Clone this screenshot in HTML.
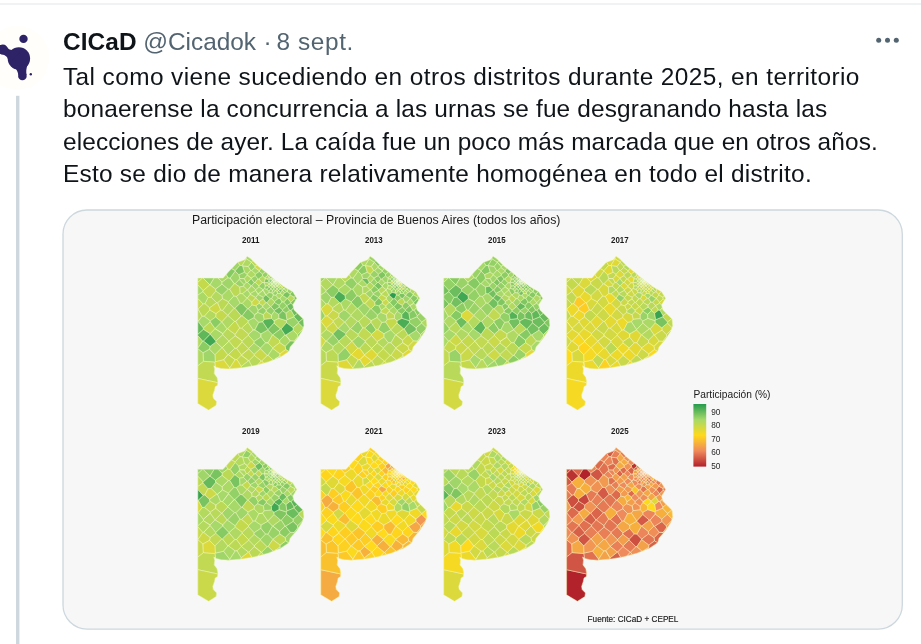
<!DOCTYPE html>
<html lang="es"><head><meta charset="utf-8"><title>CICaD</title><style>
html,body{margin:0;padding:0;background:#fff}
body{width:921px;height:644px;overflow:hidden;position:relative;font-family:"Liberation Sans",sans-serif;color:#0f1419}
.l{position:absolute;white-space:nowrap;left:63px;font-size:24.4px;line-height:32px;letter-spacing:0}
.top{position:absolute;left:0;top:3px;width:921px;height:2px;background:#f0f3f4}
.av{position:absolute;left:0;top:20px}
svg.chart{position:absolute;left:0;top:0}
svg text{font-family:"Liberation Sans",sans-serif}
</style></head><body>
<div class="top"></div>
<svg class="av" width="60" height="80" viewBox="0 20 60 80">
<circle cx="17.5" cy="58" r="32" fill="#fffefb"/>
<g fill="#2e2366">
<circle cx="23.5" cy="38.9" r="4.2"/>
<circle cx="18.9" cy="58.5" r="11.2"/>
<circle cx="2.8" cy="49.6" r="5"/>
<circle cx="22.4" cy="76" r="4.3"/>
<circle cx="30.8" cy="74.3" r="1.2"/>
<path d="M0 45 L4 45 C8 47 8 50 12 50 L20 52 L12 61 L8.4 60 C7.4 56.5 4 54.5 0 53.6Z"/>
<path d="M14 66 C17 70 18 72 18.3 75 L26.6 75 C26 72 26 68 28 64Z"/>
</g></svg>
<div class="l" id="h" style="top:25.6px;letter-spacing:0.1px"><b>CICaD</b></div>
<div class="l" style="top:26px;left:143.2px;letter-spacing:0px;color:#536471">@Cicadok</div>
<div class="l" style="top:26px;left:263.5px;color:#536471">·</div>
<div class="l" style="top:26px;left:276.5px;letter-spacing:0.6px;color:#536471">8 sept.</div>
<svg style="position:absolute;left:870px;top:32px" width="36" height="16"><g fill="#536471"><circle cx="8.7" cy="8.2" r="2.5"/><circle cx="17.5" cy="8.2" r="2.5"/><circle cx="26.3" cy="8.2" r="2.5"/></g></svg>
<div class="l" id="l1" style="top:61px;letter-spacing:0.408px">Tal como viene sucediendo en otros distritos durante 2025, en territorio</div>
<div class="l" id="l2" style="top:93.3px;letter-spacing:0.156px">bonaerense la concurrencia a las urnas se fue desgranando hasta las</div>
<div class="l" id="l3" style="top:125.6px;letter-spacing:0.114px">elecciones de ayer. La caída fue un poco más marcada que en otros años.</div>
<div class="l" id="l4" style="top:157.9px;letter-spacing:0.254px">Esto se dio de manera relativamente homogénea en todo el distrito.</div>
<svg class="chart" width="921" height="644" viewBox="0 0 921 644">
<defs><linearGradient id="lg" x1="0" y1="0" x2="0" y2="1">
<stop offset="0" stop-color="#259b4d"/><stop offset="0.25" stop-color="#a6d96a"/><stop offset="0.5" stop-color="#ffd91a"/><stop offset="0.75" stop-color="#ef8a5c"/><stop offset="1" stop-color="#b2202b"/></linearGradient>
<radialGradient id="gba"><stop offset="0" stop-color="#fffff0" stop-opacity=".75"/><stop offset=".5" stop-color="#fffff0" stop-opacity=".35"/><stop offset="1" stop-color="#fffff0" stop-opacity="0"/></radialGradient><clipPath id="pc"><path d="M0 22L25.3 22L31 15.5L39.6 6.4L46.8 3.8L49.4 0.3L53.3 3.1L59.8 9.7L70.3 18.1L78.1 24.7L85.9 30.5L95 35.7L99 42.3L95 48.8L96.3 54L101.6 59.2L105.5 63.1L106.1 69.7L104.2 75.3L99 83.1L92.4 91L91.1 95.5L83.3 100.7L70.3 106L57.2 109.5L44.2 111.8L31.1 112.9L23.3 112.5L18.5 111.2L16 109.7L16.9 113L16.4 117.6L19.2 121.4L20.2 125.1L19.7 129.3L17.4 130.7L16.6 134.4L15 139.1L15.5 142.3L18.8 145.6L18.3 149.3L10.8 154L0 147.5Z"/></clipPath>
<filter id="bl" x="-5%" y="-5%" width="110%" height="110%"><feGaussianBlur stdDeviation="0.55"/></filter></defs>
<rect x="16.05" y="95.8" width="3.35" height="560" fill="#cdd7dd"/>
<rect x="63" y="210" width="839.3" height="419.1" rx="24" fill="#f7f7f7" stroke="#cdd8de" stroke-width="1.3"/>
<text x="192" y="224.3" font-size="12.3" fill="#1a1a1a" id="ttl">Participación electoral – Provincia de Buenos Aires (todos los años)</text>
<text x="242" y="243.1" textLength="17.6" lengthAdjust="spacingAndGlyphs" font-size="9" font-weight="700" fill="#1c1c1c">2011</text><text x="365" y="243.1" textLength="17.6" lengthAdjust="spacingAndGlyphs" font-size="9" font-weight="700" fill="#1c1c1c">2013</text><text x="488" y="243.1" textLength="17.6" lengthAdjust="spacingAndGlyphs" font-size="9" font-weight="700" fill="#1c1c1c">2015</text><text x="611" y="243.1" textLength="17.6" lengthAdjust="spacingAndGlyphs" font-size="9" font-weight="700" fill="#1c1c1c">2017</text><text x="242" y="434.4" textLength="17.6" lengthAdjust="spacingAndGlyphs" font-size="9" font-weight="700" fill="#1c1c1c">2019</text><text x="365" y="434.4" textLength="17.6" lengthAdjust="spacingAndGlyphs" font-size="9" font-weight="700" fill="#1c1c1c">2021</text><text x="488" y="434.4" textLength="17.6" lengthAdjust="spacingAndGlyphs" font-size="9" font-weight="700" fill="#1c1c1c">2023</text><text x="611" y="434.4" textLength="17.6" lengthAdjust="spacingAndGlyphs" font-size="9" font-weight="700" fill="#1c1c1c">2025</text>
<g stroke="#f6fbd0" stroke-opacity=".55" stroke-width=".85" stroke-linejoin="round" filter="url(#bl)">
<g transform="translate(197.8 256)"><path d="M0 22L25.3 22L31 15.5L39.6 6.4L46.8 3.8L49.4 0.3L53.3 3.1L59.8 9.7L70.3 18.1L78.1 24.7L85.9 30.5L95 35.7L99 42.3L95 48.8L96.3 54L101.6 59.2L105.5 63.1L106.1 69.7L104.2 75.3L99 83.1L92.4 91L91.1 95.5L83.3 100.7L70.3 106L57.2 109.5L44.2 111.8L31.1 112.9L23.3 112.5L18.5 111.2L16 109.7L16.9 113L16.4 117.6L19.2 121.4L20.2 125.1L19.7 129.3L17.4 130.7L16.6 134.4L15 139.1L15.5 142.3L18.8 145.6L18.3 149.3L10.8 154L0 147.5Z" fill="#aed963"/><path d="M4.7 22.0L0.0 22.0L0.0 26.4ZM42.1 9.4L44.3 9.6L48.4 2.8L48.2 1.9L46.8 3.8L40.1 6.2ZM13.2 41.1L10.3 41.4L7.1 47.7L11.8 51.9L18.9 46.7ZM0.2 65.4L4.4 60.2L0.3 53.0L0.0 52.9L0.0 65.4ZM25.0 77.6L24.9 78.8L31.1 85.2L37.5 79.8L37.4 78.4L29.7 72.8L29.3 72.8ZM55.5 74.0L50.2 66.2L43.7 72.1L50.8 78.2ZM51.0 104.8L54.0 110.1L57.2 109.5L60.2 108.7L63.5 104.9L56.4 99.3ZM93.0 46.5L96.6 42.9L96.4 41.1L92.3 38.9L89.6 42.3ZM69.2 23.1L71.6 21.5L71.6 21.4L69.7 19.6L66.9 21.7L67.5 23.0Z" fill="#b8d95a"/><path d="M12.1 28.9L12.2 28.9L16.4 22.0L5.2 22.0ZM24.2 28.1L17.7 33.1L18.0 35.1L24.2 39.5L30.5 33.3ZM37.3 27.7L41.8 31.0L45.7 30.2L46.4 28.7L41.4 23.4ZM89.1 63.7L88.5 64.6L88.7 66.8L95.2 71.8L100.8 67.0L100.9 66.1L96.1 60.8ZM53.6 6.3L50.4 10.5L52.8 14.5L53.9 14.6L57.1 11.4L57.2 10.3ZM49.5 19.0L49.5 18.2L46.6 16.2L40.9 18.7L42.0 22.5L46.5 22.6ZM61.6 14.8L61.6 15.5L64.6 18.1L67.7 16.0L63.1 12.3ZM57.5 19.5L53.2 22.0L53.3 22.5L56.4 26.7L57.5 26.4L60.2 22.9ZM58.0 49.7L60.4 54.4L65.0 51.2L64.9 49.7L61.3 47.3ZM92.2 38.2L94.5 35.4L90.3 33.0L90.0 33.4L89.3 35.7ZM69.5 26.5L71.1 28.2L71.2 28.2L72.9 26.6L71.2 25.3ZM77.4 24.1L76.2 23.1L74.8 24.6L76.2 26.0L77.9 25.0L77.9 24.9ZM76.2 26.6L76.2 26.0L74.8 24.6L74.4 24.6L72.9 26.6L74.1 27.8L74.5 27.9ZM73.1 32.7L72.9 32.7L71.0 35.1L71.3 36.5L74.3 37.2L74.7 34.0ZM79.4 29.9L79.2 29.9L77.6 31.5L78.8 33.0L79.4 32.9L80.7 31.4ZM86.4 32.8L87.6 31.4L85.9 30.5L85.6 30.2L84.5 31.3L84.5 31.4L85.6 32.8ZM85.6 32.8L84.5 31.4L82.4 33.0L84.2 34.6L84.7 34.5ZM86.9 36.8L89.2 35.7L86.4 32.8L85.6 32.8L84.7 34.5Z" fill="#99d367"/><path d="M5.3 34.7L12.1 28.9L5.2 22.0L4.7 22.0L0.0 26.4L0.0 28.9ZM0.0 42.3L0.0 52.9L0.3 53.0L5.4 48.1ZM30.0 59.2L24.7 54.4L22.8 54.0L18.1 57.6L17.8 61.1L23.7 65.9L24.1 65.9L30.0 59.6ZM29.7 72.8L37.4 78.4L42.0 71.9L38.0 65.4L36.7 65.3ZM24.5 91.6L24.1 91.6L17.1 98.7L17.5 105.8L25.8 103.9L30.1 98.7ZM38.8 92.2L37.0 92.2L30.6 98.6L37.4 103.7L39.2 103.6L43.6 99.2L43.7 98.9ZM25.8 103.9L32.0 112.0L37.4 103.7L30.6 98.6L30.1 98.7ZM65.7 107.2L70.3 106.0L75.4 103.9L70.3 99.3L69.3 99.5L63.9 104.9Z" fill="#c5d94e"/><path d="M5.2 35.6L5.3 34.7L0.0 28.9L0.0 39.3ZM12.2 28.9L17.7 33.1L24.2 28.1L24.2 26.0L20.3 22.0L16.4 22.0ZM6.5 60.1L4.4 60.2L0.2 65.4L5.5 72.1L12.5 65.8L12.5 64.8ZM37.1 52.3L42.5 47.2L38.7 40.4L36.1 39.9L30.6 45.8L30.7 46.5L36.3 52.4ZM56.2 61.6L50.3 64.7L50.2 66.2L55.5 74.0L57.2 73.8L61.0 66.4ZM57.2 73.8L55.5 74.0L50.8 78.2L50.6 79.3L56.3 85.5L63.0 81.1L63.1 77.8ZM63.1 77.8L63.0 81.1L67.6 86.8L70.2 86.9L74.8 78.8L70.0 73.9ZM69.3 99.5L70.3 99.3L75.0 92.3L75.0 91.9L70.2 86.9L67.6 86.8L62.6 92.0L62.5 92.7ZM100.0 80.5L96.4 85.2L96.7 85.9L99.0 83.1L100.6 80.7ZM48.4 2.8L53.6 6.2L55.0 4.8L53.3 3.1L49.7 0.5L48.8 1.1L48.2 1.9ZM61.6 15.5L61.6 14.8L57.1 11.4L53.9 14.6L57.6 18.1ZM52.3 37.5L49.9 33.9L49.4 33.9L44.4 37.7L49.2 42.2L49.5 42.1L52.4 38.4ZM61.3 30.7L57.8 33.6L57.8 34.4L60.3 38.0L65.2 34.1L65.2 33.6ZM60.3 38.6L60.3 38.0L57.8 34.4L52.3 37.5L52.4 38.4L57.9 41.5ZM69.3 33.2L66.7 32.5L65.2 33.6L65.2 34.1L68.0 39.1L68.2 39.1L71.3 36.5L71.0 35.1ZM68.0 39.1L65.2 34.1L60.3 38.0L60.3 38.6L65.5 41.3ZM64.9 49.7L65.0 51.2L68.4 54.1L72.7 50.7L69.1 46.6L68.2 46.5ZM82.1 42.4L84.2 46.0L85.9 46.2L89.5 42.4L84.8 39.4L84.3 39.4ZM81.2 62.3L81.1 58.4L76.4 55.2L73.7 59.0L73.7 62.6L76.2 64.9ZM73.0 23.1L74.4 24.6L74.8 24.6L76.2 23.1L74.5 21.7ZM74.1 27.8L72.9 26.6L72.9 26.6L71.2 28.2L72.5 29.8L73.0 29.7ZM80.0 26.1L78.1 24.7L77.9 24.9L77.9 25.0L79.3 26.6L79.7 26.6ZM86.4 32.8L89.2 35.7L89.3 35.7L90.0 33.4L88.1 31.8L87.6 31.4ZM84.2 34.6L82.7 36.3L82.8 37.6L84.3 39.4L84.8 39.4L86.9 36.8L84.7 34.5Z" fill="#a6d96a"/><path d="M42.1 9.4L40.1 6.2L39.6 6.4L33.7 12.7L37.4 14.7ZM42.0 22.5L40.9 18.7L37.4 15.1L32.3 22.1L36.5 27.8L37.3 27.7L41.4 23.4ZM30.1 21.7L24.2 26.0L24.2 28.1L30.5 33.3L31.9 33.3L36.5 27.8L32.3 22.1ZM50.3 52.8L56.6 58.9L60.1 56.4L60.4 54.4L58.0 49.7L54.3 48.9ZM17.1 98.7L11.7 93.1L5.2 96.7L5.6 105.3L17.1 106.2L17.5 105.8ZM64.8 65.9L66.5 63.4L65.5 58.6L60.1 56.4L56.6 58.9L56.2 61.6L61.0 66.4ZM46.5 22.6L42.0 22.5L41.4 23.4L46.4 28.7L48.4 26.3ZM56.4 26.7L53.7 29.8L57.8 33.6L61.3 30.7L61.2 29.9L57.5 26.4ZM65.5 41.3L60.3 38.6L57.9 41.5L57.9 41.9L61.4 45.6L65.4 42.9ZM73.8 42.6L76.5 45.6L80.8 42.3L78.1 39.2L75.6 38.9ZM72.9 23.1L71.6 21.5L69.2 23.1L71.2 24.6ZM79.3 26.6L77.9 25.0L76.2 26.0L76.2 26.6L77.8 28.3L78.0 28.3ZM79.2 29.9L78.0 28.3L77.8 28.3L75.9 29.7L75.9 29.7L77.4 31.5L77.6 31.5ZM77.4 31.5L75.9 29.7L74.5 30.9L74.5 31.2L76.1 32.7ZM74.7 34.0L74.3 37.2L75.0 37.8L77.7 34.7L77.7 34.7L76.0 33.2Z" fill="#a0d669"/><path d="M30.1 21.7L32.3 22.1L37.4 15.1L37.4 14.7L33.7 12.7L31.0 15.5L28.4 18.5ZM56.2 61.6L56.6 58.9L50.3 52.8L49.6 52.8L44.2 59.8L50.3 64.7ZM49.7 26.5L53.4 29.8L53.7 29.8L56.4 26.7L53.3 22.5ZM76.5 45.6L76.6 46.6L81.4 49.4L84.2 46.0L82.1 42.4L80.8 42.3ZM85.9 46.2L89.0 49.7L89.1 49.7L93.0 47.2L93.0 46.5L89.6 42.3L89.5 42.4ZM71.6 21.4L71.6 21.5L72.9 23.1L73.0 23.1L74.5 21.7L72.7 20.2ZM71.5 31.1L69.6 29.7L67.4 29.9L66.7 32.5L69.3 33.2L71.5 31.2Z" fill="#86ca63"/><path d="M28.4 18.5L25.3 22.0L20.3 22.0L24.2 26.0L30.1 21.7ZM5.4 48.1L7.1 47.7L10.3 41.4L5.2 35.6L0.0 39.3L0.0 42.3ZM31.9 33.3L30.5 33.3L24.2 39.5L24.6 42.7L30.6 45.8L36.1 39.9ZM49.5 42.1L49.2 42.2L44.3 47.4L49.6 52.8L50.3 52.8L54.3 48.9L54.1 46.1ZM23.7 65.9L17.2 72.5L17.2 72.6L25.0 77.6L29.3 72.8L24.1 65.9ZM12.3 77.7L12.4 78.2L18.0 85.1L24.9 78.8L25.0 77.6L17.2 72.6ZM24.1 91.6L18.0 85.9L12.3 90.3L11.7 93.1L17.1 98.7ZM50.9 92.9L56.3 98.5L62.5 92.7L62.6 92.0L56.3 87.0L50.8 92.4ZM96.4 85.2L100.0 80.5L99.7 78.6L95.4 74.2L87.9 79.0L92.6 85.0ZM81.9 86.7L87.4 90.4L92.6 85.0L87.9 79.0L87.2 78.8L81.8 84.2ZM82.1 100.0L82.2 97.8L75.0 92.3L70.3 99.3L75.4 103.9L77.1 103.2ZM82.1 100.0L77.1 103.2L82.9 100.9ZM52.8 14.5L50.4 10.5L44.7 9.8L46.6 16.2L49.5 18.2ZM46.4 28.7L45.7 30.2L49.4 33.9L49.9 33.9L53.4 29.8L49.7 26.5L48.4 26.3ZM57.8 34.4L57.8 33.6L53.7 29.8L53.4 29.8L49.9 33.9L52.3 37.5ZM79.6 37.5L78.1 39.2L80.8 42.3L82.1 42.4L84.3 39.4L82.8 37.6ZM69.7 19.6L71.6 21.4L72.7 20.2L70.3 18.1L70.1 18.0ZM79.2 29.9L79.4 29.9L81.3 28.4L81.2 27.6L79.7 26.6L79.3 26.6L78.0 28.3ZM81.2 31.5L82.9 29.7L82.8 29.5L81.3 28.4L79.4 29.9L80.7 31.4Z" fill="#aad966"/><path d="M12.2 28.9L12.1 28.9L5.3 34.7L5.2 35.6L10.3 41.4L13.2 41.1L18.0 35.1L17.7 33.1ZM43.7 72.1L42.0 71.9L37.4 78.4L37.5 79.8L44.4 84.9L50.6 79.3L50.8 78.2ZM44.4 84.9L37.5 79.8L31.1 85.2L31.1 85.3L37.0 92.2L38.8 92.2L44.4 85.9ZM44.4 85.9L38.8 92.2L43.7 98.9L50.9 92.9L50.8 92.4ZM43.7 98.9L43.6 99.2L50.8 104.8L51.0 104.8L56.4 99.3L56.3 98.5L50.9 92.9ZM43.6 99.2L39.2 103.6L43.4 110.5L50.8 104.8ZM70.2 86.9L75.0 91.9L81.9 86.7L81.8 84.2L75.0 78.8L74.8 78.8ZM53.6 6.2L53.6 6.3L57.2 10.3L59.3 9.1L55.0 4.8ZM61.4 45.6L61.3 47.3L64.9 49.7L68.2 46.5L65.4 42.9ZM17.1 106.2L5.6 105.3L0.0 109.7L0.0 122.4L20.0 126.7L20.0 126.6L19.4 122.1L19.2 121.4L16.4 117.6L16.9 113.0L16.0 109.7L17.8 110.8Z" fill="#c1d952"/><path d="M44.7 9.8L44.3 9.6L42.1 9.4L37.4 14.7L37.4 15.1L40.9 18.7L46.6 16.2ZM43.5 59.9L44.2 59.8L49.6 52.8L44.3 47.4L42.5 47.2L37.1 52.3ZM70.0 73.9L74.8 78.8L75.0 78.8L82.8 72.9L76.2 67.1L70.0 73.7ZM73.0 50.7L76.4 54.4L81.5 51.2L81.4 49.4L76.6 46.6ZM92.2 38.2L92.3 38.9L96.4 41.1L97.7 40.2L95.0 35.7L94.5 35.4ZM95.0 49.0L95.0 48.8L98.0 44.0L96.6 42.9L93.0 46.5L93.0 47.2ZM72.9 32.7L71.5 31.2L69.3 33.2L71.0 35.1ZM77.7 34.7L78.8 33.0L77.6 31.5L77.4 31.5L76.1 32.7L76.0 33.2Z" fill="#7fc661"/><path d="M18.0 35.1L13.2 41.1L18.9 46.7L19.7 46.9L24.6 42.7L24.2 39.5ZM18.1 57.6L12.1 53.9L6.5 60.1L12.5 64.8L17.8 61.1ZM36.3 52.4L30.7 46.5L24.7 54.4L30.0 59.2ZM24.9 78.8L18.0 85.1L18.0 85.9L24.1 91.6L24.5 91.6L31.1 85.3L31.1 85.2ZM30.6 98.6L37.0 92.2L31.1 85.3L24.5 91.6L30.1 98.7ZM82.8 72.9L83.4 72.9L88.7 66.8L88.5 64.6L81.2 62.3L76.2 64.9L76.2 67.1ZM50.8 104.8L43.4 110.5L43.3 111.5L43.7 111.8L44.2 111.8L54.0 110.1L51.0 104.8ZM100.8 67.0L95.2 71.8L95.4 74.2L99.7 78.6L104.6 74.0L105.4 71.6ZM42.2 37.6L44.4 37.7L49.4 33.9L45.7 30.2L41.8 31.0ZM67.5 23.0L66.9 21.7L64.7 19.9L61.0 22.9L64.3 26.7L66.4 26.7L66.5 26.5ZM66.4 26.7L67.4 29.9L69.6 29.7L71.1 28.2L69.5 26.5L66.5 26.5ZM74.5 27.9L74.1 27.8L73.0 29.7L74.5 30.9L75.9 29.7L75.9 29.7ZM81.2 27.6L81.3 28.4L82.8 29.5L83.6 28.8L81.6 27.3ZM84.5 31.3L82.9 29.7L81.2 31.5L82.3 33.0L82.4 33.0L84.5 31.4ZM79.4 32.9L78.8 33.0L77.7 34.7L77.7 34.7L79.4 35.8L80.8 34.5Z" fill="#b3d95e"/><path d="M11.8 51.9L7.1 47.7L5.4 48.1L0.3 53.0L4.4 60.2L6.5 60.1L12.1 53.9ZM42.2 37.6L41.8 31.0L37.3 27.7L36.5 27.8L31.9 33.3L36.1 39.9L38.7 40.4ZM30.6 45.8L24.6 42.7L19.7 46.9L22.8 54.0L24.7 54.4L30.7 46.5ZM12.5 65.8L5.5 72.1L5.6 73.4L12.3 77.7L17.2 72.6L17.2 72.5ZM36.7 65.3L38.0 65.4L43.5 59.9L37.1 52.3L36.3 52.4L30.0 59.2L30.0 59.6ZM50.3 64.7L44.2 59.8L43.5 59.9L38.0 65.4L42.0 71.9L43.7 72.1L50.2 66.2ZM56.3 87.0L56.3 85.5L50.6 79.3L44.4 84.9L44.4 85.9L50.8 92.4ZM61.0 22.9L60.2 22.9L57.5 26.4L61.2 29.9L64.3 26.7ZM57.9 41.5L52.4 38.4L49.5 42.1L54.1 46.1L57.9 41.9ZM73.7 59.0L68.3 55.3L65.5 58.6L66.5 63.4L73.7 62.6Z" fill="#bcd956"/><path d="M22.8 54.0L19.7 46.9L18.9 46.7L11.8 51.9L12.1 53.9L18.1 57.6ZM57.9 41.9L54.1 46.1L54.3 48.9L58.0 49.7L61.3 47.3L61.4 45.6Z" fill="#ced946"/><path d="M5.6 73.4L5.5 72.1L0.2 65.4L0.0 65.4L0.0 78.4ZM100.9 66.1L105.2 62.8L101.6 59.2L99.6 57.3L96.4 59.7L96.1 60.8Z" fill="#66ba5c"/><path d="M42.5 47.2L44.3 47.4L49.2 42.2L44.4 37.7L42.2 37.6L38.7 40.4ZM4.9 85.1L0.0 79.6L0.0 92.3ZM24.1 65.9L29.3 72.8L29.7 72.8L36.7 65.3L30.0 59.6ZM5.6 105.3L5.2 96.7L0.0 92.5L0.0 109.7ZM53.6 6.2L48.4 2.8L44.3 9.6L44.7 9.8L50.4 10.5L53.6 6.3ZM57.5 19.5L57.6 18.1L53.9 14.6L52.8 14.5L49.5 18.2L49.5 19.0L53.2 22.0ZM49.5 19.0L46.5 22.6L48.4 26.3L49.7 26.5L53.3 22.5L53.2 22.0ZM69.1 46.6L72.7 50.7L73.0 50.7L76.6 46.6L76.5 45.6L73.8 42.6L72.3 42.7ZM88.0 57.2L89.1 63.7L96.1 60.8L96.4 59.7L93.4 54.4L91.9 54.2ZM72.5 29.8L71.2 28.2L71.1 28.2L69.6 29.7L71.5 31.1Z" fill="#afd962"/><path d="M12.5 64.8L12.5 65.8L17.2 72.5L23.7 65.9L17.8 61.1ZM12.3 90.3L5.8 85.1L4.9 85.1L0.0 92.3L0.0 92.5L5.2 96.7L11.7 93.1ZM81.8 84.2L87.2 78.8L83.4 72.9L82.8 72.9L75.0 78.8ZM99.7 78.6L100.0 80.5L100.6 80.7L104.2 75.3L104.6 74.0ZM64.7 19.9L64.6 18.1L61.6 15.5L57.6 18.1L57.5 19.5L60.2 22.9L61.0 22.9ZM89.0 49.7L84.5 53.8L84.7 54.7L88.0 57.2L91.9 54.2L89.1 49.7ZM74.5 31.2L74.5 30.9L73.0 29.7L72.5 29.8L71.5 31.1L71.5 31.2L72.9 32.7L73.1 32.7ZM76.1 32.7L74.5 31.2L73.1 32.7L74.7 34.0L76.0 33.2Z" fill="#8ccd64"/><path d="M5.6 73.4L0.0 78.4L0.0 79.6L4.9 85.1L5.8 85.1L12.4 78.2L12.3 77.7Z" fill="#5fb75a"/><path d="M5.8 85.1L12.3 90.3L18.0 85.9L18.0 85.1L12.4 78.2Z" fill="#3fa753"/><path d="M76.2 67.1L76.2 64.9L73.7 62.6L66.5 63.4L64.8 65.9L70.0 73.7Z" fill="#59b459"/><path d="M64.8 65.9L61.0 66.4L57.2 73.8L63.1 77.8L70.0 73.9L70.0 73.7ZM96.4 85.2L92.6 85.0L87.4 90.4L87.9 93.6L91.1 95.5L91.1 95.5L92.4 91.0L96.7 85.9ZM86.9 36.8L84.8 39.4L89.5 42.4L89.6 42.3L92.3 38.9L92.2 38.2L89.3 35.7L89.2 35.7ZM96.4 41.1L96.6 42.9L98.0 44.0L99.0 42.3L97.7 40.2ZM84.7 54.7L81.1 58.4L81.2 62.3L88.5 64.6L89.1 63.7L88.0 57.2ZM69.5 26.5L71.2 25.3L71.2 24.6L69.2 23.1L67.5 23.0L66.5 26.5Z" fill="#79c360"/><path d="M32.0 112.0L25.8 103.9L17.5 105.8L17.1 106.2L17.8 110.8L18.5 111.2L23.3 112.5L31.1 112.9L32.1 112.8ZM0.0 122.4L0.0 147.5L10.8 154.0L18.3 149.3L18.8 145.6L15.5 142.3L15.0 139.1L16.6 134.4L17.4 130.7L19.7 129.3L20.0 126.7Z" fill="#dbd93a"/><path d="M62.6 92.0L67.6 86.8L63.0 81.1L56.3 85.5L56.3 87.0ZM69.7 19.6L70.1 18.0L67.7 16.0L64.6 18.1L64.7 19.9L66.9 21.7ZM64.3 26.7L61.2 29.9L61.3 30.7L65.2 33.6L66.7 32.5L67.4 29.9L66.4 26.7ZM68.2 39.1L72.3 42.7L73.8 42.6L75.6 38.9L75.0 37.8L74.3 37.2L71.3 36.5ZM60.4 54.4L60.1 56.4L65.5 58.6L68.3 55.3L68.4 54.1L65.0 51.2ZM68.4 54.1L68.3 55.3L73.7 59.0L76.4 55.2L76.4 54.4L73.0 50.7L72.7 50.7ZM85.9 46.2L84.2 46.0L81.4 49.4L81.5 51.2L84.5 53.8L89.0 49.7ZM77.8 28.3L76.2 26.6L74.5 27.9L75.9 29.7ZM79.7 26.6L81.2 27.6L81.6 27.3L80.0 26.1ZM82.3 33.0L81.2 31.5L80.7 31.4L79.4 32.9L80.8 34.5L81.1 34.5ZM77.7 34.7L75.0 37.8L75.6 38.9L78.1 39.2L79.6 37.5L79.4 35.8ZM81.1 34.5L80.8 34.5L79.4 35.8L79.6 37.5L82.8 37.6L82.7 36.3Z" fill="#93d066"/><path d="M39.2 103.6L37.4 103.7L32.0 112.0L32.1 112.8L42.5 111.9L43.3 111.5L43.4 110.5Z" fill="#d7d93e"/><path d="M87.2 78.8L87.9 79.0L95.4 74.2L95.2 71.8L88.7 66.8L83.4 72.9Z" fill="#45aa54"/><path d="M56.4 99.3L63.5 104.9L63.9 104.9L69.3 99.5L62.5 92.7L56.3 98.5ZM75.0 91.9L75.0 92.3L82.2 97.8L87.9 93.6L87.4 90.4L81.9 86.7ZM82.8 29.5L82.9 29.7L84.5 31.3L85.6 30.2L83.6 28.8Z" fill="#cad94a"/><path d="M100.9 66.1L100.8 67.0L105.4 71.6L106.1 69.7L105.5 63.1L105.2 62.8ZM68.2 46.5L69.1 46.6L72.3 42.7L68.2 39.1L68.0 39.1L65.5 41.3L65.4 42.9ZM81.5 51.2L76.4 54.4L76.4 55.2L81.1 58.4L84.7 54.7L84.5 53.8ZM82.4 33.0L82.3 33.0L81.1 34.5L82.7 36.3L84.2 34.6Z" fill="#72c05e"/><path d="M60.2 108.7L65.7 107.2L63.9 104.9L63.5 104.9ZM87.9 93.6L82.2 97.8L82.1 100.0L82.9 100.9L83.3 100.7L91.1 95.5Z" fill="#e0d936"/><path d="M57.2 10.3L57.1 11.4L61.6 14.8L63.1 12.3L59.8 9.7L59.3 9.1Z" fill="#d3d942"/><path d="M91.9 54.2L93.4 54.4L95.7 51.7L95.0 49.0L93.0 47.2L89.1 49.7ZM96.4 59.7L99.6 57.3L96.3 54.0L95.7 51.7L93.4 54.4ZM72.9 26.6L72.9 26.6L74.4 24.6L73.0 23.1L72.9 23.1L71.2 24.6L71.2 25.3Z" fill="#6cbd5d"/><circle cx="77.5" cy="24.5" r="8" fill="url(#gba)" stroke="none" clip-path="url(#pc)"/></g>
<g transform="translate(320.8 256)"><path d="M0 22L25.3 22L31 15.5L39.6 6.4L46.8 3.8L49.4 0.3L53.3 3.1L59.8 9.7L70.3 18.1L78.1 24.7L85.9 30.5L95 35.7L99 42.3L95 48.8L96.3 54L101.6 59.2L105.5 63.1L106.1 69.7L104.2 75.3L99 83.1L92.4 91L91.1 95.5L83.3 100.7L70.3 106L57.2 109.5L44.2 111.8L31.1 112.9L23.3 112.5L18.5 111.2L16 109.7L16.9 113L16.4 117.6L19.2 121.4L20.2 125.1L19.7 129.3L17.4 130.7L16.6 134.4L15 139.1L15.5 142.3L18.8 145.6L18.3 149.3L10.8 154L0 147.5Z" fill="#b1d960"/><path d="M4.7 22.0L0.0 22.0L0.0 26.4ZM30.1 21.7L24.2 26.0L24.2 28.1L30.5 33.3L31.9 33.3L36.5 27.8L32.3 22.1ZM24.5 91.6L24.1 91.6L17.1 98.7L17.5 105.8L25.8 103.9L30.1 98.7ZM64.8 65.9L61.0 66.4L57.2 73.8L63.1 77.8L70.0 73.9L70.0 73.7ZM89.1 63.7L88.5 64.6L88.7 66.8L95.2 71.8L100.8 67.0L100.9 66.1L96.1 60.8ZM100.8 67.0L95.2 71.8L95.4 74.2L99.7 78.6L104.6 74.0L105.4 71.6ZM61.6 14.8L61.6 15.5L64.6 18.1L67.7 16.0L63.1 12.3ZM66.4 26.7L67.4 29.9L69.6 29.7L71.1 28.2L69.5 26.5L66.5 26.5ZM76.2 26.6L76.2 26.0L74.8 24.6L74.4 24.6L72.9 26.6L74.1 27.8L74.5 27.9ZM79.3 26.6L77.9 25.0L76.2 26.0L76.2 26.6L77.8 28.3L78.0 28.3ZM72.9 32.7L71.5 31.2L69.3 33.2L71.0 35.1ZM79.4 32.9L78.8 33.0L77.7 34.7L77.7 34.7L79.4 35.8L80.8 34.5Z" fill="#93d066"/><path d="M12.1 28.9L12.2 28.9L16.4 22.0L5.2 22.0ZM42.0 22.5L40.9 18.7L37.4 15.1L32.3 22.1L36.5 27.8L37.3 27.7L41.4 23.4ZM23.7 65.9L17.2 72.5L17.2 72.6L25.0 77.6L29.3 72.8L24.1 65.9ZM64.8 65.9L66.5 63.4L65.5 58.6L60.1 56.4L56.6 58.9L56.2 61.6L61.0 66.4ZM63.1 77.8L63.0 81.1L67.6 86.8L70.2 86.9L74.8 78.8L70.0 73.9ZM96.4 85.2L100.0 80.5L99.7 78.6L95.4 74.2L87.9 79.0L92.6 85.0ZM61.0 22.9L60.2 22.9L57.5 26.4L61.2 29.9L64.3 26.7ZM64.3 26.7L61.2 29.9L61.3 30.7L65.2 33.6L66.7 32.5L67.4 29.9L66.4 26.7ZM69.3 33.2L66.7 32.5L65.2 33.6L65.2 34.1L68.0 39.1L68.2 39.1L71.3 36.5L71.0 35.1ZM68.2 46.5L69.1 46.6L72.3 42.7L68.2 39.1L68.0 39.1L65.5 41.3L65.4 42.9ZM64.9 49.7L65.0 51.2L68.4 54.1L72.7 50.7L69.1 46.6L68.2 46.5ZM81.2 62.3L81.1 58.4L76.4 55.2L73.7 59.0L73.7 62.6L76.2 64.9ZM96.4 41.1L96.6 42.9L98.0 44.0L99.0 42.3L97.7 40.2ZM74.5 31.2L74.5 30.9L73.0 29.7L72.5 29.8L71.5 31.1L71.5 31.2L72.9 32.7L73.1 32.7ZM74.7 34.0L74.3 37.2L75.0 37.8L77.7 34.7L77.7 34.7L76.0 33.2ZM82.8 29.5L82.9 29.7L84.5 31.3L85.6 30.2L83.6 28.8ZM84.2 34.6L82.7 36.3L82.8 37.6L84.3 39.4L84.8 39.4L86.9 36.8L84.7 34.5Z" fill="#a6d96a"/><path d="M5.3 34.7L12.1 28.9L5.2 22.0L4.7 22.0L0.0 26.4L0.0 28.9ZM13.2 41.1L10.3 41.4L7.1 47.7L11.8 51.9L18.9 46.7ZM36.3 52.4L30.7 46.5L24.7 54.4L30.0 59.2ZM24.1 65.9L29.3 72.8L29.7 72.8L36.7 65.3L30.0 59.6ZM24.1 91.6L18.0 85.9L12.3 90.3L11.7 93.1L17.1 98.7ZM62.6 92.0L67.6 86.8L63.0 81.1L56.3 85.5L56.3 87.0ZM82.1 100.0L77.1 103.2L82.9 100.9ZM46.4 28.7L45.7 30.2L49.4 33.9L49.9 33.9L53.4 29.8L49.7 26.5L48.4 26.3ZM92.2 38.2L92.3 38.9L96.4 41.1L97.7 40.2L95.0 35.7L94.5 35.4ZM69.2 23.1L71.6 21.5L71.6 21.4L69.7 19.6L66.9 21.7L67.5 23.0ZM71.5 31.1L69.6 29.7L67.4 29.9L66.7 32.5L69.3 33.2L71.5 31.2ZM79.7 26.6L81.2 27.6L81.6 27.3L80.0 26.1Z" fill="#b3d95e"/><path d="M5.2 35.6L5.3 34.7L0.0 28.9L0.0 39.3ZM24.2 28.1L17.7 33.1L18.0 35.1L24.2 39.5L30.5 33.3ZM37.3 27.7L41.8 31.0L45.7 30.2L46.4 28.7L41.4 23.4ZM42.2 37.6L41.8 31.0L37.3 27.7L36.5 27.8L31.9 33.3L36.1 39.9L38.7 40.4ZM30.6 45.8L24.6 42.7L19.7 46.9L22.8 54.0L24.7 54.4L30.7 46.5ZM99.7 78.6L100.0 80.5L100.6 80.7L104.2 75.3L104.6 74.0ZM53.6 6.2L48.4 2.8L44.3 9.6L44.7 9.8L50.4 10.5L53.6 6.3ZM53.6 6.3L50.4 10.5L52.8 14.5L53.9 14.6L57.1 11.4L57.2 10.3ZM58.0 49.7L60.4 54.4L65.0 51.2L64.9 49.7L61.3 47.3ZM68.4 54.1L68.3 55.3L73.7 59.0L76.4 55.2L76.4 54.4L73.0 50.7L72.7 50.7ZM85.9 46.2L89.0 49.7L89.1 49.7L93.0 47.2L93.0 46.5L89.6 42.3L89.5 42.4ZM91.9 54.2L93.4 54.4L95.7 51.7L95.0 49.0L93.0 47.2L89.1 49.7ZM77.4 24.1L76.2 23.1L74.8 24.6L76.2 26.0L77.9 25.0L77.9 24.9ZM77.7 34.7L78.8 33.0L77.6 31.5L77.4 31.5L76.1 32.7L76.0 33.2ZM86.9 36.8L89.2 35.7L86.4 32.8L85.6 32.8L84.7 34.5Z" fill="#aad966"/><path d="M42.1 9.4L44.3 9.6L48.4 2.8L48.2 1.9L46.8 3.8L40.1 6.2ZM30.1 21.7L32.3 22.1L37.4 15.1L37.4 14.7L33.7 12.7L31.0 15.5L28.4 18.5ZM12.2 28.9L17.7 33.1L24.2 28.1L24.2 26.0L20.3 22.0L16.4 22.0ZM0.0 42.3L0.0 52.9L0.3 53.0L5.4 48.1ZM5.6 73.4L0.0 78.4L0.0 79.6L4.9 85.1L5.8 85.1L12.4 78.2L12.3 77.7ZM36.7 65.3L38.0 65.4L43.5 59.9L37.1 52.3L36.3 52.4L30.0 59.2L30.0 59.6ZM12.3 90.3L5.8 85.1L4.9 85.1L0.0 92.3L0.0 92.5L5.2 96.7L11.7 93.1ZM39.2 103.6L37.4 103.7L32.0 112.0L32.1 112.8L42.5 111.9L43.3 111.5L43.4 110.5ZM100.9 66.1L100.8 67.0L105.4 71.6L106.1 69.7L105.5 63.1L105.2 62.8ZM49.5 19.0L46.5 22.6L48.4 26.3L49.7 26.5L53.3 22.5L53.2 22.0ZM42.2 37.6L44.4 37.7L49.4 33.9L45.7 30.2L41.8 31.0ZM92.2 38.2L94.5 35.4L90.3 33.0L90.0 33.4L89.3 35.7Z" fill="#afd962"/><path d="M42.1 9.4L40.1 6.2L39.6 6.4L33.7 12.7L37.4 14.7ZM12.2 28.9L12.1 28.9L5.3 34.7L5.2 35.6L10.3 41.4L13.2 41.1L18.0 35.1L17.7 33.1ZM44.7 9.8L44.3 9.6L42.1 9.4L37.4 14.7L37.4 15.1L40.9 18.7L46.6 16.2ZM31.9 33.3L30.5 33.3L24.2 39.5L24.6 42.7L30.6 45.8L36.1 39.9ZM50.3 52.8L56.6 58.9L60.1 56.4L60.4 54.4L58.0 49.7L54.3 48.9ZM55.5 74.0L50.2 66.2L43.7 72.1L50.8 78.2ZM57.5 19.5L53.2 22.0L53.3 22.5L56.4 26.7L57.5 26.4L60.2 22.9ZM57.8 34.4L57.8 33.6L53.7 29.8L53.4 29.8L49.9 33.9L52.3 37.5ZM73.8 42.6L76.5 45.6L80.8 42.3L78.1 39.2L75.6 38.9ZM85.9 46.2L84.2 46.0L81.4 49.4L81.5 51.2L84.5 53.8L89.0 49.7ZM96.4 59.7L99.6 57.3L96.3 54.0L95.7 51.7L93.4 54.4ZM74.1 27.8L72.9 26.6L72.9 26.6L71.2 28.2L72.5 29.8L73.0 29.7Z" fill="#8ccd64"/><path d="M28.4 18.5L25.3 22.0L20.3 22.0L24.2 26.0L30.1 21.7ZM5.6 73.4L5.5 72.1L0.2 65.4L0.0 65.4L0.0 78.4ZM17.1 98.7L11.7 93.1L5.2 96.7L5.6 105.3L17.1 106.2L17.5 105.8ZM56.3 87.0L56.3 85.5L50.6 79.3L44.4 84.9L44.4 85.9L50.8 92.4ZM44.4 85.9L38.8 92.2L43.7 98.9L50.9 92.9L50.8 92.4ZM50.9 92.9L56.3 98.5L62.5 92.7L62.6 92.0L56.3 87.0L50.8 92.4ZM81.8 84.2L87.2 78.8L83.4 72.9L82.8 72.9L75.0 78.8ZM70.2 86.9L75.0 91.9L81.9 86.7L81.8 84.2L75.0 78.8L74.8 78.8ZM50.8 104.8L43.4 110.5L43.3 111.5L43.7 111.8L44.2 111.8L54.0 110.1L51.0 104.8ZM76.5 45.6L76.6 46.6L81.4 49.4L84.2 46.0L82.1 42.4L80.8 42.3Z" fill="#bcd956"/><path d="M5.4 48.1L7.1 47.7L10.3 41.4L5.2 35.6L0.0 39.3L0.0 42.3ZM30.0 59.2L24.7 54.4L22.8 54.0L18.1 57.6L17.8 61.1L23.7 65.9L24.1 65.9L30.0 59.6ZM43.5 59.9L44.2 59.8L49.6 52.8L44.3 47.4L42.5 47.2L37.1 52.3ZM44.4 84.9L37.5 79.8L31.1 85.2L31.1 85.3L37.0 92.2L38.8 92.2L44.4 85.9ZM100.0 80.5L96.4 85.2L96.7 85.9L99.0 83.1L100.6 80.7ZM49.5 19.0L49.5 18.2L46.6 16.2L40.9 18.7L42.0 22.5L46.5 22.6ZM57.2 10.3L57.1 11.4L61.6 14.8L63.1 12.3L59.8 9.7L59.3 9.1ZM61.6 15.5L61.6 14.8L57.1 11.4L53.9 14.6L57.6 18.1ZM67.5 23.0L66.9 21.7L64.7 19.9L61.0 22.9L64.3 26.7L66.4 26.7L66.5 26.5ZM52.3 37.5L49.9 33.9L49.4 33.9L44.4 37.7L49.2 42.2L49.5 42.1L52.4 38.4ZM82.1 42.4L84.2 46.0L85.9 46.2L89.5 42.4L84.8 39.4L84.3 39.4ZM69.7 19.6L71.6 21.4L72.7 20.2L70.3 18.1L70.1 18.0ZM71.6 21.4L71.6 21.5L72.9 23.1L73.0 23.1L74.5 21.7L72.7 20.2ZM80.0 26.1L78.1 24.7L77.9 24.9L77.9 25.0L79.3 26.6L79.7 26.6ZM81.2 31.5L82.9 29.7L82.8 29.5L81.3 28.4L79.4 29.9L80.7 31.4ZM79.4 29.9L79.2 29.9L77.6 31.5L78.8 33.0L79.4 32.9L80.7 31.4Z" fill="#a0d669"/><path d="M18.0 35.1L13.2 41.1L18.9 46.7L19.7 46.9L24.6 42.7L24.2 39.5ZM82.8 72.9L83.4 72.9L88.7 66.8L88.5 64.6L81.2 62.3L76.2 64.9L76.2 67.1Z" fill="#4cae56"/><path d="M11.8 51.9L7.1 47.7L5.4 48.1L0.3 53.0L4.4 60.2L6.5 60.1L12.1 53.9Z" fill="#d7d93e"/><path d="M0.2 65.4L4.4 60.2L0.3 53.0L0.0 52.9L0.0 65.4ZM5.8 85.1L12.3 90.3L18.0 85.9L18.0 85.1L12.4 78.2ZM56.2 61.6L56.6 58.9L50.3 52.8L49.6 52.8L44.2 59.8L50.3 64.7ZM29.7 72.8L37.4 78.4L42.0 71.9L38.0 65.4L36.7 65.3ZM100.9 66.1L105.2 62.8L101.6 59.2L99.6 57.3L96.4 59.7L96.1 60.8ZM48.4 2.8L53.6 6.2L55.0 4.8L53.3 3.1L49.7 0.5L48.8 1.1L48.2 1.9ZM57.5 19.5L57.6 18.1L53.9 14.6L52.8 14.5L49.5 18.2L49.5 19.0L53.2 22.0ZM49.7 26.5L53.4 29.8L53.7 29.8L56.4 26.7L53.3 22.5ZM69.7 19.6L70.1 18.0L67.7 16.0L64.6 18.1L64.7 19.9L66.9 21.7ZM60.3 38.6L60.3 38.0L57.8 34.4L52.3 37.5L52.4 38.4L57.9 41.5ZM69.5 26.5L71.2 25.3L71.2 24.6L69.2 23.1L67.5 23.0L66.5 26.5ZM72.9 26.6L72.9 26.6L74.4 24.6L73.0 23.1L72.9 23.1L71.2 24.6L71.2 25.3ZM72.5 29.8L71.2 28.2L71.1 28.2L69.6 29.7L71.5 31.1ZM77.8 28.3L76.2 26.6L74.5 27.9L75.9 29.7ZM79.2 29.9L78.0 28.3L77.8 28.3L75.9 29.7L75.9 29.7L77.4 31.5L77.6 31.5ZM73.1 32.7L72.9 32.7L71.0 35.1L71.3 36.5L74.3 37.2L74.7 34.0ZM77.7 34.7L75.0 37.8L75.6 38.9L78.1 39.2L79.6 37.5L79.4 35.8ZM85.6 32.8L84.5 31.4L82.4 33.0L84.2 34.6L84.7 34.5ZM81.1 34.5L80.8 34.5L79.4 35.8L79.6 37.5L82.8 37.6L82.7 36.3ZM86.4 32.8L89.2 35.7L89.3 35.7L90.0 33.4L88.1 31.8L87.6 31.4Z" fill="#99d367"/><path d="M22.8 54.0L19.7 46.9L18.9 46.7L11.8 51.9L12.1 53.9L18.1 57.6ZM5.6 105.3L5.2 96.7L0.0 92.5L0.0 109.7ZM50.3 64.7L44.2 59.8L43.5 59.9L38.0 65.4L42.0 71.9L43.7 72.1L50.2 66.2ZM25.0 77.6L24.9 78.8L31.1 85.2L37.5 79.8L37.4 78.4L29.7 72.8L29.3 72.8ZM24.9 78.8L18.0 85.1L18.0 85.9L24.1 91.6L24.5 91.6L31.1 85.3L31.1 85.2ZM56.2 61.6L50.3 64.7L50.2 66.2L55.5 74.0L57.2 73.8L61.0 66.4ZM70.0 73.9L74.8 78.8L75.0 78.8L82.8 72.9L76.2 67.1L70.0 73.7ZM69.3 99.5L70.3 99.3L75.0 92.3L75.0 91.9L70.2 86.9L67.6 86.8L62.6 92.0L62.5 92.7ZM61.3 30.7L57.8 33.6L57.8 34.4L60.3 38.0L65.2 34.1L65.2 33.6ZM68.0 39.1L65.2 34.1L60.3 38.0L60.3 38.6L65.5 41.3ZM84.5 31.3L82.9 29.7L81.2 31.5L82.3 33.0L82.4 33.0L84.5 31.4Z" fill="#b8d95a"/><path d="M18.1 57.6L12.1 53.9L6.5 60.1L12.5 64.8L17.8 61.1ZM81.9 86.7L87.4 90.4L92.6 85.0L87.9 79.0L87.2 78.8L81.8 84.2ZM75.0 91.9L75.0 92.3L82.2 97.8L87.9 93.6L87.4 90.4L81.9 86.7ZM82.1 100.0L82.2 97.8L75.0 92.3L70.3 99.3L75.4 103.9L77.1 103.2ZM60.2 108.7L65.7 107.2L63.9 104.9L63.5 104.9ZM61.4 45.6L61.3 47.3L64.9 49.7L68.2 46.5L65.4 42.9ZM17.1 106.2L5.6 105.3L0.0 109.7L0.0 122.4L20.0 126.7L20.0 126.6L19.4 122.1L19.2 121.4L16.4 117.6L16.9 113.0L16.0 109.7L17.8 110.8Z" fill="#cad94a"/><path d="M6.5 60.1L4.4 60.2L0.2 65.4L5.5 72.1L12.5 65.8L12.5 64.8ZM0.0 122.4L0.0 147.5L10.8 154.0L18.3 149.3L18.8 145.6L15.5 142.3L15.0 139.1L16.6 134.4L17.4 130.7L19.7 129.3L20.0 126.7Z" fill="#dbd93a"/><path d="M42.5 47.2L44.3 47.4L49.2 42.2L44.4 37.7L42.2 37.6L38.7 40.4ZM12.5 64.8L12.5 65.8L17.2 72.5L23.7 65.9L17.8 61.1ZM49.5 42.1L49.2 42.2L44.3 47.4L49.6 52.8L50.3 52.8L54.3 48.9L54.1 46.1ZM43.7 72.1L42.0 71.9L37.4 78.4L37.5 79.8L44.4 84.9L50.6 79.3L50.8 78.2ZM51.0 104.8L54.0 110.1L57.2 109.5L60.2 108.7L63.5 104.9L56.4 99.3ZM65.7 107.2L70.3 106.0L75.4 103.9L70.3 99.3L69.3 99.5L63.9 104.9ZM60.4 54.4L60.1 56.4L65.5 58.6L68.3 55.3L68.4 54.1L65.0 51.2ZM73.7 59.0L68.3 55.3L65.5 58.6L66.5 63.4L73.7 62.6Z" fill="#c1d952"/><path d="M37.1 52.3L42.5 47.2L38.7 40.4L36.1 39.9L30.6 45.8L30.7 46.5L36.3 52.4ZM53.6 6.2L53.6 6.3L57.2 10.3L59.3 9.1L55.0 4.8ZM57.9 41.5L52.4 38.4L49.5 42.1L54.1 46.1L57.9 41.9ZM69.1 46.6L72.7 50.7L73.0 50.7L76.6 46.6L76.5 45.6L73.8 42.6L72.3 42.7ZM86.9 36.8L84.8 39.4L89.5 42.4L89.6 42.3L92.3 38.9L92.2 38.2L89.3 35.7L89.2 35.7ZM93.0 46.5L96.6 42.9L96.4 41.1L92.3 38.9L89.6 42.3ZM81.5 51.2L76.4 54.4L76.4 55.2L81.1 58.4L84.7 54.7L84.5 53.8ZM88.0 57.2L89.1 63.7L96.1 60.8L96.4 59.7L93.4 54.4L91.9 54.2ZM74.5 27.9L74.1 27.8L73.0 29.7L74.5 30.9L75.9 29.7L75.9 29.7ZM76.1 32.7L74.5 31.2L73.1 32.7L74.7 34.0L76.0 33.2ZM86.4 32.8L87.6 31.4L85.9 30.5L85.6 30.2L84.5 31.3L84.5 31.4L85.6 32.8ZM82.4 33.0L82.3 33.0L81.1 34.5L82.7 36.3L84.2 34.6Z" fill="#86ca63"/><path d="M12.5 65.8L5.5 72.1L5.6 73.4L12.3 77.7L17.2 72.6L17.2 72.5ZM79.2 29.9L79.4 29.9L81.3 28.4L81.2 27.6L79.7 26.6L79.3 26.6L78.0 28.3ZM82.3 33.0L81.2 31.5L80.7 31.4L79.4 32.9L80.8 34.5L81.1 34.5Z" fill="#ced946"/><path d="M4.9 85.1L0.0 79.6L0.0 92.3ZM30.6 98.6L37.0 92.2L31.1 85.3L24.5 91.6L30.1 98.7ZM57.2 73.8L55.5 74.0L50.8 78.2L50.6 79.3L56.3 85.5L63.0 81.1L63.1 77.8ZM96.4 85.2L92.6 85.0L87.4 90.4L87.9 93.6L91.1 95.5L91.1 95.5L92.4 91.0L96.7 85.9Z" fill="#d3d942"/><path d="M12.3 77.7L12.4 78.2L18.0 85.1L24.9 78.8L25.0 77.6L17.2 72.6ZM87.2 78.8L87.9 79.0L95.4 74.2L95.2 71.8L88.7 66.8L83.4 72.9Z" fill="#72c05e"/><path d="M76.2 67.1L76.2 64.9L73.7 62.6L66.5 63.4L64.8 65.9L70.0 73.7ZM25.8 103.9L32.0 112.0L37.4 103.7L30.6 98.6L30.1 98.7ZM56.4 99.3L63.5 104.9L63.9 104.9L69.3 99.5L62.5 92.7L56.3 98.5ZM52.8 14.5L50.4 10.5L44.7 9.8L46.6 16.2L49.5 18.2ZM65.5 41.3L60.3 38.6L57.9 41.5L57.9 41.9L61.4 45.6L65.4 42.9ZM69.5 26.5L71.1 28.2L71.2 28.2L72.9 26.6L71.2 25.3Z" fill="#c5d94e"/><path d="M38.8 92.2L37.0 92.2L30.6 98.6L37.4 103.7L39.2 103.6L43.6 99.2L43.7 98.9ZM43.6 99.2L39.2 103.6L43.4 110.5L50.8 104.8Z" fill="#e4d932"/><path d="M32.0 112.0L25.8 103.9L17.5 105.8L17.1 106.2L17.8 110.8L18.5 111.2L23.3 112.5L31.1 112.9L32.1 112.8ZM43.7 98.9L43.6 99.2L50.8 104.8L51.0 104.8L56.4 99.3L56.3 98.5L50.9 92.9ZM87.9 93.6L82.2 97.8L82.1 100.0L82.9 100.9L83.3 100.7L91.1 95.5Z" fill="#e0d936"/><path d="M46.5 22.6L42.0 22.5L41.4 23.4L46.4 28.7L48.4 26.3ZM77.4 31.5L75.9 29.7L74.5 30.9L74.5 31.2L76.1 32.7ZM81.2 27.6L81.3 28.4L82.8 29.5L83.6 28.8L81.6 27.3Z" fill="#6cbd5d"/><path d="M64.7 19.9L64.6 18.1L61.6 15.5L57.6 18.1L57.5 19.5L60.2 22.9L61.0 22.9ZM57.9 41.9L54.1 46.1L54.3 48.9L58.0 49.7L61.3 47.3L61.4 45.6ZM73.0 50.7L76.4 54.4L81.5 51.2L81.4 49.4L76.6 46.6ZM89.0 49.7L84.5 53.8L84.7 54.7L88.0 57.2L91.9 54.2L89.1 49.7ZM73.0 23.1L74.4 24.6L74.8 24.6L76.2 23.1L74.5 21.7Z" fill="#7fc661"/><path d="M56.4 26.7L53.7 29.8L57.8 33.6L61.3 30.7L61.2 29.9L57.5 26.4ZM79.6 37.5L78.1 39.2L80.8 42.3L82.1 42.4L84.3 39.4L82.8 37.6ZM95.0 49.0L95.0 48.8L98.0 44.0L96.6 42.9L93.0 46.5L93.0 47.2ZM72.9 23.1L71.6 21.5L69.2 23.1L71.2 24.6Z" fill="#79c360"/><path d="M68.2 39.1L72.3 42.7L73.8 42.6L75.6 38.9L75.0 37.8L74.3 37.2L71.3 36.5Z" fill="#2b9e4e"/><path d="M84.7 54.7L81.1 58.4L81.2 62.3L88.5 64.6L89.1 63.7L88.0 57.2Z" fill="#59b459"/><circle cx="77.5" cy="24.5" r="8" fill="url(#gba)" stroke="none" clip-path="url(#pc)"/></g>
<g transform="translate(443.7 256)"><path d="M0 22L25.3 22L31 15.5L39.6 6.4L46.8 3.8L49.4 0.3L53.3 3.1L59.8 9.7L70.3 18.1L78.1 24.7L85.9 30.5L95 35.7L99 42.3L95 48.8L96.3 54L101.6 59.2L105.5 63.1L106.1 69.7L104.2 75.3L99 83.1L92.4 91L91.1 95.5L83.3 100.7L70.3 106L57.2 109.5L44.2 111.8L31.1 112.9L23.3 112.5L18.5 111.2L16 109.7L16.9 113L16.4 117.6L19.2 121.4L20.2 125.1L19.7 129.3L17.4 130.7L16.6 134.4L15 139.1L15.5 142.3L18.8 145.6L18.3 149.3L10.8 154L0 147.5Z" fill="#a8d968"/><path d="M4.7 22.0L0.0 22.0L0.0 26.4ZM37.1 52.3L42.5 47.2L38.7 40.4L36.1 39.9L30.6 45.8L30.7 46.5L36.3 52.4ZM4.9 85.1L0.0 79.6L0.0 92.3ZM36.7 65.3L38.0 65.4L43.5 59.9L37.1 52.3L36.3 52.4L30.0 59.2L30.0 59.6ZM23.7 65.9L17.2 72.5L17.2 72.6L25.0 77.6L29.3 72.8L24.1 65.9ZM61.6 15.5L61.6 14.8L57.1 11.4L53.9 14.6L57.6 18.1ZM64.3 26.7L61.2 29.9L61.3 30.7L65.2 33.6L66.7 32.5L67.4 29.9L66.4 26.7ZM61.3 30.7L57.8 33.6L57.8 34.4L60.3 38.0L65.2 34.1L65.2 33.6ZM61.4 45.6L61.3 47.3L64.9 49.7L68.2 46.5L65.4 42.9ZM79.6 37.5L78.1 39.2L80.8 42.3L82.1 42.4L84.3 39.4L82.8 37.6ZM73.8 42.6L76.5 45.6L80.8 42.3L78.1 39.2L75.6 38.9ZM85.9 46.2L89.0 49.7L89.1 49.7L93.0 47.2L93.0 46.5L89.6 42.3L89.5 42.4Z" fill="#aad966"/><path d="M12.1 28.9L12.2 28.9L16.4 22.0L5.2 22.0ZM5.4 48.1L7.1 47.7L10.3 41.4L5.2 35.6L0.0 39.3L0.0 42.3ZM44.7 9.8L44.3 9.6L42.1 9.4L37.4 14.7L37.4 15.1L40.9 18.7L46.6 16.2ZM30.1 21.7L24.2 26.0L24.2 28.1L30.5 33.3L31.9 33.3L36.5 27.8L32.3 22.1ZM18.1 57.6L12.1 53.9L6.5 60.1L12.5 64.8L17.8 61.1ZM81.8 84.2L87.2 78.8L83.4 72.9L82.8 72.9L75.0 78.8ZM70.2 86.9L75.0 91.9L81.9 86.7L81.8 84.2L75.0 78.8L74.8 78.8ZM57.8 34.4L57.8 33.6L53.7 29.8L53.4 29.8L49.9 33.9L52.3 37.5ZM58.0 49.7L60.4 54.4L65.0 51.2L64.9 49.7L61.3 47.3ZM60.4 54.4L60.1 56.4L65.5 58.6L68.3 55.3L68.4 54.1L65.0 51.2ZM86.9 36.8L84.8 39.4L89.5 42.4L89.6 42.3L92.3 38.9L92.2 38.2L89.3 35.7L89.2 35.7ZM85.9 46.2L84.2 46.0L81.4 49.4L81.5 51.2L84.5 53.8L89.0 49.7ZM79.3 26.6L77.9 25.0L76.2 26.0L76.2 26.6L77.8 28.3L78.0 28.3ZM77.8 28.3L76.2 26.6L74.5 27.9L75.9 29.7ZM74.5 27.9L74.1 27.8L73.0 29.7L74.5 30.9L75.9 29.7L75.9 29.7ZM79.2 29.9L79.4 29.9L81.3 28.4L81.2 27.6L79.7 26.6L79.3 26.6L78.0 28.3ZM81.2 31.5L82.9 29.7L82.8 29.5L81.3 28.4L79.4 29.9L80.7 31.4ZM86.4 32.8L87.6 31.4L85.9 30.5L85.6 30.2L84.5 31.3L84.5 31.4L85.6 32.8Z" fill="#86ca63"/><path d="M5.3 34.7L12.1 28.9L5.2 22.0L4.7 22.0L0.0 26.4L0.0 28.9ZM31.9 33.3L30.5 33.3L24.2 39.5L24.6 42.7L30.6 45.8L36.1 39.9ZM30.6 45.8L24.6 42.7L19.7 46.9L22.8 54.0L24.7 54.4L30.7 46.5ZM5.6 73.4L5.5 72.1L0.2 65.4L0.0 65.4L0.0 78.4ZM64.8 65.9L66.5 63.4L65.5 58.6L60.1 56.4L56.6 58.9L56.2 61.6L61.0 66.4ZM53.6 6.2L48.4 2.8L44.3 9.6L44.7 9.8L50.4 10.5L53.6 6.3ZM61.0 22.9L60.2 22.9L57.5 26.4L61.2 29.9L64.3 26.7ZM56.4 26.7L53.7 29.8L57.8 33.6L61.3 30.7L61.2 29.9L57.5 26.4ZM91.9 54.2L93.4 54.4L95.7 51.7L95.0 49.0L93.0 47.2L89.1 49.7ZM77.4 24.1L76.2 23.1L74.8 24.6L76.2 26.0L77.9 25.0L77.9 24.9ZM72.5 29.8L71.2 28.2L71.1 28.2L69.6 29.7L71.5 31.1ZM71.5 31.1L69.6 29.7L67.4 29.9L66.7 32.5L69.3 33.2L71.5 31.2ZM80.0 26.1L78.1 24.7L77.9 24.9L77.9 25.0L79.3 26.6L79.7 26.6ZM84.2 34.6L82.7 36.3L82.8 37.6L84.3 39.4L84.8 39.4L86.9 36.8L84.7 34.5Z" fill="#93d066"/><path d="M5.2 35.6L5.3 34.7L0.0 28.9L0.0 39.3ZM13.2 41.1L10.3 41.4L7.1 47.7L11.8 51.9L18.9 46.7ZM49.5 42.1L49.2 42.2L44.3 47.4L49.6 52.8L50.3 52.8L54.3 48.9L54.1 46.1ZM76.2 67.1L76.2 64.9L73.7 62.6L66.5 63.4L64.8 65.9L70.0 73.7ZM87.2 78.8L87.9 79.0L95.4 74.2L95.2 71.8L88.7 66.8L83.4 72.9ZM52.3 37.5L49.9 33.9L49.4 33.9L44.4 37.7L49.2 42.2L49.5 42.1L52.4 38.4ZM96.4 59.7L99.6 57.3L96.3 54.0L95.7 51.7L93.4 54.4ZM72.9 23.1L71.6 21.5L69.2 23.1L71.2 24.6ZM73.0 23.1L74.4 24.6L74.8 24.6L76.2 23.1L74.5 21.7ZM82.8 29.5L82.9 29.7L84.5 31.3L85.6 30.2L83.6 28.8ZM84.5 31.3L82.9 29.7L81.2 31.5L82.3 33.0L82.4 33.0L84.5 31.4ZM77.7 34.7L75.0 37.8L75.6 38.9L78.1 39.2L79.6 37.5L79.4 35.8Z" fill="#72c05e"/><path d="M42.1 9.4L44.3 9.6L48.4 2.8L48.2 1.9L46.8 3.8L40.1 6.2ZM42.0 22.5L40.9 18.7L37.4 15.1L32.3 22.1L36.5 27.8L37.3 27.7L41.4 23.4ZM22.8 54.0L19.7 46.9L18.9 46.7L11.8 51.9L12.1 53.9L18.1 57.6ZM56.2 61.6L50.3 64.7L50.2 66.2L55.5 74.0L57.2 73.8L61.0 66.4ZM55.5 74.0L50.2 66.2L43.7 72.1L50.8 78.2ZM65.7 107.2L70.3 106.0L75.4 103.9L70.3 99.3L69.3 99.5L63.9 104.9ZM64.7 19.9L64.6 18.1L61.6 15.5L57.6 18.1L57.5 19.5L60.2 22.9L61.0 22.9ZM69.3 33.2L66.7 32.5L65.2 33.6L65.2 34.1L68.0 39.1L68.2 39.1L71.3 36.5L71.0 35.1ZM92.2 38.2L94.5 35.4L90.3 33.0L90.0 33.4L89.3 35.7ZM82.1 42.4L84.2 46.0L85.9 46.2L89.5 42.4L84.8 39.4L84.3 39.4ZM68.4 54.1L68.3 55.3L73.7 59.0L76.4 55.2L76.4 54.4L73.0 50.7L72.7 50.7ZM92.2 38.2L92.3 38.9L96.4 41.1L97.7 40.2L95.0 35.7L94.5 35.4ZM69.5 26.5L71.1 28.2L71.2 28.2L72.9 26.6L71.2 25.3ZM66.4 26.7L67.4 29.9L69.6 29.7L71.1 28.2L69.5 26.5L66.5 26.5ZM73.1 32.7L72.9 32.7L71.0 35.1L71.3 36.5L74.3 37.2L74.7 34.0ZM81.2 27.6L81.3 28.4L82.8 29.5L83.6 28.8L81.6 27.3ZM82.3 33.0L81.2 31.5L80.7 31.4L79.4 32.9L80.8 34.5L81.1 34.5ZM85.6 32.8L84.5 31.4L82.4 33.0L84.2 34.6L84.7 34.5ZM86.4 32.8L89.2 35.7L89.3 35.7L90.0 33.4L88.1 31.8L87.6 31.4Z" fill="#8ccd64"/><path d="M42.1 9.4L40.1 6.2L39.6 6.4L33.7 12.7L37.4 14.7ZM37.3 27.7L41.8 31.0L45.7 30.2L46.4 28.7L41.4 23.4ZM42.5 47.2L44.3 47.4L49.2 42.2L44.4 37.7L42.2 37.6L38.7 40.4ZM5.6 73.4L0.0 78.4L0.0 79.6L4.9 85.1L5.8 85.1L12.4 78.2L12.3 77.7ZM25.0 77.6L24.9 78.8L31.1 85.2L37.5 79.8L37.4 78.4L29.7 72.8L29.3 72.8ZM64.8 65.9L61.0 66.4L57.2 73.8L63.1 77.8L70.0 73.9L70.0 73.7ZM25.8 103.9L32.0 112.0L37.4 103.7L30.6 98.6L30.1 98.7ZM43.6 99.2L39.2 103.6L43.4 110.5L50.8 104.8ZM96.4 85.2L100.0 80.5L99.7 78.6L95.4 74.2L87.9 79.0L92.6 85.0ZM96.4 85.2L92.6 85.0L87.4 90.4L87.9 93.6L91.1 95.5L91.1 95.5L92.4 91.0L96.7 85.9ZM57.2 10.3L57.1 11.4L61.6 14.8L63.1 12.3L59.8 9.7L59.3 9.1ZM57.5 19.5L57.6 18.1L53.9 14.6L52.8 14.5L49.5 18.2L49.5 19.0L53.2 22.0ZM60.3 38.6L60.3 38.0L57.8 34.4L52.3 37.5L52.4 38.4L57.9 41.5ZM95.0 49.0L95.0 48.8L98.0 44.0L96.6 42.9L93.0 46.5L93.0 47.2ZM72.9 32.7L71.5 31.2L69.3 33.2L71.0 35.1Z" fill="#a6d96a"/><path d="M30.1 21.7L32.3 22.1L37.4 15.1L37.4 14.7L33.7 12.7L31.0 15.5L28.4 18.5ZM12.2 28.9L17.7 33.1L24.2 28.1L24.2 26.0L20.3 22.0L16.4 22.0ZM24.2 28.1L17.7 33.1L18.0 35.1L24.2 39.5L30.5 33.3ZM42.2 37.6L41.8 31.0L37.3 27.7L36.5 27.8L31.9 33.3L36.1 39.9L38.7 40.4ZM36.3 52.4L30.7 46.5L24.7 54.4L30.0 59.2ZM43.5 59.9L44.2 59.8L49.6 52.8L44.3 47.4L42.5 47.2L37.1 52.3ZM17.1 98.7L11.7 93.1L5.2 96.7L5.6 105.3L17.1 106.2L17.5 105.8ZM51.0 104.8L54.0 110.1L57.2 109.5L60.2 108.7L63.5 104.9L56.4 99.3ZM82.1 100.0L82.2 97.8L75.0 92.3L70.3 99.3L75.4 103.9L77.1 103.2ZM48.4 2.8L53.6 6.2L55.0 4.8L53.3 3.1L49.7 0.5L48.8 1.1L48.2 1.9ZM53.6 6.2L53.6 6.3L57.2 10.3L59.3 9.1L55.0 4.8ZM53.6 6.3L50.4 10.5L52.8 14.5L53.9 14.6L57.1 11.4L57.2 10.3ZM46.5 22.6L42.0 22.5L41.4 23.4L46.4 28.7L48.4 26.3ZM46.4 28.7L45.7 30.2L49.4 33.9L49.9 33.9L53.4 29.8L49.7 26.5L48.4 26.3ZM81.5 51.2L76.4 54.4L76.4 55.2L81.1 58.4L84.7 54.7L84.5 53.8ZM69.2 23.1L71.6 21.5L71.6 21.4L69.7 19.6L66.9 21.7L67.5 23.0ZM71.6 21.4L71.6 21.5L72.9 23.1L73.0 23.1L74.5 21.7L72.7 20.2ZM69.5 26.5L71.2 25.3L71.2 24.6L69.2 23.1L67.5 23.0L66.5 26.5Z" fill="#99d367"/><path d="M28.4 18.5L25.3 22.0L20.3 22.0L24.2 26.0L30.1 21.7ZM6.5 60.1L4.4 60.2L0.2 65.4L5.5 72.1L12.5 65.8L12.5 64.8ZM12.3 77.7L12.4 78.2L18.0 85.1L24.9 78.8L25.0 77.6L17.2 72.6ZM50.3 52.8L56.6 58.9L60.1 56.4L60.4 54.4L58.0 49.7L54.3 48.9ZM50.3 64.7L44.2 59.8L43.5 59.9L38.0 65.4L42.0 71.9L43.7 72.1L50.2 66.2ZM63.1 77.8L63.0 81.1L67.6 86.8L70.2 86.9L74.8 78.8L70.0 73.9ZM49.5 19.0L49.5 18.2L46.6 16.2L40.9 18.7L42.0 22.5L46.5 22.6ZM68.0 39.1L65.2 34.1L60.3 38.0L60.3 38.6L65.5 41.3ZM68.2 39.1L72.3 42.7L73.8 42.6L75.6 38.9L75.0 37.8L74.3 37.2L71.3 36.5ZM93.0 46.5L96.6 42.9L96.4 41.1L92.3 38.9L89.6 42.3Z" fill="#afd962"/><path d="M12.2 28.9L12.1 28.9L5.3 34.7L5.2 35.6L10.3 41.4L13.2 41.1L18.0 35.1L17.7 33.1ZM12.5 64.8L12.5 65.8L17.2 72.5L23.7 65.9L17.8 61.1ZM89.1 63.7L88.5 64.6L88.7 66.8L95.2 71.8L100.8 67.0L100.9 66.1L96.1 60.8ZM100.8 67.0L95.2 71.8L95.4 74.2L99.7 78.6L104.6 74.0L105.4 71.6ZM42.2 37.6L44.4 37.7L49.4 33.9L45.7 30.2L41.8 31.0ZM57.9 41.5L52.4 38.4L49.5 42.1L54.1 46.1L57.9 41.9ZM84.7 54.7L81.1 58.4L81.2 62.3L88.5 64.6L89.1 63.7L88.0 57.2ZM69.7 19.6L71.6 21.4L72.7 20.2L70.3 18.1L70.1 18.0ZM79.2 29.9L78.0 28.3L77.8 28.3L75.9 29.7L75.9 29.7L77.4 31.5L77.6 31.5Z" fill="#6cbd5d"/><path d="M0.0 42.3L0.0 52.9L0.3 53.0L5.4 48.1ZM81.2 62.3L81.1 58.4L76.4 55.2L73.7 59.0L73.7 62.6L76.2 64.9ZM77.4 31.5L75.9 29.7L74.5 30.9L74.5 31.2L76.1 32.7ZM76.1 32.7L74.5 31.2L73.1 32.7L74.7 34.0L76.0 33.2ZM79.4 29.9L79.2 29.9L77.6 31.5L78.8 33.0L79.4 32.9L80.7 31.4Z" fill="#79c360"/><path d="M18.0 35.1L13.2 41.1L18.9 46.7L19.7 46.9L24.6 42.7L24.2 39.5Z" fill="#3fa753"/><path d="M11.8 51.9L7.1 47.7L5.4 48.1L0.3 53.0L4.4 60.2L6.5 60.1L12.1 53.9ZM24.1 65.9L29.3 72.8L29.7 72.8L36.7 65.3L30.0 59.6ZM50.9 92.9L56.3 98.5L62.5 92.7L62.6 92.0L56.3 87.0L50.8 92.4ZM99.7 78.6L100.0 80.5L100.6 80.7L104.2 75.3L104.6 74.0ZM100.0 80.5L96.4 85.2L96.7 85.9L99.0 83.1L100.6 80.7ZM67.5 23.0L66.9 21.7L64.7 19.9L61.0 22.9L64.3 26.7L66.4 26.7L66.5 26.5ZM65.5 41.3L60.3 38.6L57.9 41.5L57.9 41.9L61.4 45.6L65.4 42.9ZM64.9 49.7L65.0 51.2L68.4 54.1L72.7 50.7L69.1 46.6L68.2 46.5ZM77.7 34.7L78.8 33.0L77.6 31.5L77.4 31.5L76.1 32.7L76.0 33.2Z" fill="#b3d95e"/><path d="M0.2 65.4L4.4 60.2L0.3 53.0L0.0 52.9L0.0 65.4ZM50.8 104.8L43.4 110.5L43.3 111.5L43.7 111.8L44.2 111.8L54.0 110.1L51.0 104.8ZM52.8 14.5L50.4 10.5L44.7 9.8L46.6 16.2L49.5 18.2ZM49.5 19.0L46.5 22.6L48.4 26.3L49.7 26.5L53.3 22.5L53.2 22.0ZM69.7 19.6L70.1 18.0L67.7 16.0L64.6 18.1L64.7 19.9L66.9 21.7ZM69.1 46.6L72.7 50.7L73.0 50.7L76.6 46.6L76.5 45.6L73.8 42.6L72.3 42.7ZM79.4 32.9L78.8 33.0L77.7 34.7L77.7 34.7L79.4 35.8L80.8 34.5ZM82.4 33.0L82.3 33.0L81.1 34.5L82.7 36.3L84.2 34.6ZM86.9 36.8L89.2 35.7L86.4 32.8L85.6 32.8L84.7 34.5Z" fill="#a0d669"/><path d="M30.0 59.2L24.7 54.4L22.8 54.0L18.1 57.6L17.8 61.1L23.7 65.9L24.1 65.9L30.0 59.6Z" fill="#dbd93a"/><path d="M12.5 65.8L5.5 72.1L5.6 73.4L12.3 77.7L17.2 72.6L17.2 72.5ZM38.8 92.2L37.0 92.2L30.6 98.6L37.4 103.7L39.2 103.6L43.6 99.2L43.7 98.9ZM70.0 73.9L74.8 78.8L75.0 78.8L82.8 72.9L76.2 67.1L70.0 73.7ZM39.2 103.6L37.4 103.7L32.0 112.0L32.1 112.8L42.5 111.9L43.3 111.5L43.4 110.5ZM81.1 34.5L80.8 34.5L79.4 35.8L79.6 37.5L82.8 37.6L82.7 36.3ZM17.1 106.2L5.6 105.3L0.0 109.7L0.0 122.4L20.0 126.7L20.0 126.6L19.4 122.1L19.2 121.4L16.4 117.6L16.9 113.0L16.0 109.7L17.8 110.8Z" fill="#b8d95a"/><path d="M5.8 85.1L12.3 90.3L18.0 85.9L18.0 85.1L12.4 78.2ZM43.7 98.9L43.6 99.2L50.8 104.8L51.0 104.8L56.4 99.3L56.3 98.5L50.9 92.9Z" fill="#ced946"/><path d="M12.3 90.3L5.8 85.1L4.9 85.1L0.0 92.3L0.0 92.5L5.2 96.7L11.7 93.1ZM24.9 78.8L18.0 85.1L18.0 85.9L24.1 91.6L24.5 91.6L31.1 85.3L31.1 85.2ZM57.2 73.8L55.5 74.0L50.8 78.2L50.6 79.3L56.3 85.5L63.0 81.1L63.1 77.8ZM32.0 112.0L25.8 103.9L17.5 105.8L17.1 106.2L17.8 110.8L18.5 111.2L23.3 112.5L31.1 112.9L32.1 112.8ZM62.6 92.0L67.6 86.8L63.0 81.1L56.3 85.5L56.3 87.0ZM75.0 91.9L75.0 92.3L82.2 97.8L87.9 93.6L87.4 90.4L81.9 86.7ZM60.2 108.7L65.7 107.2L63.9 104.9L63.5 104.9Z" fill="#c5d94e"/><path d="M5.6 105.3L5.2 96.7L0.0 92.5L0.0 109.7ZM56.2 61.6L56.6 58.9L50.3 52.8L49.6 52.8L44.2 59.8L50.3 64.7ZM44.4 84.9L37.5 79.8L31.1 85.2L31.1 85.3L37.0 92.2L38.8 92.2L44.4 85.9ZM30.6 98.6L37.0 92.2L31.1 85.3L24.5 91.6L30.1 98.7ZM56.4 99.3L63.5 104.9L63.9 104.9L69.3 99.5L62.5 92.7L56.3 98.5ZM74.1 27.8L72.9 26.6L72.9 26.6L71.2 28.2L72.5 29.8L73.0 29.7ZM79.7 26.6L81.2 27.6L81.6 27.3L80.0 26.1Z" fill="#c1d952"/><path d="M29.7 72.8L37.4 78.4L42.0 71.9L38.0 65.4L36.7 65.3ZM88.0 57.2L89.1 63.7L96.1 60.8L96.4 59.7L93.4 54.4L91.9 54.2Z" fill="#5fb75a"/><path d="M24.1 91.6L18.0 85.9L12.3 90.3L11.7 93.1L17.1 98.7ZM24.5 91.6L24.1 91.6L17.1 98.7L17.5 105.8L25.8 103.9L30.1 98.7ZM56.3 87.0L56.3 85.5L50.6 79.3L44.4 84.9L44.4 85.9L50.8 92.4ZM82.1 100.0L77.1 103.2L82.9 100.9Z" fill="#cad94a"/><path d="M43.7 72.1L42.0 71.9L37.4 78.4L37.5 79.8L44.4 84.9L50.6 79.3L50.8 78.2ZM44.4 85.9L38.8 92.2L43.7 98.9L50.9 92.9L50.8 92.4ZM69.3 99.5L70.3 99.3L75.0 92.3L75.0 91.9L70.2 86.9L67.6 86.8L62.6 92.0L62.5 92.7ZM81.9 86.7L87.4 90.4L92.6 85.0L87.9 79.0L87.2 78.8L81.8 84.2ZM68.2 46.5L69.1 46.6L72.3 42.7L68.2 39.1L68.0 39.1L65.5 41.3L65.4 42.9Z" fill="#bcd956"/><path d="M82.8 72.9L83.4 72.9L88.7 66.8L88.5 64.6L81.2 62.3L76.2 64.9L76.2 67.1ZM100.9 66.1L105.2 62.8L101.6 59.2L99.6 57.3L96.4 59.7L96.1 60.8ZM73.0 50.7L76.4 54.4L81.5 51.2L81.4 49.4L76.6 46.6Z" fill="#66ba5c"/><path d="M100.9 66.1L100.8 67.0L105.4 71.6L106.1 69.7L105.5 63.1L105.2 62.8ZM61.6 14.8L61.6 15.5L64.6 18.1L67.7 16.0L63.1 12.3ZM57.5 19.5L53.2 22.0L53.3 22.5L56.4 26.7L57.5 26.4L60.2 22.9ZM49.7 26.5L53.4 29.8L53.7 29.8L56.4 26.7L53.3 22.5ZM57.9 41.9L54.1 46.1L54.3 48.9L58.0 49.7L61.3 47.3L61.4 45.6ZM76.5 45.6L76.6 46.6L81.4 49.4L84.2 46.0L82.1 42.4L80.8 42.3ZM96.4 41.1L96.6 42.9L98.0 44.0L99.0 42.3L97.7 40.2ZM89.0 49.7L84.5 53.8L84.7 54.7L88.0 57.2L91.9 54.2L89.1 49.7ZM72.9 26.6L72.9 26.6L74.4 24.6L73.0 23.1L72.9 23.1L71.2 24.6L71.2 25.3ZM76.2 26.6L76.2 26.0L74.8 24.6L74.4 24.6L72.9 26.6L74.1 27.8L74.5 27.9ZM74.5 31.2L74.5 30.9L73.0 29.7L72.5 29.8L71.5 31.1L71.5 31.2L72.9 32.7L73.1 32.7ZM74.7 34.0L74.3 37.2L75.0 37.8L77.7 34.7L77.7 34.7L76.0 33.2Z" fill="#7fc661"/><path d="M87.9 93.6L82.2 97.8L82.1 100.0L82.9 100.9L83.3 100.7L91.1 95.5Z" fill="#e4d932"/><path d="M73.7 59.0L68.3 55.3L65.5 58.6L66.5 63.4L73.7 62.6Z" fill="#52b157"/><path d="M0.0 122.4L0.0 147.5L10.8 154.0L18.3 149.3L18.8 145.6L15.5 142.3L15.0 139.1L16.6 134.4L17.4 130.7L19.7 129.3L20.0 126.7Z" fill="#d3d942"/><circle cx="77.5" cy="24.5" r="8" fill="url(#gba)" stroke="none" clip-path="url(#pc)"/></g>
<g transform="translate(566.6 256)"><path d="M0 22L25.3 22L31 15.5L39.6 6.4L46.8 3.8L49.4 0.3L53.3 3.1L59.8 9.7L70.3 18.1L78.1 24.7L85.9 30.5L95 35.7L99 42.3L95 48.8L96.3 54L101.6 59.2L105.5 63.1L106.1 69.7L104.2 75.3L99 83.1L92.4 91L91.1 95.5L83.3 100.7L70.3 106L57.2 109.5L44.2 111.8L31.1 112.9L23.3 112.5L18.5 111.2L16 109.7L16.9 113L16.4 117.6L19.2 121.4L20.2 125.1L19.7 129.3L17.4 130.7L16.6 134.4L15 139.1L15.5 142.3L18.8 145.6L18.3 149.3L10.8 154L0 147.5Z" fill="#d3d941"/><path d="M4.7 22.0L0.0 22.0L0.0 26.4ZM36.7 65.3L38.0 65.4L43.5 59.9L37.1 52.3L36.3 52.4L30.0 59.2L30.0 59.6ZM100.8 67.0L95.2 71.8L95.4 74.2L99.7 78.6L104.6 74.0L105.4 71.6ZM82.1 100.0L82.2 97.8L75.0 92.3L70.3 99.3L75.4 103.9L77.1 103.2ZM48.4 2.8L53.6 6.2L55.0 4.8L53.3 3.1L49.7 0.5L48.8 1.1L48.2 1.9ZM64.3 26.7L61.2 29.9L61.3 30.7L65.2 33.6L66.7 32.5L67.4 29.9L66.4 26.7ZM61.3 30.7L57.8 33.6L57.8 34.4L60.3 38.0L65.2 34.1L65.2 33.6ZM68.0 39.1L65.2 34.1L60.3 38.0L60.3 38.6L65.5 41.3ZM57.9 41.9L54.1 46.1L54.3 48.9L58.0 49.7L61.3 47.3L61.4 45.6ZM58.0 49.7L60.4 54.4L65.0 51.2L64.9 49.7L61.3 47.3ZM68.4 54.1L68.3 55.3L73.7 59.0L76.4 55.2L76.4 54.4L73.0 50.7L72.7 50.7ZM81.1 34.5L80.8 34.5L79.4 35.8L79.6 37.5L82.8 37.6L82.7 36.3Z" fill="#ced946"/><path d="M12.1 28.9L12.2 28.9L16.4 22.0L5.2 22.0ZM5.4 48.1L7.1 47.7L10.3 41.4L5.2 35.6L0.0 39.3L0.0 42.3ZM25.8 103.9L32.0 112.0L37.4 103.7L30.6 98.6L30.1 98.7ZM65.7 107.2L70.3 106.0L75.4 103.9L70.3 99.3L69.3 99.5L63.9 104.9ZM99.7 78.6L100.0 80.5L100.6 80.7L104.2 75.3L104.6 74.0ZM53.6 6.3L50.4 10.5L52.8 14.5L53.9 14.6L57.1 11.4L57.2 10.3ZM49.5 19.0L49.5 18.2L46.6 16.2L40.9 18.7L42.0 22.5L46.5 22.6ZM46.5 22.6L42.0 22.5L41.4 23.4L46.4 28.7L48.4 26.3ZM57.5 19.5L53.2 22.0L53.3 22.5L56.4 26.7L57.5 26.4L60.2 22.9ZM68.2 46.5L69.1 46.6L72.3 42.7L68.2 39.1L68.0 39.1L65.5 41.3L65.4 42.9ZM69.1 46.6L72.7 50.7L73.0 50.7L76.6 46.6L76.5 45.6L73.8 42.6L72.3 42.7ZM93.0 46.5L96.6 42.9L96.4 41.1L92.3 38.9L89.6 42.3ZM89.0 49.7L84.5 53.8L84.7 54.7L88.0 57.2L91.9 54.2L89.1 49.7ZM69.2 23.1L71.6 21.5L71.6 21.4L69.7 19.6L66.9 21.7L67.5 23.0ZM74.5 27.9L74.1 27.8L73.0 29.7L74.5 30.9L75.9 29.7L75.9 29.7ZM79.2 29.9L79.4 29.9L81.3 28.4L81.2 27.6L79.7 26.6L79.3 26.6L78.0 28.3ZM79.4 32.9L78.8 33.0L77.7 34.7L77.7 34.7L79.4 35.8L80.8 34.5Z" fill="#c1d952"/><path d="M5.3 34.7L12.1 28.9L5.2 22.0L4.7 22.0L0.0 26.4L0.0 28.9ZM42.1 9.4L40.1 6.2L39.6 6.4L33.7 12.7L37.4 14.7ZM0.2 65.4L4.4 60.2L0.3 53.0L0.0 52.9L0.0 65.4ZM30.0 59.2L24.7 54.4L22.8 54.0L18.1 57.6L17.8 61.1L23.7 65.9L24.1 65.9L30.0 59.6ZM62.6 92.0L67.6 86.8L63.0 81.1L56.3 85.5L56.3 87.0ZM100.9 66.1L105.2 62.8L101.6 59.2L99.6 57.3L96.4 59.7L96.1 60.8ZM61.6 15.5L61.6 14.8L57.1 11.4L53.9 14.6L57.6 18.1ZM46.4 28.7L45.7 30.2L49.4 33.9L49.9 33.9L53.4 29.8L49.7 26.5L48.4 26.3ZM52.3 37.5L49.9 33.9L49.4 33.9L44.4 37.7L49.2 42.2L49.5 42.1L52.4 38.4ZM65.5 41.3L60.3 38.6L57.9 41.5L57.9 41.9L61.4 45.6L65.4 42.9ZM61.4 45.6L61.3 47.3L64.9 49.7L68.2 46.5L65.4 42.9ZM86.9 36.8L84.8 39.4L89.5 42.4L89.6 42.3L92.3 38.9L92.2 38.2L89.3 35.7L89.2 35.7ZM73.7 59.0L68.3 55.3L65.5 58.6L66.5 63.4L73.7 62.6ZM92.2 38.2L92.3 38.9L96.4 41.1L97.7 40.2L95.0 35.7L94.5 35.4ZM85.9 46.2L89.0 49.7L89.1 49.7L93.0 47.2L93.0 46.5L89.6 42.3L89.5 42.4ZM72.9 23.1L71.6 21.5L69.2 23.1L71.2 24.6ZM76.2 26.6L76.2 26.0L74.8 24.6L74.4 24.6L72.9 26.6L74.1 27.8L74.5 27.9ZM77.7 34.7L78.8 33.0L77.6 31.5L77.4 31.5L76.1 32.7L76.0 33.2Z" fill="#c5d94e"/><path d="M5.2 35.6L5.3 34.7L0.0 28.9L0.0 39.3ZM30.1 21.7L32.3 22.1L37.4 15.1L37.4 14.7L33.7 12.7L31.0 15.5L28.4 18.5ZM31.9 33.3L30.5 33.3L24.2 39.5L24.6 42.7L30.6 45.8L36.1 39.9ZM37.1 52.3L42.5 47.2L38.7 40.4L36.1 39.9L30.6 45.8L30.7 46.5L36.3 52.4ZM4.9 85.1L0.0 79.6L0.0 92.3ZM49.5 42.1L49.2 42.2L44.3 47.4L49.6 52.8L50.3 52.8L54.3 48.9L54.1 46.1ZM56.2 61.6L56.6 58.9L50.3 52.8L49.6 52.8L44.2 59.8L50.3 64.7ZM25.0 77.6L24.9 78.8L31.1 85.2L37.5 79.8L37.4 78.4L29.7 72.8L29.3 72.8ZM43.7 72.1L42.0 71.9L37.4 78.4L37.5 79.8L44.4 84.9L50.6 79.3L50.8 78.2ZM44.4 84.9L37.5 79.8L31.1 85.2L31.1 85.3L37.0 92.2L38.8 92.2L44.4 85.9ZM61.0 22.9L60.2 22.9L57.5 26.4L61.2 29.9L64.3 26.7ZM92.2 38.2L94.5 35.4L90.3 33.0L90.0 33.4L89.3 35.7ZM74.1 27.8L72.9 26.6L72.9 26.6L71.2 28.2L72.5 29.8L73.0 29.7ZM79.3 26.6L77.9 25.0L76.2 26.0L76.2 26.6L77.8 28.3L78.0 28.3ZM84.5 31.3L82.9 29.7L81.2 31.5L82.3 33.0L82.4 33.0L84.5 31.4Z" fill="#d3d942"/><path d="M42.1 9.4L44.3 9.6L48.4 2.8L48.2 1.9L46.8 3.8L40.1 6.2ZM37.3 27.7L41.8 31.0L45.7 30.2L46.4 28.7L41.4 23.4ZM42.2 37.6L41.8 31.0L37.3 27.7L36.5 27.8L31.9 33.3L36.1 39.9L38.7 40.4ZM30.6 45.8L24.6 42.7L19.7 46.9L22.8 54.0L24.7 54.4L30.7 46.5ZM12.5 65.8L5.5 72.1L5.6 73.4L12.3 77.7L17.2 72.6L17.2 72.5ZM17.1 98.7L11.7 93.1L5.2 96.7L5.6 105.3L17.1 106.2L17.5 105.8ZM64.8 65.9L66.5 63.4L65.5 58.6L60.1 56.4L56.6 58.9L56.2 61.6L61.0 66.4ZM55.5 74.0L50.2 66.2L43.7 72.1L50.8 78.2ZM43.6 99.2L39.2 103.6L43.4 110.5L50.8 104.8ZM87.2 78.8L87.9 79.0L95.4 74.2L95.2 71.8L88.7 66.8L83.4 72.9ZM81.9 86.7L87.4 90.4L92.6 85.0L87.9 79.0L87.2 78.8L81.8 84.2ZM96.4 85.2L92.6 85.0L87.4 90.4L87.9 93.6L91.1 95.5L91.1 95.5L92.4 91.0L96.7 85.9ZM49.5 19.0L46.5 22.6L48.4 26.3L49.7 26.5L53.3 22.5L53.2 22.0ZM73.8 42.6L76.5 45.6L80.8 42.3L78.1 39.2L75.6 38.9ZM95.0 49.0L95.0 48.8L98.0 44.0L96.6 42.9L93.0 46.5L93.0 47.2ZM79.7 26.6L81.2 27.6L81.6 27.3L80.0 26.1ZM82.3 33.0L81.2 31.5L80.7 31.4L79.4 32.9L80.8 34.5L81.1 34.5Z" fill="#d7d93e"/><path d="M28.4 18.5L25.3 22.0L20.3 22.0L24.2 26.0L30.1 21.7ZM12.2 28.9L12.1 28.9L5.3 34.7L5.2 35.6L10.3 41.4L13.2 41.1L18.0 35.1L17.7 33.1ZM44.7 9.8L44.3 9.6L42.1 9.4L37.4 14.7L37.4 15.1L40.9 18.7L46.6 16.2ZM12.5 64.8L12.5 65.8L17.2 72.5L23.7 65.9L17.8 61.1ZM12.3 90.3L5.8 85.1L4.9 85.1L0.0 92.3L0.0 92.5L5.2 96.7L11.7 93.1ZM57.2 73.8L55.5 74.0L50.8 78.2L50.6 79.3L56.3 85.5L63.0 81.1L63.1 77.8ZM63.1 77.8L63.0 81.1L67.6 86.8L70.2 86.9L74.8 78.8L70.0 73.9ZM53.6 6.2L48.4 2.8L44.3 9.6L44.7 9.8L50.4 10.5L53.6 6.3Z" fill="#e0d936"/><path d="M12.2 28.9L17.7 33.1L24.2 28.1L24.2 26.0L20.3 22.0L16.4 22.0ZM6.5 60.1L4.4 60.2L0.2 65.4L5.5 72.1L12.5 65.8L12.5 64.8ZM5.6 73.4L5.5 72.1L0.2 65.4L0.0 65.4L0.0 78.4ZM23.7 65.9L17.2 72.5L17.2 72.6L25.0 77.6L29.3 72.8L24.1 65.9ZM56.3 87.0L56.3 85.5L50.6 79.3L44.4 84.9L44.4 85.9L50.8 92.4ZM57.5 19.5L57.6 18.1L53.9 14.6L52.8 14.5L49.5 18.2L49.5 19.0L53.2 22.0ZM56.4 26.7L53.7 29.8L57.8 33.6L61.3 30.7L61.2 29.9L57.5 26.4ZM77.4 31.5L75.9 29.7L74.5 30.9L74.5 31.2L76.1 32.7ZM86.4 32.8L87.6 31.4L85.9 30.5L85.6 30.2L84.5 31.3L84.5 31.4L85.6 32.8ZM85.6 32.8L84.5 31.4L82.4 33.0L84.2 34.6L84.7 34.5Z" fill="#dbd93a"/><path d="M0.0 42.3L0.0 52.9L0.3 53.0L5.4 48.1ZM30.1 21.7L24.2 26.0L24.2 28.1L30.5 33.3L31.9 33.3L36.5 27.8L32.3 22.1ZM36.3 52.4L30.7 46.5L24.7 54.4L30.0 59.2ZM50.3 52.8L56.6 58.9L60.1 56.4L60.4 54.4L58.0 49.7L54.3 48.9ZM29.7 72.8L37.4 78.4L42.0 71.9L38.0 65.4L36.7 65.3ZM70.2 86.9L75.0 91.9L81.9 86.7L81.8 84.2L75.0 78.8L74.8 78.8ZM51.0 104.8L54.0 110.1L57.2 109.5L60.2 108.7L63.5 104.9L56.4 99.3ZM96.4 85.2L100.0 80.5L99.7 78.6L95.4 74.2L87.9 79.0L92.6 85.0ZM69.3 33.2L66.7 32.5L65.2 33.6L65.2 34.1L68.0 39.1L68.2 39.1L71.3 36.5L71.0 35.1ZM64.9 49.7L65.0 51.2L68.4 54.1L72.7 50.7L69.1 46.6L68.2 46.5ZM72.9 32.7L71.5 31.2L69.3 33.2L71.0 35.1ZM79.2 29.9L78.0 28.3L77.8 28.3L75.9 29.7L75.9 29.7L77.4 31.5L77.6 31.5ZM76.1 32.7L74.5 31.2L73.1 32.7L74.7 34.0L76.0 33.2ZM82.8 29.5L82.9 29.7L84.5 31.3L85.6 30.2L83.6 28.8ZM77.7 34.7L75.0 37.8L75.6 38.9L78.1 39.2L79.6 37.5L79.4 35.8ZM82.4 33.0L82.3 33.0L81.1 34.5L82.7 36.3L84.2 34.6Z" fill="#cad94a"/><path d="M42.0 22.5L40.9 18.7L37.4 15.1L32.3 22.1L36.5 27.8L37.3 27.7L41.4 23.4ZM24.2 28.1L17.7 33.1L18.0 35.1L24.2 39.5L30.5 33.3ZM44.4 85.9L38.8 92.2L43.7 98.9L50.9 92.9L50.8 92.4ZM100.9 66.1L100.8 67.0L105.4 71.6L106.1 69.7L105.5 63.1L105.2 62.8ZM53.6 6.2L53.6 6.3L57.2 10.3L59.3 9.1L55.0 4.8ZM64.7 19.9L64.6 18.1L61.6 15.5L57.6 18.1L57.5 19.5L60.2 22.9L61.0 22.9ZM76.5 45.6L76.6 46.6L81.4 49.4L84.2 46.0L82.1 42.4L80.8 42.3ZM73.0 23.1L74.4 24.6L74.8 24.6L76.2 23.1L74.5 21.7ZM77.8 28.3L76.2 26.6L74.5 27.9L75.9 29.7ZM81.2 27.6L81.3 28.4L82.8 29.5L83.6 28.8L81.6 27.3ZM81.2 31.5L82.9 29.7L82.8 29.5L81.3 28.4L79.4 29.9L80.7 31.4Z" fill="#bcd956"/><path d="M18.0 35.1L13.2 41.1L18.9 46.7L19.7 46.9L24.6 42.7L24.2 39.5ZM43.5 59.9L44.2 59.8L49.6 52.8L44.3 47.4L42.5 47.2L37.1 52.3ZM12.3 77.7L12.4 78.2L18.0 85.1L24.9 78.8L25.0 77.6L17.2 72.6ZM24.9 78.8L18.0 85.1L18.0 85.9L24.1 91.6L24.5 91.6L31.1 85.3L31.1 85.2ZM38.8 92.2L37.0 92.2L30.6 98.6L37.4 103.7L39.2 103.6L43.6 99.2L43.7 98.9ZM82.1 100.0L77.1 103.2L82.9 100.9ZM69.7 19.6L71.6 21.4L72.7 20.2L70.3 18.1L70.1 18.0Z" fill="#e9d92e"/><path d="M13.2 41.1L10.3 41.4L7.1 47.7L11.8 51.9L18.9 46.7Z" fill="#fcc927"/><path d="M11.8 51.9L7.1 47.7L5.4 48.1L0.3 53.0L4.4 60.2L6.5 60.1L12.1 53.9ZM18.1 57.6L12.1 53.9L6.5 60.1L12.5 64.8L17.8 61.1ZM42.5 47.2L44.3 47.4L49.2 42.2L44.4 37.7L42.2 37.6L38.7 40.4ZM56.2 61.6L50.3 64.7L50.2 66.2L55.5 74.0L57.2 73.8L61.0 66.4ZM30.6 98.6L37.0 92.2L31.1 85.3L24.5 91.6L30.1 98.7ZM32.0 112.0L25.8 103.9L17.5 105.8L17.1 106.2L17.8 110.8L18.5 111.2L23.3 112.5L31.1 112.9L32.1 112.8ZM50.9 92.9L56.3 98.5L62.5 92.7L62.6 92.0L56.3 87.0L50.8 92.4ZM43.7 98.9L43.6 99.2L50.8 104.8L51.0 104.8L56.4 99.3L56.3 98.5L50.9 92.9ZM56.4 99.3L63.5 104.9L63.9 104.9L69.3 99.5L62.5 92.7L56.3 98.5ZM50.8 104.8L43.4 110.5L43.3 111.5L43.7 111.8L44.2 111.8L54.0 110.1L51.0 104.8ZM60.2 108.7L65.7 107.2L63.9 104.9L63.5 104.9ZM17.1 106.2L5.6 105.3L0.0 109.7L0.0 122.4L20.0 126.7L20.0 126.6L19.4 122.1L19.2 121.4L16.4 117.6L16.9 113.0L16.0 109.7L17.8 110.8Z" fill="#edd92a"/><path d="M22.8 54.0L19.7 46.9L18.9 46.7L11.8 51.9L12.1 53.9L18.1 57.6Z" fill="#fdcd24"/><path d="M5.6 73.4L0.0 78.4L0.0 79.6L4.9 85.1L5.8 85.1L12.4 78.2L12.3 77.7ZM24.1 65.9L29.3 72.8L29.7 72.8L36.7 65.3L30.0 59.6ZM50.3 64.7L44.2 59.8L43.5 59.9L38.0 65.4L42.0 71.9L43.7 72.1L50.2 66.2ZM69.3 99.5L70.3 99.3L75.0 92.3L75.0 91.9L70.2 86.9L67.6 86.8L62.6 92.0L62.5 92.7ZM75.0 91.9L75.0 92.3L82.2 97.8L87.9 93.6L87.4 90.4L81.9 86.7ZM61.6 14.8L61.6 15.5L64.6 18.1L67.7 16.0L63.1 12.3ZM67.5 23.0L66.9 21.7L64.7 19.9L61.0 22.9L64.3 26.7L66.4 26.7L66.5 26.5Z" fill="#e4d932"/><path d="M5.8 85.1L12.3 90.3L18.0 85.9L18.0 85.1L12.4 78.2ZM24.5 91.6L24.1 91.6L17.1 98.7L17.5 105.8L25.8 103.9L30.1 98.7ZM0.0 122.4L0.0 147.5L10.8 154.0L18.3 149.3L18.8 145.6L15.5 142.3L15.0 139.1L16.6 134.4L17.4 130.7L19.7 129.3L20.0 126.7Z" fill="#f6d922"/><path d="M5.6 105.3L5.2 96.7L0.0 92.5L0.0 109.7Z" fill="#ffd91a"/><path d="M24.1 91.6L18.0 85.9L12.3 90.3L11.7 93.1L17.1 98.7Z" fill="#fed51d"/><path d="M76.2 67.1L76.2 64.9L73.7 62.6L66.5 63.4L64.8 65.9L70.0 73.7ZM49.7 26.5L53.4 29.8L53.7 29.8L56.4 26.7L53.3 22.5ZM79.6 37.5L78.1 39.2L80.8 42.3L82.1 42.4L84.3 39.4L82.8 37.6ZM77.4 24.1L76.2 23.1L74.8 24.6L76.2 26.0L77.9 25.0L77.9 24.9Z" fill="#a6d96a"/><path d="M64.8 65.9L61.0 66.4L57.2 73.8L63.1 77.8L70.0 73.9L70.0 73.7ZM82.8 72.9L83.4 72.9L88.7 66.8L88.5 64.6L81.2 62.3L76.2 64.9L76.2 67.1ZM73.1 32.7L72.9 32.7L71.0 35.1L71.3 36.5L74.3 37.2L74.7 34.0Z" fill="#aad966"/><path d="M70.0 73.9L74.8 78.8L75.0 78.8L82.8 72.9L76.2 67.1L70.0 73.7ZM68.2 39.1L72.3 42.7L73.8 42.6L75.6 38.9L75.0 37.8L74.3 37.2L71.3 36.5ZM60.4 54.4L60.1 56.4L65.5 58.6L68.3 55.3L68.4 54.1L65.0 51.2ZM91.9 54.2L93.4 54.4L95.7 51.7L95.0 49.0L93.0 47.2L89.1 49.7ZM96.4 59.7L99.6 57.3L96.3 54.0L95.7 51.7L93.4 54.4ZM69.5 26.5L71.1 28.2L71.2 28.2L72.9 26.6L71.2 25.3ZM71.5 31.1L69.6 29.7L67.4 29.9L66.7 32.5L69.3 33.2L71.5 31.2ZM86.9 36.8L89.2 35.7L86.4 32.8L85.6 32.8L84.7 34.5Z" fill="#afd962"/><path d="M39.2 103.6L37.4 103.7L32.0 112.0L32.1 112.8L42.5 111.9L43.3 111.5L43.4 110.5Z" fill="#fdd121"/><path d="M89.1 63.7L88.5 64.6L88.7 66.8L95.2 71.8L100.8 67.0L100.9 66.1L96.1 60.8Z" fill="#79c360"/><path d="M81.8 84.2L87.2 78.8L83.4 72.9L82.8 72.9L75.0 78.8ZM100.0 80.5L96.4 85.2L96.7 85.9L99.0 83.1L100.6 80.7ZM57.2 10.3L57.1 11.4L61.6 14.8L63.1 12.3L59.8 9.7L59.3 9.1ZM42.2 37.6L44.4 37.7L49.4 33.9L45.7 30.2L41.8 31.0ZM57.8 34.4L57.8 33.6L53.7 29.8L53.4 29.8L49.9 33.9L52.3 37.5ZM69.5 26.5L71.2 25.3L71.2 24.6L69.2 23.1L67.5 23.0L66.5 26.5ZM72.5 29.8L71.2 28.2L71.1 28.2L69.6 29.7L71.5 31.1ZM74.5 31.2L74.5 30.9L73.0 29.7L72.5 29.8L71.5 31.1L71.5 31.2L72.9 32.7L73.1 32.7Z" fill="#b3d95e"/><path d="M87.9 93.6L82.2 97.8L82.1 100.0L82.9 100.9L83.3 100.7L91.1 95.5Z" fill="#fbd91e"/><path d="M52.8 14.5L50.4 10.5L44.7 9.8L46.6 16.2L49.5 18.2ZM69.7 19.6L70.1 18.0L67.7 16.0L64.6 18.1L64.7 19.9L66.9 21.7ZM60.3 38.6L60.3 38.0L57.8 34.4L52.3 37.5L52.4 38.4L57.9 41.5ZM73.0 50.7L76.4 54.4L81.5 51.2L81.4 49.4L76.6 46.6ZM85.9 46.2L84.2 46.0L81.4 49.4L81.5 51.2L84.5 53.8L89.0 49.7ZM96.4 41.1L96.6 42.9L98.0 44.0L99.0 42.3L97.7 40.2ZM71.6 21.4L71.6 21.5L72.9 23.1L73.0 23.1L74.5 21.7L72.7 20.2ZM72.9 26.6L72.9 26.6L74.4 24.6L73.0 23.1L72.9 23.1L71.2 24.6L71.2 25.3ZM66.4 26.7L67.4 29.9L69.6 29.7L71.1 28.2L69.5 26.5L66.5 26.5ZM79.4 29.9L79.2 29.9L77.6 31.5L78.8 33.0L79.4 32.9L80.7 31.4ZM74.7 34.0L74.3 37.2L75.0 37.8L77.7 34.7L77.7 34.7L76.0 33.2ZM86.4 32.8L89.2 35.7L89.3 35.7L90.0 33.4L88.1 31.8L87.6 31.4ZM84.2 34.6L82.7 36.3L82.8 37.6L84.3 39.4L84.8 39.4L86.9 36.8L84.7 34.5Z" fill="#b8d95a"/><path d="M57.9 41.5L52.4 38.4L49.5 42.1L54.1 46.1L57.9 41.9Z" fill="#93d066"/><path d="M82.1 42.4L84.2 46.0L85.9 46.2L89.5 42.4L84.8 39.4L84.3 39.4ZM81.2 62.3L81.1 58.4L76.4 55.2L73.7 59.0L73.7 62.6L76.2 64.9Z" fill="#99d367"/><path d="M81.5 51.2L76.4 54.4L76.4 55.2L81.1 58.4L84.7 54.7L84.5 53.8Z" fill="#8ccd64"/><path d="M84.7 54.7L81.1 58.4L81.2 62.3L88.5 64.6L89.1 63.7L88.0 57.2ZM80.0 26.1L78.1 24.7L77.9 24.9L77.9 25.0L79.3 26.6L79.7 26.6Z" fill="#a0d669"/><path d="M88.0 57.2L89.1 63.7L96.1 60.8L96.4 59.7L93.4 54.4L91.9 54.2Z" fill="#38a451"/><circle cx="77.5" cy="24.5" r="8" fill="url(#gba)" stroke="none" clip-path="url(#pc)"/></g>
<g transform="translate(197.8 447.3)"><path d="M0 22L25.3 22L31 15.5L39.6 6.4L46.8 3.8L49.4 0.3L53.3 3.1L59.8 9.7L70.3 18.1L78.1 24.7L85.9 30.5L95 35.7L99 42.3L95 48.8L96.3 54L101.6 59.2L105.5 63.1L106.1 69.7L104.2 75.3L99 83.1L92.4 91L91.1 95.5L83.3 100.7L70.3 106L57.2 109.5L44.2 111.8L31.1 112.9L23.3 112.5L18.5 111.2L16 109.7L16.9 113L16.4 117.6L19.2 121.4L20.2 125.1L19.7 129.3L17.4 130.7L16.6 134.4L15 139.1L15.5 142.3L18.8 145.6L18.3 149.3L10.8 154L0 147.5Z" fill="#acd965"/><path d="M4.7 22.0L0.0 22.0L0.0 26.4ZM42.0 22.5L40.9 18.7L37.4 15.1L32.3 22.1L36.5 27.8L37.3 27.7L41.4 23.4ZM37.1 52.3L42.5 47.2L38.7 40.4L36.1 39.9L30.6 45.8L30.7 46.5L36.3 52.4ZM50.3 52.8L56.6 58.9L60.1 56.4L60.4 54.4L58.0 49.7L54.3 48.9ZM63.1 77.8L63.0 81.1L67.6 86.8L70.2 86.9L74.8 78.8L70.0 73.9ZM100.8 67.0L95.2 71.8L95.4 74.2L99.7 78.6L104.6 74.0L105.4 71.6ZM53.6 6.2L48.4 2.8L44.3 9.6L44.7 9.8L50.4 10.5L53.6 6.3ZM57.8 34.4L57.8 33.6L53.7 29.8L53.4 29.8L49.9 33.9L52.3 37.5ZM69.5 26.5L71.1 28.2L71.2 28.2L72.9 26.6L71.2 25.3ZM80.0 26.1L78.1 24.7L77.9 24.9L77.9 25.0L79.3 26.6L79.7 26.6ZM74.5 27.9L74.1 27.8L73.0 29.7L74.5 30.9L75.9 29.7L75.9 29.7ZM79.4 29.9L79.2 29.9L77.6 31.5L78.8 33.0L79.4 32.9L80.7 31.4ZM77.7 34.7L78.8 33.0L77.6 31.5L77.4 31.5L76.1 32.7L76.0 33.2ZM86.9 36.8L89.2 35.7L86.4 32.8L85.6 32.8L84.7 34.5ZM84.2 34.6L82.7 36.3L82.8 37.6L84.3 39.4L84.8 39.4L86.9 36.8L84.7 34.5Z" fill="#93d066"/><path d="M12.1 28.9L12.2 28.9L16.4 22.0L5.2 22.0ZM87.2 78.8L87.9 79.0L95.4 74.2L95.2 71.8L88.7 66.8L83.4 72.9ZM81.9 86.7L87.4 90.4L92.6 85.0L87.9 79.0L87.2 78.8L81.8 84.2ZM87.9 93.6L82.2 97.8L82.1 100.0L82.9 100.9L83.3 100.7L91.1 95.5ZM69.7 19.6L70.1 18.0L67.7 16.0L64.6 18.1L64.7 19.9L66.9 21.7ZM68.2 46.5L69.1 46.6L72.3 42.7L68.2 39.1L68.0 39.1L65.5 41.3L65.4 42.9ZM79.6 37.5L78.1 39.2L80.8 42.3L82.1 42.4L84.3 39.4L82.8 37.6ZM77.7 34.7L75.0 37.8L75.6 38.9L78.1 39.2L79.6 37.5L79.4 35.8Z" fill="#8ccd64"/><path d="M5.3 34.7L12.1 28.9L5.2 22.0L4.7 22.0L0.0 26.4L0.0 28.9ZM28.4 18.5L25.3 22.0L20.3 22.0L24.2 26.0L30.1 21.7ZM24.1 65.9L29.3 72.8L29.7 72.8L36.7 65.3L30.0 59.6ZM50.3 64.7L44.2 59.8L43.5 59.9L38.0 65.4L42.0 71.9L43.7 72.1L50.2 66.2ZM32.0 112.0L25.8 103.9L17.5 105.8L17.1 106.2L17.8 110.8L18.5 111.2L23.3 112.5L31.1 112.9L32.1 112.8ZM69.3 99.5L70.3 99.3L75.0 92.3L75.0 91.9L70.2 86.9L67.6 86.8L62.6 92.0L62.5 92.7ZM96.4 85.2L92.6 85.0L87.4 90.4L87.9 93.6L91.1 95.5L91.1 95.5L92.4 91.0L96.7 85.9ZM57.2 10.3L57.1 11.4L61.6 14.8L63.1 12.3L59.8 9.7L59.3 9.1ZM61.6 15.5L61.6 14.8L57.1 11.4L53.9 14.6L57.6 18.1ZM61.6 14.8L61.6 15.5L64.6 18.1L67.7 16.0L63.1 12.3ZM67.5 23.0L66.9 21.7L64.7 19.9L61.0 22.9L64.3 26.7L66.4 26.7L66.5 26.5ZM60.3 38.6L60.3 38.0L57.8 34.4L52.3 37.5L52.4 38.4L57.9 41.5ZM61.4 45.6L61.3 47.3L64.9 49.7L68.2 46.5L65.4 42.9ZM95.0 49.0L95.0 48.8L98.0 44.0L96.6 42.9L93.0 46.5L93.0 47.2ZM72.9 23.1L71.6 21.5L69.2 23.1L71.2 24.6Z" fill="#a0d669"/><path d="M5.2 35.6L5.3 34.7L0.0 28.9L0.0 39.3ZM42.1 9.4L40.1 6.2L39.6 6.4L33.7 12.7L37.4 14.7ZM30.1 21.7L24.2 26.0L24.2 28.1L30.5 33.3L31.9 33.3L36.5 27.8L32.3 22.1ZM18.1 57.6L12.1 53.9L6.5 60.1L12.5 64.8L17.8 61.1ZM30.0 59.2L24.7 54.4L22.8 54.0L18.1 57.6L17.8 61.1L23.7 65.9L24.1 65.9L30.0 59.6ZM23.7 65.9L17.2 72.5L17.2 72.6L25.0 77.6L29.3 72.8L24.1 65.9ZM30.6 98.6L37.0 92.2L31.1 85.3L24.5 91.6L30.1 98.7ZM38.8 92.2L37.0 92.2L30.6 98.6L37.4 103.7L39.2 103.6L43.6 99.2L43.7 98.9ZM56.4 99.3L63.5 104.9L63.9 104.9L69.3 99.5L62.5 92.7L56.3 98.5ZM51.0 104.8L54.0 110.1L57.2 109.5L60.2 108.7L63.5 104.9L56.4 99.3ZM75.0 91.9L75.0 92.3L82.2 97.8L87.9 93.6L87.4 90.4L81.9 86.7ZM48.4 2.8L53.6 6.2L55.0 4.8L53.3 3.1L49.7 0.5L48.8 1.1L48.2 1.9ZM49.5 19.0L46.5 22.6L48.4 26.3L49.7 26.5L53.3 22.5L53.2 22.0ZM64.9 49.7L65.0 51.2L68.4 54.1L72.7 50.7L69.1 46.6L68.2 46.5ZM92.2 38.2L94.5 35.4L90.3 33.0L90.0 33.4L89.3 35.7ZM77.4 24.1L76.2 23.1L74.8 24.6L76.2 26.0L77.9 25.0L77.9 24.9Z" fill="#bcd956"/><path d="M42.1 9.4L44.3 9.6L48.4 2.8L48.2 1.9L46.8 3.8L40.1 6.2ZM37.3 27.7L41.8 31.0L45.7 30.2L46.4 28.7L41.4 23.4ZM49.5 42.1L49.2 42.2L44.3 47.4L49.6 52.8L50.3 52.8L54.3 48.9L54.1 46.1ZM64.8 65.9L66.5 63.4L65.5 58.6L60.1 56.4L56.6 58.9L56.2 61.6L61.0 66.4ZM44.4 84.9L37.5 79.8L31.1 85.2L31.1 85.3L37.0 92.2L38.8 92.2L44.4 85.9ZM64.8 65.9L61.0 66.4L57.2 73.8L63.1 77.8L70.0 73.9L70.0 73.7ZM70.0 73.9L74.8 78.8L75.0 78.8L82.8 72.9L76.2 67.1L70.0 73.7ZM52.8 14.5L50.4 10.5L44.7 9.8L46.6 16.2L49.5 18.2ZM49.5 19.0L49.5 18.2L46.6 16.2L40.9 18.7L42.0 22.5L46.5 22.6ZM46.5 22.6L42.0 22.5L41.4 23.4L46.4 28.7L48.4 26.3ZM57.9 41.5L52.4 38.4L49.5 42.1L54.1 46.1L57.9 41.9ZM69.1 46.6L72.7 50.7L73.0 50.7L76.6 46.6L76.5 45.6L73.8 42.6L72.3 42.7ZM96.4 41.1L96.6 42.9L98.0 44.0L99.0 42.3L97.7 40.2ZM76.2 26.6L76.2 26.0L74.8 24.6L74.4 24.6L72.9 26.6L74.1 27.8L74.5 27.9ZM77.8 28.3L76.2 26.6L74.5 27.9L75.9 29.7ZM72.9 32.7L71.5 31.2L69.3 33.2L71.0 35.1ZM81.2 31.5L82.9 29.7L82.8 29.5L81.3 28.4L79.4 29.9L80.7 31.4ZM86.4 32.8L87.6 31.4L85.9 30.5L85.6 30.2L84.5 31.3L84.5 31.4L85.6 32.8ZM85.6 32.8L84.5 31.4L82.4 33.0L84.2 34.6L84.7 34.5Z" fill="#afd962"/><path d="M30.1 21.7L32.3 22.1L37.4 15.1L37.4 14.7L33.7 12.7L31.0 15.5L28.4 18.5ZM5.4 48.1L7.1 47.7L10.3 41.4L5.2 35.6L0.0 39.3L0.0 42.3ZM56.2 61.6L56.6 58.9L50.3 52.8L49.6 52.8L44.2 59.8L50.3 64.7ZM24.1 91.6L18.0 85.9L12.3 90.3L11.7 93.1L17.1 98.7ZM55.5 74.0L50.2 66.2L43.7 72.1L50.8 78.2ZM60.2 108.7L65.7 107.2L63.9 104.9L63.5 104.9ZM61.0 22.9L60.2 22.9L57.5 26.4L61.2 29.9L64.3 26.7ZM73.0 23.1L74.4 24.6L74.8 24.6L76.2 23.1L74.5 21.7ZM82.8 29.5L82.9 29.7L84.5 31.3L85.6 30.2L83.6 28.8ZM17.1 106.2L5.6 105.3L0.0 109.7L0.0 122.4L20.0 126.7L20.0 126.6L19.4 122.1L19.2 121.4L16.4 117.6L16.9 113.0L16.0 109.7L17.8 110.8Z" fill="#c1d952"/><path d="M12.2 28.9L17.7 33.1L24.2 28.1L24.2 26.0L20.3 22.0L16.4 22.0ZM11.8 51.9L7.1 47.7L5.4 48.1L0.3 53.0L4.4 60.2L6.5 60.1L12.1 53.9ZM42.2 37.6L41.8 31.0L37.3 27.7L36.5 27.8L31.9 33.3L36.1 39.9L38.7 40.4ZM96.4 85.2L100.0 80.5L99.7 78.6L95.4 74.2L87.9 79.0L92.6 85.0ZM71.6 21.4L71.6 21.5L72.9 23.1L73.0 23.1L74.5 21.7L72.7 20.2Z" fill="#79c360"/><path d="M12.2 28.9L12.1 28.9L5.3 34.7L5.2 35.6L10.3 41.4L13.2 41.1L18.0 35.1L17.7 33.1ZM100.9 66.1L105.2 62.8L101.6 59.2L99.6 57.3L96.4 59.7L96.1 60.8ZM88.0 57.2L89.1 63.7L96.1 60.8L96.4 59.7L93.4 54.4L91.9 54.2Z" fill="#66ba5c"/><path d="M0.0 42.3L0.0 52.9L0.3 53.0L5.4 48.1Z" fill="#38a451"/><path d="M44.7 9.8L44.3 9.6L42.1 9.4L37.4 14.7L37.4 15.1L40.9 18.7L46.6 16.2ZM6.5 60.1L4.4 60.2L0.2 65.4L5.5 72.1L12.5 65.8L12.5 64.8ZM12.5 65.8L5.5 72.1L5.6 73.4L12.3 77.7L17.2 72.6L17.2 72.5ZM5.6 73.4L0.0 78.4L0.0 79.6L4.9 85.1L5.8 85.1L12.4 78.2L12.3 77.7ZM5.8 85.1L12.3 90.3L18.0 85.9L18.0 85.1L12.4 78.2ZM24.5 91.6L24.1 91.6L17.1 98.7L17.5 105.8L25.8 103.9L30.1 98.7ZM50.9 92.9L56.3 98.5L62.5 92.7L62.6 92.0L56.3 87.0L50.8 92.4ZM43.6 99.2L39.2 103.6L43.4 110.5L50.8 104.8ZM53.6 6.3L50.4 10.5L52.8 14.5L53.9 14.6L57.1 11.4L57.2 10.3ZM61.3 30.7L57.8 33.6L57.8 34.4L60.3 38.0L65.2 34.1L65.2 33.6ZM57.9 41.9L54.1 46.1L54.3 48.9L58.0 49.7L61.3 47.3L61.4 45.6ZM68.2 39.1L72.3 42.7L73.8 42.6L75.6 38.9L75.0 37.8L74.3 37.2L71.3 36.5ZM58.0 49.7L60.4 54.4L65.0 51.2L64.9 49.7L61.3 47.3Z" fill="#b3d95e"/><path d="M24.2 28.1L17.7 33.1L18.0 35.1L24.2 39.5L30.5 33.3ZM31.9 33.3L30.5 33.3L24.2 39.5L24.6 42.7L30.6 45.8L36.1 39.9ZM22.8 54.0L19.7 46.9L18.9 46.7L11.8 51.9L12.1 53.9L18.1 57.6ZM5.6 73.4L5.5 72.1L0.2 65.4L0.0 65.4L0.0 78.4ZM42.5 47.2L44.3 47.4L49.2 42.2L44.4 37.7L42.2 37.6L38.7 40.4ZM56.2 61.6L50.3 64.7L50.2 66.2L55.5 74.0L57.2 73.8L61.0 66.4ZM76.2 67.1L76.2 64.9L73.7 62.6L66.5 63.4L64.8 65.9L70.0 73.7ZM25.8 103.9L32.0 112.0L37.4 103.7L30.6 98.6L30.1 98.7ZM85.9 46.2L89.0 49.7L89.1 49.7L93.0 47.2L93.0 46.5L89.6 42.3L89.5 42.4ZM74.5 31.2L74.5 30.9L73.0 29.7L72.5 29.8L71.5 31.1L71.5 31.2L72.9 32.7L73.1 32.7ZM79.2 29.9L78.0 28.3L77.8 28.3L75.9 29.7L75.9 29.7L77.4 31.5L77.6 31.5ZM84.5 31.3L82.9 29.7L81.2 31.5L82.3 33.0L82.4 33.0L84.5 31.4ZM82.3 33.0L81.2 31.5L80.7 31.4L79.4 32.9L80.8 34.5L81.1 34.5Z" fill="#aad966"/><path d="M18.0 35.1L13.2 41.1L18.9 46.7L19.7 46.9L24.6 42.7L24.2 39.5ZM30.6 45.8L24.6 42.7L19.7 46.9L22.8 54.0L24.7 54.4L30.7 46.5ZM36.3 52.4L30.7 46.5L24.7 54.4L30.0 59.2ZM36.7 65.3L38.0 65.4L43.5 59.9L37.1 52.3L36.3 52.4L30.0 59.2L30.0 59.6ZM12.3 77.7L12.4 78.2L18.0 85.1L24.9 78.8L25.0 77.6L17.2 72.6ZM25.0 77.6L24.9 78.8L31.1 85.2L37.5 79.8L37.4 78.4L29.7 72.8L29.3 72.8ZM57.2 73.8L55.5 74.0L50.8 78.2L50.6 79.3L56.3 85.5L63.0 81.1L63.1 77.8ZM39.2 103.6L37.4 103.7L32.0 112.0L32.1 112.8L42.5 111.9L43.3 111.5L43.4 110.5ZM53.6 6.2L53.6 6.3L57.2 10.3L59.3 9.1L55.0 4.8ZM42.2 37.6L44.4 37.7L49.4 33.9L45.7 30.2L41.8 31.0ZM68.4 54.1L68.3 55.3L73.7 59.0L76.4 55.2L76.4 54.4L73.0 50.7L72.7 50.7ZM92.2 38.2L92.3 38.9L96.4 41.1L97.7 40.2L95.0 35.7L94.5 35.4ZM89.0 49.7L84.5 53.8L84.7 54.7L88.0 57.2L91.9 54.2L89.1 49.7ZM69.5 26.5L71.2 25.3L71.2 24.6L69.2 23.1L67.5 23.0L66.5 26.5ZM66.4 26.7L67.4 29.9L69.6 29.7L71.1 28.2L69.5 26.5L66.5 26.5ZM71.5 31.1L69.6 29.7L67.4 29.9L66.7 32.5L69.3 33.2L71.5 31.2ZM79.7 26.6L81.2 27.6L81.6 27.3L80.0 26.1ZM74.7 34.0L74.3 37.2L75.0 37.8L77.7 34.7L77.7 34.7L76.0 33.2ZM79.4 32.9L78.8 33.0L77.7 34.7L77.7 34.7L79.4 35.8L80.8 34.5Z" fill="#a6d96a"/><path d="M13.2 41.1L10.3 41.4L7.1 47.7L11.8 51.9L18.9 46.7ZM12.3 90.3L5.8 85.1L4.9 85.1L0.0 92.3L0.0 92.5L5.2 96.7L11.7 93.1ZM82.1 100.0L82.2 97.8L75.0 92.3L70.3 99.3L75.4 103.9L77.1 103.2ZM57.5 19.5L57.6 18.1L53.9 14.6L52.8 14.5L49.5 18.2L49.5 19.0L53.2 22.0Z" fill="#ced946"/><path d="M0.2 65.4L4.4 60.2L0.3 53.0L0.0 52.9L0.0 65.4Z" fill="#d7d93e"/><path d="M12.5 64.8L12.5 65.8L17.2 72.5L23.7 65.9L17.8 61.1ZM56.3 87.0L56.3 85.5L50.6 79.3L44.4 84.9L44.4 85.9L50.8 92.4ZM43.7 98.9L43.6 99.2L50.8 104.8L51.0 104.8L56.4 99.3L56.3 98.5L50.9 92.9ZM100.9 66.1L100.8 67.0L105.4 71.6L106.1 69.7L105.5 63.1L105.2 62.8ZM73.8 42.6L76.5 45.6L80.8 42.3L78.1 39.2L75.6 38.9ZM93.0 46.5L96.6 42.9L96.4 41.1L92.3 38.9L89.6 42.3ZM69.7 19.6L71.6 21.4L72.7 20.2L70.3 18.1L70.1 18.0ZM76.1 32.7L74.5 31.2L73.1 32.7L74.7 34.0L76.0 33.2ZM81.2 27.6L81.3 28.4L82.8 29.5L83.6 28.8L81.6 27.3ZM86.4 32.8L89.2 35.7L89.3 35.7L90.0 33.4L88.1 31.8L87.6 31.4Z" fill="#b8d95a"/><path d="M4.9 85.1L0.0 79.6L0.0 92.3ZM43.7 72.1L42.0 71.9L37.4 78.4L37.5 79.8L44.4 84.9L50.6 79.3L50.8 78.2ZM44.4 85.9L38.8 92.2L43.7 98.9L50.9 92.9L50.8 92.4ZM49.7 26.5L53.4 29.8L53.7 29.8L56.4 26.7L53.3 22.5ZM52.3 37.5L49.9 33.9L49.4 33.9L44.4 37.7L49.2 42.2L49.5 42.1L52.4 38.4Z" fill="#c5d94e"/><path d="M43.5 59.9L44.2 59.8L49.6 52.8L44.3 47.4L42.5 47.2L37.1 52.3ZM82.8 72.9L83.4 72.9L88.7 66.8L88.5 64.6L81.2 62.3L76.2 64.9L76.2 67.1ZM100.0 80.5L96.4 85.2L96.7 85.9L99.0 83.1L100.6 80.7ZM64.3 26.7L61.2 29.9L61.3 30.7L65.2 33.6L66.7 32.5L67.4 29.9L66.4 26.7ZM69.2 23.1L71.6 21.5L71.6 21.4L69.7 19.6L66.9 21.7L67.5 23.0ZM72.5 29.8L71.2 28.2L71.1 28.2L69.6 29.7L71.5 31.1ZM79.3 26.6L77.9 25.0L76.2 26.0L76.2 26.6L77.8 28.3L78.0 28.3Z" fill="#7fc661"/><path d="M5.6 105.3L5.2 96.7L0.0 92.5L0.0 109.7ZM65.5 41.3L60.3 38.6L57.9 41.5L57.9 41.9L61.4 45.6L65.4 42.9ZM0.0 122.4L0.0 147.5L10.8 154.0L18.3 149.3L18.8 145.6L15.5 142.3L15.0 139.1L16.6 134.4L17.4 130.7L19.7 129.3L20.0 126.7Z" fill="#cad94a"/><path d="M29.7 72.8L37.4 78.4L42.0 71.9L38.0 65.4L36.7 65.3ZM62.6 92.0L67.6 86.8L63.0 81.1L56.3 85.5L56.3 87.0ZM81.8 84.2L87.2 78.8L83.4 72.9L82.8 72.9L75.0 78.8ZM70.2 86.9L75.0 91.9L81.9 86.7L81.8 84.2L75.0 78.8L74.8 78.8ZM65.7 107.2L70.3 106.0L75.4 103.9L70.3 99.3L69.3 99.5L63.9 104.9ZM99.7 78.6L100.0 80.5L100.6 80.7L104.2 75.3L104.6 74.0ZM57.5 19.5L53.2 22.0L53.3 22.5L56.4 26.7L57.5 26.4L60.2 22.9ZM46.4 28.7L45.7 30.2L49.4 33.9L49.9 33.9L53.4 29.8L49.7 26.5L48.4 26.3ZM56.4 26.7L53.7 29.8L57.8 33.6L61.3 30.7L61.2 29.9L57.5 26.4ZM68.0 39.1L65.2 34.1L60.3 38.0L60.3 38.6L65.5 41.3ZM82.1 42.4L84.2 46.0L85.9 46.2L89.5 42.4L84.8 39.4L84.3 39.4ZM76.5 45.6L76.6 46.6L81.4 49.4L84.2 46.0L82.1 42.4L80.8 42.3ZM73.0 50.7L76.4 54.4L81.5 51.2L81.4 49.4L76.6 46.6ZM73.7 59.0L68.3 55.3L65.5 58.6L66.5 63.4L73.7 62.6ZM73.1 32.7L72.9 32.7L71.0 35.1L71.3 36.5L74.3 37.2L74.7 34.0ZM82.4 33.0L82.3 33.0L81.1 34.5L82.7 36.3L84.2 34.6ZM81.1 34.5L80.8 34.5L79.4 35.8L79.6 37.5L82.8 37.6L82.7 36.3Z" fill="#99d367"/><path d="M24.9 78.8L18.0 85.1L18.0 85.9L24.1 91.6L24.5 91.6L31.1 85.3L31.1 85.2ZM82.1 100.0L77.1 103.2L82.9 100.9ZM69.3 33.2L66.7 32.5L65.2 33.6L65.2 34.1L68.0 39.1L68.2 39.1L71.3 36.5L71.0 35.1ZM60.4 54.4L60.1 56.4L65.5 58.6L68.3 55.3L68.4 54.1L65.0 51.2ZM86.9 36.8L84.8 39.4L89.5 42.4L89.6 42.3L92.3 38.9L92.2 38.2L89.3 35.7L89.2 35.7ZM91.9 54.2L93.4 54.4L95.7 51.7L95.0 49.0L93.0 47.2L89.1 49.7ZM84.7 54.7L81.1 58.4L81.2 62.3L88.5 64.6L89.1 63.7L88.0 57.2ZM72.9 26.6L72.9 26.6L74.4 24.6L73.0 23.1L72.9 23.1L71.2 24.6L71.2 25.3ZM74.1 27.8L72.9 26.6L72.9 26.6L71.2 28.2L72.5 29.8L73.0 29.7Z" fill="#86ca63"/><path d="M17.1 98.7L11.7 93.1L5.2 96.7L5.6 105.3L17.1 106.2L17.5 105.8Z" fill="#dbd93a"/><path d="M89.1 63.7L88.5 64.6L88.7 66.8L95.2 71.8L100.8 67.0L100.9 66.1L96.1 60.8ZM64.7 19.9L64.6 18.1L61.6 15.5L57.6 18.1L57.5 19.5L60.2 22.9L61.0 22.9ZM85.9 46.2L84.2 46.0L81.4 49.4L81.5 51.2L84.5 53.8L89.0 49.7Z" fill="#6cbd5d"/><path d="M50.8 104.8L43.4 110.5L43.3 111.5L43.7 111.8L44.2 111.8L54.0 110.1L51.0 104.8Z" fill="#e0d936"/><path d="M81.5 51.2L76.4 54.4L76.4 55.2L81.1 58.4L84.7 54.7L84.5 53.8Z" fill="#52b157"/><path d="M81.2 62.3L81.1 58.4L76.4 55.2L73.7 59.0L73.7 62.6L76.2 64.9Z" fill="#3fa753"/><path d="M96.4 59.7L99.6 57.3L96.3 54.0L95.7 51.7L93.4 54.4Z" fill="#59b459"/><path d="M79.2 29.9L79.4 29.9L81.3 28.4L81.2 27.6L79.7 26.6L79.3 26.6L78.0 28.3ZM77.4 31.5L75.9 29.7L74.5 30.9L74.5 31.2L76.1 32.7Z" fill="#72c05e"/><circle cx="77.5" cy="24.5" r="8" fill="url(#gba)" stroke="none" clip-path="url(#pc)"/></g>
<g transform="translate(320.8 447.3)"><path d="M0 22L25.3 22L31 15.5L39.6 6.4L46.8 3.8L49.4 0.3L53.3 3.1L59.8 9.7L70.3 18.1L78.1 24.7L85.9 30.5L95 35.7L99 42.3L95 48.8L96.3 54L101.6 59.2L105.5 63.1L106.1 69.7L104.2 75.3L99 83.1L92.4 91L91.1 95.5L83.3 100.7L70.3 106L57.2 109.5L44.2 111.8L31.1 112.9L23.3 112.5L18.5 111.2L16 109.7L16.9 113L16.4 117.6L19.2 121.4L20.2 125.1L19.7 129.3L17.4 130.7L16.6 134.4L15 139.1L15.5 142.3L18.8 145.6L18.3 149.3L10.8 154L0 147.5Z" fill="#fed51d"/><path d="M4.7 22.0L0.0 22.0L0.0 26.4ZM42.5 47.2L44.3 47.4L49.2 42.2L44.4 37.7L42.2 37.6L38.7 40.4ZM43.5 59.9L44.2 59.8L49.6 52.8L44.3 47.4L42.5 47.2L37.1 52.3ZM56.2 61.6L56.6 58.9L50.3 52.8L49.6 52.8L44.2 59.8L50.3 64.7ZM56.2 61.6L50.3 64.7L50.2 66.2L55.5 74.0L57.2 73.8L61.0 66.4ZM76.2 67.1L76.2 64.9L73.7 62.6L66.5 63.4L64.8 65.9L70.0 73.7ZM56.3 87.0L56.3 85.5L50.6 79.3L44.4 84.9L44.4 85.9L50.8 92.4ZM89.1 63.7L88.5 64.6L88.7 66.8L95.2 71.8L100.8 67.0L100.9 66.1L96.1 60.8ZM87.2 78.8L87.9 79.0L95.4 74.2L95.2 71.8L88.7 66.8L83.4 72.9ZM81.8 84.2L87.2 78.8L83.4 72.9L82.8 72.9L75.0 78.8ZM61.4 45.6L61.3 47.3L64.9 49.7L68.2 46.5L65.4 42.9ZM73.7 59.0L68.3 55.3L65.5 58.6L66.5 63.4L73.7 62.6ZM73.0 23.1L74.4 24.6L74.8 24.6L76.2 23.1L74.5 21.7ZM77.8 28.3L76.2 26.6L74.5 27.9L75.9 29.7ZM74.7 34.0L74.3 37.2L75.0 37.8L77.7 34.7L77.7 34.7L76.0 33.2ZM77.7 34.7L75.0 37.8L75.6 38.9L78.1 39.2L79.6 37.5L79.4 35.8Z" fill="#f2d926"/><path d="M12.1 28.9L12.2 28.9L16.4 22.0L5.2 22.0ZM30.6 45.8L24.6 42.7L19.7 46.9L22.8 54.0L24.7 54.4L30.7 46.5ZM5.6 73.4L5.5 72.1L0.2 65.4L0.0 65.4L0.0 78.4ZM12.5 65.8L5.5 72.1L5.6 73.4L12.3 77.7L17.2 72.6L17.2 72.5ZM24.1 65.9L29.3 72.8L29.7 72.8L36.7 65.3L30.0 59.6ZM43.7 72.1L42.0 71.9L37.4 78.4L37.5 79.8L44.4 84.9L50.6 79.3L50.8 78.2ZM25.8 103.9L32.0 112.0L37.4 103.7L30.6 98.6L30.1 98.7ZM69.3 99.5L70.3 99.3L75.0 92.3L75.0 91.9L70.2 86.9L67.6 86.8L62.6 92.0L62.5 92.7ZM53.6 6.2L48.4 2.8L44.3 9.6L44.7 9.8L50.4 10.5L53.6 6.3ZM52.8 14.5L50.4 10.5L44.7 9.8L46.6 16.2L49.5 18.2ZM61.6 15.5L61.6 14.8L57.1 11.4L53.9 14.6L57.6 18.1ZM68.0 39.1L65.2 34.1L60.3 38.0L60.3 38.6L65.5 41.3ZM57.9 41.9L54.1 46.1L54.3 48.9L58.0 49.7L61.3 47.3L61.4 45.6ZM86.9 36.8L84.8 39.4L89.5 42.4L89.6 42.3L92.3 38.9L92.2 38.2L89.3 35.7L89.2 35.7ZM74.1 27.8L72.9 26.6L72.9 26.6L71.2 28.2L72.5 29.8L73.0 29.7ZM72.5 29.8L71.2 28.2L71.1 28.2L69.6 29.7L71.5 31.1ZM79.2 29.9L78.0 28.3L77.8 28.3L75.9 29.7L75.9 29.7L77.4 31.5L77.6 31.5ZM82.8 29.5L82.9 29.7L84.5 31.3L85.6 30.2L83.6 28.8ZM82.3 33.0L81.2 31.5L80.7 31.4L79.4 32.9L80.8 34.5L81.1 34.5ZM86.4 32.8L89.2 35.7L89.3 35.7L90.0 33.4L88.1 31.8L87.6 31.4Z" fill="#fbd91e"/><path d="M5.3 34.7L12.1 28.9L5.2 22.0L4.7 22.0L0.0 26.4L0.0 28.9ZM12.2 28.9L17.7 33.1L24.2 28.1L24.2 26.0L20.3 22.0L16.4 22.0ZM5.8 85.1L12.3 90.3L18.0 85.9L18.0 85.1L12.4 78.2ZM24.1 91.6L18.0 85.9L12.3 90.3L11.7 93.1L17.1 98.7ZM70.2 86.9L75.0 91.9L81.9 86.7L81.8 84.2L75.0 78.8L74.8 78.8ZM51.0 104.8L54.0 110.1L57.2 109.5L60.2 108.7L63.5 104.9L56.4 99.3ZM81.9 86.7L87.4 90.4L92.6 85.0L87.9 79.0L87.2 78.8L81.8 84.2ZM61.6 14.8L61.6 15.5L64.6 18.1L67.7 16.0L63.1 12.3ZM49.7 26.5L53.4 29.8L53.7 29.8L56.4 26.7L53.3 22.5ZM60.3 38.6L60.3 38.0L57.8 34.4L52.3 37.5L52.4 38.4L57.9 41.5ZM73.8 42.6L76.5 45.6L80.8 42.3L78.1 39.2L75.6 38.9ZM69.5 26.5L71.1 28.2L71.2 28.2L72.9 26.6L71.2 25.3ZM66.4 26.7L67.4 29.9L69.6 29.7L71.1 28.2L69.5 26.5L66.5 26.5ZM79.7 26.6L81.2 27.6L81.6 27.3L80.0 26.1ZM85.6 32.8L84.5 31.4L82.4 33.0L84.2 34.6L84.7 34.5Z" fill="#fed51d"/><path d="M5.2 35.6L5.3 34.7L0.0 28.9L0.0 39.3ZM12.5 64.8L12.5 65.8L17.2 72.5L23.7 65.9L17.8 61.1ZM42.2 37.6L44.4 37.7L49.4 33.9L45.7 30.2L41.8 31.0Z" fill="#d3d942"/><path d="M42.1 9.4L44.3 9.6L48.4 2.8L48.2 1.9L46.8 3.8L40.1 6.2ZM36.3 52.4L30.7 46.5L24.7 54.4L30.0 59.2ZM49.5 19.0L46.5 22.6L48.4 26.3L49.7 26.5L53.3 22.5L53.2 22.0ZM68.2 39.1L72.3 42.7L73.8 42.6L75.6 38.9L75.0 37.8L74.3 37.2L71.3 36.5ZM60.4 54.4L60.1 56.4L65.5 58.6L68.3 55.3L68.4 54.1L65.0 51.2ZM91.9 54.2L93.4 54.4L95.7 51.7L95.0 49.0L93.0 47.2L89.1 49.7ZM84.2 34.6L82.7 36.3L82.8 37.6L84.3 39.4L84.8 39.4L86.9 36.8L84.7 34.5Z" fill="#e9d92e"/><path d="M42.1 9.4L40.1 6.2L39.6 6.4L33.7 12.7L37.4 14.7ZM0.0 42.3L0.0 52.9L0.3 53.0L5.4 48.1ZM42.0 22.5L40.9 18.7L37.4 15.1L32.3 22.1L36.5 27.8L37.3 27.7L41.4 23.4ZM0.2 65.4L4.4 60.2L0.3 53.0L0.0 52.9L0.0 65.4ZM37.3 27.7L41.8 31.0L45.7 30.2L46.4 28.7L41.4 23.4ZM6.5 60.1L4.4 60.2L0.2 65.4L5.5 72.1L12.5 65.8L12.5 64.8ZM49.5 42.1L49.2 42.2L44.3 47.4L49.6 52.8L50.3 52.8L54.3 48.9L54.1 46.1ZM24.5 91.6L24.1 91.6L17.1 98.7L17.5 105.8L25.8 103.9L30.1 98.7ZM50.8 104.8L43.4 110.5L43.3 111.5L43.7 111.8L44.2 111.8L54.0 110.1L51.0 104.8ZM48.4 2.8L53.6 6.2L55.0 4.8L53.3 3.1L49.7 0.5L48.8 1.1L48.2 1.9ZM57.2 10.3L57.1 11.4L61.6 14.8L63.1 12.3L59.8 9.7L59.3 9.1ZM46.5 22.6L42.0 22.5L41.4 23.4L46.4 28.7L48.4 26.3ZM61.0 22.9L60.2 22.9L57.5 26.4L61.2 29.9L64.3 26.7ZM64.3 26.7L61.2 29.9L61.3 30.7L65.2 33.6L66.7 32.5L67.4 29.9L66.4 26.7ZM68.2 46.5L69.1 46.6L72.3 42.7L68.2 39.1L68.0 39.1L65.5 41.3L65.4 42.9ZM58.0 49.7L60.4 54.4L65.0 51.2L64.9 49.7L61.3 47.3ZM82.1 42.4L84.2 46.0L85.9 46.2L89.5 42.4L84.8 39.4L84.3 39.4ZM79.3 26.6L77.9 25.0L76.2 26.0L76.2 26.6L77.8 28.3L78.0 28.3ZM79.2 29.9L79.4 29.9L81.3 28.4L81.2 27.6L79.7 26.6L79.3 26.6L78.0 28.3ZM79.4 32.9L78.8 33.0L77.7 34.7L77.7 34.7L79.4 35.8L80.8 34.5ZM82.4 33.0L82.3 33.0L81.1 34.5L82.7 36.3L84.2 34.6Z" fill="#fdd121"/><path d="M30.1 21.7L32.3 22.1L37.4 15.1L37.4 14.7L33.7 12.7L31.0 15.5L28.4 18.5ZM4.9 85.1L0.0 79.6L0.0 92.3ZM36.7 65.3L38.0 65.4L43.5 59.9L37.1 52.3L36.3 52.4L30.0 59.2L30.0 59.6ZM29.7 72.8L37.4 78.4L42.0 71.9L38.0 65.4L36.7 65.3ZM55.5 74.0L50.2 66.2L43.7 72.1L50.8 78.2ZM70.0 73.9L74.8 78.8L75.0 78.8L82.8 72.9L76.2 67.1L70.0 73.7ZM62.6 92.0L67.6 86.8L63.0 81.1L56.3 85.5L56.3 87.0ZM43.7 98.9L43.6 99.2L50.8 104.8L51.0 104.8L56.4 99.3L56.3 98.5L50.9 92.9ZM100.9 66.1L100.8 67.0L105.4 71.6L106.1 69.7L105.5 63.1L105.2 62.8ZM57.5 19.5L57.6 18.1L53.9 14.6L52.8 14.5L49.5 18.2L49.5 19.0L53.2 22.0ZM57.8 34.4L57.8 33.6L53.7 29.8L53.4 29.8L49.9 33.9L52.3 37.5ZM52.3 37.5L49.9 33.9L49.4 33.9L44.4 37.7L49.2 42.2L49.5 42.1L52.4 38.4ZM69.3 33.2L66.7 32.5L65.2 33.6L65.2 34.1L68.0 39.1L68.2 39.1L71.3 36.5L71.0 35.1ZM92.2 38.2L94.5 35.4L90.3 33.0L90.0 33.4L89.3 35.7ZM93.0 46.5L96.6 42.9L96.4 41.1L92.3 38.9L89.6 42.3ZM69.5 26.5L71.2 25.3L71.2 24.6L69.2 23.1L67.5 23.0L66.5 26.5Z" fill="#ffd91a"/><path d="M28.4 18.5L25.3 22.0L20.3 22.0L24.2 26.0L30.1 21.7ZM13.2 41.1L10.3 41.4L7.1 47.7L11.8 51.9L18.9 46.7ZM30.0 59.2L24.7 54.4L22.8 54.0L18.1 57.6L17.8 61.1L23.7 65.9L24.1 65.9L30.0 59.6ZM24.9 78.8L18.0 85.1L18.0 85.9L24.1 91.6L24.5 91.6L31.1 85.3L31.1 85.2ZM64.8 65.9L66.5 63.4L65.5 58.6L60.1 56.4L56.6 58.9L56.2 61.6L61.0 66.4ZM57.2 73.8L55.5 74.0L50.8 78.2L50.6 79.3L56.3 85.5L63.0 81.1L63.1 77.8ZM44.4 85.9L38.8 92.2L43.7 98.9L50.9 92.9L50.8 92.4ZM60.2 108.7L65.7 107.2L63.9 104.9L63.5 104.9ZM64.7 19.9L64.6 18.1L61.6 15.5L57.6 18.1L57.5 19.5L60.2 22.9L61.0 22.9ZM57.9 41.5L52.4 38.4L49.5 42.1L54.1 46.1L57.9 41.9ZM79.6 37.5L78.1 39.2L80.8 42.3L82.1 42.4L84.3 39.4L82.8 37.6ZM69.1 46.6L72.7 50.7L73.0 50.7L76.6 46.6L76.5 45.6L73.8 42.6L72.3 42.7ZM76.2 26.6L76.2 26.0L74.8 24.6L74.4 24.6L72.9 26.6L74.1 27.8L74.5 27.9ZM77.4 31.5L75.9 29.7L74.5 30.9L74.5 31.2L76.1 32.7Z" fill="#fdcd24"/><path d="M12.2 28.9L12.1 28.9L5.3 34.7L5.2 35.6L10.3 41.4L13.2 41.1L18.0 35.1L17.7 33.1ZM18.0 35.1L13.2 41.1L18.9 46.7L19.7 46.9L24.6 42.7L24.2 39.5ZM25.0 77.6L24.9 78.8L31.1 85.2L37.5 79.8L37.4 78.4L29.7 72.8L29.3 72.8ZM82.8 72.9L83.4 72.9L88.7 66.8L88.5 64.6L81.2 62.3L76.2 64.9L76.2 67.1ZM53.6 6.3L50.4 10.5L52.8 14.5L53.9 14.6L57.1 11.4L57.2 10.3ZM92.2 38.2L92.3 38.9L96.4 41.1L97.7 40.2L95.0 35.7L94.5 35.4ZM95.0 49.0L95.0 48.8L98.0 44.0L96.6 42.9L93.0 46.5L93.0 47.2ZM74.5 31.2L74.5 30.9L73.0 29.7L72.5 29.8L71.5 31.1L71.5 31.2L72.9 32.7L73.1 32.7ZM86.4 32.8L87.6 31.4L85.9 30.5L85.6 30.2L84.5 31.3L84.5 31.4L85.6 32.8Z" fill="#e0d936"/><path d="M5.4 48.1L7.1 47.7L10.3 41.4L5.2 35.6L0.0 39.3L0.0 42.3ZM100.9 66.1L105.2 62.8L101.6 59.2L99.6 57.3L96.4 59.7L96.1 60.8ZM96.4 59.7L99.6 57.3L96.3 54.0L95.7 51.7L93.4 54.4Z" fill="#c5d94e"/><path d="M44.7 9.8L44.3 9.6L42.1 9.4L37.4 14.7L37.4 15.1L40.9 18.7L46.6 16.2ZM57.5 19.5L53.2 22.0L53.3 22.5L56.4 26.7L57.5 26.4L60.2 22.9ZM56.4 26.7L53.7 29.8L57.8 33.6L61.3 30.7L61.2 29.9L57.5 26.4Z" fill="#dbd93a"/><path d="M30.1 21.7L24.2 26.0L24.2 28.1L30.5 33.3L31.9 33.3L36.5 27.8L32.3 22.1ZM42.2 37.6L41.8 31.0L37.3 27.7L36.5 27.8L31.9 33.3L36.1 39.9L38.7 40.4ZM12.3 77.7L12.4 78.2L18.0 85.1L24.9 78.8L25.0 77.6L17.2 72.6ZM64.8 65.9L61.0 66.4L57.2 73.8L63.1 77.8L70.0 73.9L70.0 73.7ZM49.5 19.0L49.5 18.2L46.6 16.2L40.9 18.7L42.0 22.5L46.5 22.6ZM46.4 28.7L45.7 30.2L49.4 33.9L49.9 33.9L53.4 29.8L49.7 26.5L48.4 26.3ZM61.3 30.7L57.8 33.6L57.8 34.4L60.3 38.0L65.2 34.1L65.2 33.6ZM76.5 45.6L76.6 46.6L81.4 49.4L84.2 46.0L82.1 42.4L80.8 42.3ZM85.9 46.2L89.0 49.7L89.1 49.7L93.0 47.2L93.0 46.5L89.6 42.3L89.5 42.4ZM81.1 34.5L80.8 34.5L79.4 35.8L79.6 37.5L82.8 37.6L82.7 36.3ZM86.9 36.8L89.2 35.7L86.4 32.8L85.6 32.8L84.7 34.5Z" fill="#edd92a"/><path d="M24.2 28.1L17.7 33.1L18.0 35.1L24.2 39.5L30.5 33.3ZM53.6 6.2L53.6 6.3L57.2 10.3L59.3 9.1L55.0 4.8ZM72.9 26.6L72.9 26.6L74.4 24.6L73.0 23.1L72.9 23.1L71.2 24.6L71.2 25.3ZM80.0 26.1L78.1 24.7L77.9 24.9L77.9 25.0L79.3 26.6L79.7 26.6ZM74.5 27.9L74.1 27.8L73.0 29.7L74.5 30.9L75.9 29.7L75.9 29.7ZM81.2 27.6L81.3 28.4L82.8 29.5L83.6 28.8L81.6 27.3Z" fill="#f6d922"/><path d="M11.8 51.9L7.1 47.7L5.4 48.1L0.3 53.0L4.4 60.2L6.5 60.1L12.1 53.9ZM82.1 100.0L77.1 103.2L82.9 100.9ZM65.5 41.3L60.3 38.6L57.9 41.5L57.9 41.9L61.4 45.6L65.4 42.9ZM69.2 23.1L71.6 21.5L71.6 21.4L69.7 19.6L66.9 21.7L67.5 23.0ZM0.0 122.4L0.0 147.5L10.8 154.0L18.3 149.3L18.8 145.6L15.5 142.3L15.0 139.1L16.6 134.4L17.4 130.7L19.7 129.3L20.0 126.7Z" fill="#f5aa42"/><path d="M31.9 33.3L30.5 33.3L24.2 39.5L24.6 42.7L30.6 45.8L36.1 39.9ZM37.1 52.3L42.5 47.2L38.7 40.4L36.1 39.9L30.6 45.8L30.7 46.5L36.3 52.4ZM17.1 98.7L11.7 93.1L5.2 96.7L5.6 105.3L17.1 106.2L17.5 105.8ZM44.4 84.9L37.5 79.8L31.1 85.2L31.1 85.3L37.0 92.2L38.8 92.2L44.4 85.9ZM65.7 107.2L70.3 106.0L75.4 103.9L70.3 99.3L69.3 99.5L63.9 104.9ZM71.5 31.1L69.6 29.7L67.4 29.9L66.7 32.5L69.3 33.2L71.5 31.2ZM73.1 32.7L72.9 32.7L71.0 35.1L71.3 36.5L74.3 37.2L74.7 34.0ZM81.2 31.5L82.9 29.7L82.8 29.5L81.3 28.4L79.4 29.9L80.7 31.4ZM77.7 34.7L78.8 33.0L77.6 31.5L77.4 31.5L76.1 32.7L76.0 33.2Z" fill="#fbc52a"/><path d="M22.8 54.0L19.7 46.9L18.9 46.7L11.8 51.9L12.1 53.9L18.1 57.6ZM30.6 98.6L37.0 92.2L31.1 85.3L24.5 91.6L30.1 98.7ZM38.8 92.2L37.0 92.2L30.6 98.6L37.4 103.7L39.2 103.6L43.6 99.2L43.7 98.9ZM32.0 112.0L25.8 103.9L17.5 105.8L17.1 106.2L17.8 110.8L18.5 111.2L23.3 112.5L31.1 112.9L32.1 112.8ZM39.2 103.6L37.4 103.7L32.0 112.0L32.1 112.8L42.5 111.9L43.3 111.5L43.4 110.5ZM72.9 23.1L71.6 21.5L69.2 23.1L71.2 24.6Z" fill="#fcc927"/><path d="M18.1 57.6L12.1 53.9L6.5 60.1L12.5 64.8L17.8 61.1ZM50.9 92.9L56.3 98.5L62.5 92.7L62.6 92.0L56.3 87.0L50.8 92.4ZM43.6 99.2L39.2 103.6L43.4 110.5L50.8 104.8ZM82.1 100.0L82.2 97.8L75.0 92.3L70.3 99.3L75.4 103.9L77.1 103.2Z" fill="#f7b13b"/><path d="M5.6 73.4L0.0 78.4L0.0 79.6L4.9 85.1L5.8 85.1L12.4 78.2L12.3 77.7ZM73.0 50.7L76.4 54.4L81.5 51.2L81.4 49.4L76.6 46.6ZM68.4 54.1L68.3 55.3L73.7 59.0L76.4 55.2L76.4 54.4L73.0 50.7L72.7 50.7ZM85.9 46.2L84.2 46.0L81.4 49.4L81.5 51.2L84.5 53.8L89.0 49.7Z" fill="#d7d93e"/><path d="M23.7 65.9L17.2 72.5L17.2 72.6L25.0 77.6L29.3 72.8L24.1 65.9ZM5.6 105.3L5.2 96.7L0.0 92.5L0.0 109.7ZM50.3 52.8L56.6 58.9L60.1 56.4L60.4 54.4L58.0 49.7L54.3 48.9ZM79.4 29.9L79.2 29.9L77.6 31.5L78.8 33.0L79.4 32.9L80.7 31.4Z" fill="#f9bd31"/><path d="M12.3 90.3L5.8 85.1L4.9 85.1L0.0 92.3L0.0 92.5L5.2 96.7L11.7 93.1ZM77.4 24.1L76.2 23.1L74.8 24.6L76.2 26.0L77.9 25.0L77.9 24.9ZM72.9 32.7L71.5 31.2L69.3 33.2L71.0 35.1ZM17.1 106.2L5.6 105.3L0.0 109.7L0.0 122.4L20.0 126.7L20.0 126.6L19.4 122.1L19.2 121.4L16.4 117.6L16.9 113.0L16.0 109.7L17.8 110.8Z" fill="#fac12e"/><path d="M50.3 64.7L44.2 59.8L43.5 59.9L38.0 65.4L42.0 71.9L43.7 72.1L50.2 66.2ZM64.9 49.7L65.0 51.2L68.4 54.1L72.7 50.7L69.1 46.6L68.2 46.5ZM96.4 41.1L96.6 42.9L98.0 44.0L99.0 42.3L97.7 40.2Z" fill="#e4d932"/><path d="M63.1 77.8L63.0 81.1L67.6 86.8L70.2 86.9L74.8 78.8L70.0 73.9ZM75.0 91.9L75.0 92.3L82.2 97.8L87.9 93.6L87.4 90.4L81.9 86.7ZM87.9 93.6L82.2 97.8L82.1 100.0L82.9 100.9L83.3 100.7L91.1 95.5ZM67.5 23.0L66.9 21.7L64.7 19.9L61.0 22.9L64.3 26.7L66.4 26.7L66.5 26.5Z" fill="#f9b934"/><path d="M56.4 99.3L63.5 104.9L63.9 104.9L69.3 99.5L62.5 92.7L56.3 98.5ZM84.5 31.3L82.9 29.7L81.2 31.5L82.3 33.0L82.4 33.0L84.5 31.4Z" fill="#f6ae3e"/><path d="M100.8 67.0L95.2 71.8L95.4 74.2L99.7 78.6L104.6 74.0L105.4 71.6Z" fill="#f19652"/><path d="M96.4 85.2L100.0 80.5L99.7 78.6L95.4 74.2L87.9 79.0L92.6 85.0Z" fill="#f5a645"/><path d="M99.7 78.6L100.0 80.5L100.6 80.7L104.2 75.3L104.6 74.0ZM100.0 80.5L96.4 85.2L96.7 85.9L99.0 83.1L100.6 80.7ZM69.7 19.6L70.1 18.0L67.7 16.0L64.6 18.1L64.7 19.9L66.9 21.7Z" fill="#f4a248"/><path d="M96.4 85.2L92.6 85.0L87.4 90.4L87.9 93.6L91.1 95.5L91.1 95.5L92.4 91.0L96.7 85.9ZM71.6 21.4L71.6 21.5L72.9 23.1L73.0 23.1L74.5 21.7L72.7 20.2Z" fill="#f8b538"/><path d="M81.5 51.2L76.4 54.4L76.4 55.2L81.1 58.4L84.7 54.7L84.5 53.8Z" fill="#a0d669"/><path d="M81.2 62.3L81.1 58.4L76.4 55.2L73.7 59.0L73.7 62.6L76.2 64.9Z" fill="#b3d95e"/><path d="M89.0 49.7L84.5 53.8L84.7 54.7L88.0 57.2L91.9 54.2L89.1 49.7Z" fill="#bcd956"/><path d="M84.7 54.7L81.1 58.4L81.2 62.3L88.5 64.6L89.1 63.7L88.0 57.2Z" fill="#93d066"/><path d="M88.0 57.2L89.1 63.7L96.1 60.8L96.4 59.7L93.4 54.4L91.9 54.2Z" fill="#a6d96a"/><path d="M69.7 19.6L71.6 21.4L72.7 20.2L70.3 18.1L70.1 18.0Z" fill="#f39e4c"/><path d="M76.1 32.7L74.5 31.2L73.1 32.7L74.7 34.0L76.0 33.2Z" fill="#cad94a"/><circle cx="77.5" cy="24.5" r="8" fill="url(#gba)" stroke="none" clip-path="url(#pc)"/></g>
<g transform="translate(443.7 447.3)"><path d="M0 22L25.3 22L31 15.5L39.6 6.4L46.8 3.8L49.4 0.3L53.3 3.1L59.8 9.7L70.3 18.1L78.1 24.7L85.9 30.5L95 35.7L99 42.3L95 48.8L96.3 54L101.6 59.2L105.5 63.1L106.1 69.7L104.2 75.3L99 83.1L92.4 91L91.1 95.5L83.3 100.7L70.3 106L57.2 109.5L44.2 111.8L31.1 112.9L23.3 112.5L18.5 111.2L16 109.7L16.9 113L16.4 117.6L19.2 121.4L20.2 125.1L19.7 129.3L17.4 130.7L16.6 134.4L15 139.1L15.5 142.3L18.8 145.6L18.3 149.3L10.8 154L0 147.5Z" fill="#c7d94d"/><path d="M4.7 22.0L0.0 22.0L0.0 26.4ZM30.1 21.7L32.3 22.1L37.4 15.1L37.4 14.7L33.7 12.7L31.0 15.5L28.4 18.5ZM36.3 52.4L30.7 46.5L24.7 54.4L30.0 59.2ZM53.6 6.2L48.4 2.8L44.3 9.6L44.7 9.8L50.4 10.5L53.6 6.3ZM57.2 10.3L57.1 11.4L61.6 14.8L63.1 12.3L59.8 9.7L59.3 9.1ZM57.5 19.5L57.6 18.1L53.9 14.6L52.8 14.5L49.5 18.2L49.5 19.0L53.2 22.0ZM46.5 22.6L42.0 22.5L41.4 23.4L46.4 28.7L48.4 26.3ZM68.0 39.1L65.2 34.1L60.3 38.0L60.3 38.6L65.5 41.3ZM65.5 41.3L60.3 38.6L57.9 41.5L57.9 41.9L61.4 45.6L65.4 42.9ZM86.9 36.8L84.8 39.4L89.5 42.4L89.6 42.3L92.3 38.9L92.2 38.2L89.3 35.7L89.2 35.7ZM81.5 51.2L76.4 54.4L76.4 55.2L81.1 58.4L84.7 54.7L84.5 53.8ZM72.5 29.8L71.2 28.2L71.1 28.2L69.6 29.7L71.5 31.1ZM79.4 29.9L79.2 29.9L77.6 31.5L78.8 33.0L79.4 32.9L80.7 31.4ZM77.7 34.7L78.8 33.0L77.6 31.5L77.4 31.5L76.1 32.7L76.0 33.2Z" fill="#afd962"/><path d="M12.1 28.9L12.2 28.9L16.4 22.0L5.2 22.0ZM12.5 64.8L12.5 65.8L17.2 72.5L23.7 65.9L17.8 61.1ZM43.5 59.9L44.2 59.8L49.6 52.8L44.3 47.4L42.5 47.2L37.1 52.3ZM36.7 65.3L38.0 65.4L43.5 59.9L37.1 52.3L36.3 52.4L30.0 59.2L30.0 59.6ZM23.7 65.9L17.2 72.5L17.2 72.6L25.0 77.6L29.3 72.8L24.1 65.9ZM57.2 73.8L55.5 74.0L50.8 78.2L50.6 79.3L56.3 85.5L63.0 81.1L63.1 77.8ZM56.3 87.0L56.3 85.5L50.6 79.3L44.4 84.9L44.4 85.9L50.8 92.4ZM43.6 99.2L39.2 103.6L43.4 110.5L50.8 104.8ZM87.9 93.6L82.2 97.8L82.1 100.0L82.9 100.9L83.3 100.7L91.1 95.5ZM61.6 15.5L61.6 14.8L57.1 11.4L53.9 14.6L57.6 18.1ZM61.0 22.9L60.2 22.9L57.5 26.4L61.2 29.9L64.3 26.7ZM56.4 26.7L53.7 29.8L57.8 33.6L61.3 30.7L61.2 29.9L57.5 26.4ZM64.9 49.7L65.0 51.2L68.4 54.1L72.7 50.7L69.1 46.6L68.2 46.5ZM92.2 38.2L94.5 35.4L90.3 33.0L90.0 33.4L89.3 35.7ZM76.5 45.6L76.6 46.6L81.4 49.4L84.2 46.0L82.1 42.4L80.8 42.3ZM92.2 38.2L92.3 38.9L96.4 41.1L97.7 40.2L95.0 35.7L94.5 35.4ZM85.9 46.2L84.2 46.0L81.4 49.4L81.5 51.2L84.5 53.8L89.0 49.7ZM66.4 26.7L67.4 29.9L69.6 29.7L71.1 28.2L69.5 26.5L66.5 26.5ZM79.3 26.6L77.9 25.0L76.2 26.0L76.2 26.6L77.8 28.3L78.0 28.3ZM81.2 31.5L82.9 29.7L82.8 29.5L81.3 28.4L79.4 29.9L80.7 31.4ZM82.8 29.5L82.9 29.7L84.5 31.3L85.6 30.2L83.6 28.8ZM82.3 33.0L81.2 31.5L80.7 31.4L79.4 32.9L80.8 34.5L81.1 34.5ZM85.6 32.8L84.5 31.4L82.4 33.0L84.2 34.6L84.7 34.5Z" fill="#bcd956"/><path d="M5.3 34.7L12.1 28.9L5.2 22.0L4.7 22.0L0.0 26.4L0.0 28.9ZM30.1 21.7L24.2 26.0L24.2 28.1L30.5 33.3L31.9 33.3L36.5 27.8L32.3 22.1ZM0.2 65.4L4.4 60.2L0.3 53.0L0.0 52.9L0.0 65.4ZM100.9 66.1L105.2 62.8L101.6 59.2L99.6 57.3L96.4 59.7L96.1 60.8Z" fill="#99d367"/><path d="M5.2 35.6L5.3 34.7L0.0 28.9L0.0 39.3ZM28.4 18.5L25.3 22.0L20.3 22.0L24.2 26.0L30.1 21.7ZM12.2 28.9L17.7 33.1L24.2 28.1L24.2 26.0L20.3 22.0L16.4 22.0ZM11.8 51.9L7.1 47.7L5.4 48.1L0.3 53.0L4.4 60.2L6.5 60.1L12.1 53.9ZM30.6 45.8L24.6 42.7L19.7 46.9L22.8 54.0L24.7 54.4L30.7 46.5ZM5.6 73.4L0.0 78.4L0.0 79.6L4.9 85.1L5.8 85.1L12.4 78.2L12.3 77.7ZM24.1 91.6L18.0 85.9L12.3 90.3L11.7 93.1L17.1 98.7ZM55.5 74.0L50.2 66.2L43.7 72.1L50.8 78.2ZM43.7 98.9L43.6 99.2L50.8 104.8L51.0 104.8L56.4 99.3L56.3 98.5L50.9 92.9ZM75.0 91.9L75.0 92.3L82.2 97.8L87.9 93.6L87.4 90.4L81.9 86.7ZM65.7 107.2L70.3 106.0L75.4 103.9L70.3 99.3L69.3 99.5L63.9 104.9ZM57.8 34.4L57.8 33.6L53.7 29.8L53.4 29.8L49.9 33.9L52.3 37.5ZM76.1 32.7L74.5 31.2L73.1 32.7L74.7 34.0L76.0 33.2ZM74.7 34.0L74.3 37.2L75.0 37.8L77.7 34.7L77.7 34.7L76.0 33.2ZM79.4 32.9L78.8 33.0L77.7 34.7L77.7 34.7L79.4 35.8L80.8 34.5ZM86.4 32.8L87.6 31.4L85.9 30.5L85.6 30.2L84.5 31.3L84.5 31.4L85.6 32.8ZM81.1 34.5L80.8 34.5L79.4 35.8L79.6 37.5L82.8 37.6L82.7 36.3Z" fill="#b8d95a"/><path d="M42.1 9.4L44.3 9.6L48.4 2.8L48.2 1.9L46.8 3.8L40.1 6.2ZM4.9 85.1L0.0 79.6L0.0 92.3ZM12.3 77.7L12.4 78.2L18.0 85.1L24.9 78.8L25.0 77.6L17.2 72.6ZM25.0 77.6L24.9 78.8L31.1 85.2L37.5 79.8L37.4 78.4L29.7 72.8L29.3 72.8ZM30.6 98.6L37.0 92.2L31.1 85.3L24.5 91.6L30.1 98.7ZM25.8 103.9L32.0 112.0L37.4 103.7L30.6 98.6L30.1 98.7ZM39.2 103.6L37.4 103.7L32.0 112.0L32.1 112.8L42.5 111.9L43.3 111.5L43.4 110.5ZM69.3 99.5L70.3 99.3L75.0 92.3L75.0 91.9L70.2 86.9L67.6 86.8L62.6 92.0L62.5 92.7ZM69.3 33.2L66.7 32.5L65.2 33.6L65.2 34.1L68.0 39.1L68.2 39.1L71.3 36.5L71.0 35.1ZM61.4 45.6L61.3 47.3L64.9 49.7L68.2 46.5L65.4 42.9ZM69.1 46.6L72.7 50.7L73.0 50.7L76.6 46.6L76.5 45.6L73.8 42.6L72.3 42.7ZM84.7 54.7L81.1 58.4L81.2 62.3L88.5 64.6L89.1 63.7L88.0 57.2ZM69.5 26.5L71.1 28.2L71.2 28.2L72.9 26.6L71.2 25.3ZM77.4 31.5L75.9 29.7L74.5 30.9L74.5 31.2L76.1 32.7ZM86.4 32.8L89.2 35.7L89.3 35.7L90.0 33.4L88.1 31.8L87.6 31.4Z" fill="#d3d942"/><path d="M42.1 9.4L40.1 6.2L39.6 6.4L33.7 12.7L37.4 14.7ZM42.0 22.5L40.9 18.7L37.4 15.1L32.3 22.1L36.5 27.8L37.3 27.7L41.4 23.4ZM42.2 37.6L41.8 31.0L37.3 27.7L36.5 27.8L31.9 33.3L36.1 39.9L38.7 40.4ZM6.5 60.1L4.4 60.2L0.2 65.4L5.5 72.1L12.5 65.8L12.5 64.8ZM43.7 72.1L42.0 71.9L37.4 78.4L37.5 79.8L44.4 84.9L50.6 79.3L50.8 78.2ZM51.0 104.8L54.0 110.1L57.2 109.5L60.2 108.7L63.5 104.9L56.4 99.3ZM52.8 14.5L50.4 10.5L44.7 9.8L46.6 16.2L49.5 18.2ZM49.5 19.0L46.5 22.6L48.4 26.3L49.7 26.5L53.3 22.5L53.2 22.0ZM77.4 24.1L76.2 23.1L74.8 24.6L76.2 26.0L77.9 25.0L77.9 24.9ZM71.5 31.1L69.6 29.7L67.4 29.9L66.7 32.5L69.3 33.2L71.5 31.2Z" fill="#c5d94e"/><path d="M12.2 28.9L12.1 28.9L5.3 34.7L5.2 35.6L10.3 41.4L13.2 41.1L18.0 35.1L17.7 33.1ZM91.9 54.2L93.4 54.4L95.7 51.7L95.0 49.0L93.0 47.2L89.1 49.7ZM84.2 34.6L82.7 36.3L82.8 37.6L84.3 39.4L84.8 39.4L86.9 36.8L84.7 34.5Z" fill="#a0d669"/><path d="M5.4 48.1L7.1 47.7L10.3 41.4L5.2 35.6L0.0 39.3L0.0 42.3ZM96.4 59.7L99.6 57.3L96.3 54.0L95.7 51.7L93.4 54.4Z" fill="#86ca63"/><path d="M0.0 42.3L0.0 52.9L0.3 53.0L5.4 48.1Z" fill="#59b459"/><path d="M44.7 9.8L44.3 9.6L42.1 9.4L37.4 14.7L37.4 15.1L40.9 18.7L46.6 16.2ZM12.5 65.8L5.5 72.1L5.6 73.4L12.3 77.7L17.2 72.6L17.2 72.5ZM24.1 65.9L29.3 72.8L29.7 72.8L36.7 65.3L30.0 59.6ZM56.2 61.6L56.6 58.9L50.3 52.8L49.6 52.8L44.2 59.8L50.3 64.7ZM50.9 92.9L56.3 98.5L62.5 92.7L62.6 92.0L56.3 87.0L50.8 92.4ZM50.8 104.8L43.4 110.5L43.3 111.5L43.7 111.8L44.2 111.8L54.0 110.1L51.0 104.8ZM81.9 86.7L87.4 90.4L92.6 85.0L87.9 79.0L87.2 78.8L81.8 84.2ZM96.4 85.2L92.6 85.0L87.4 90.4L87.9 93.6L91.1 95.5L91.1 95.5L92.4 91.0L96.7 85.9ZM48.4 2.8L53.6 6.2L55.0 4.8L53.3 3.1L49.7 0.5L48.8 1.1L48.2 1.9ZM61.6 14.8L61.6 15.5L64.6 18.1L67.7 16.0L63.1 12.3ZM42.2 37.6L44.4 37.7L49.4 33.9L45.7 30.2L41.8 31.0ZM79.6 37.5L78.1 39.2L80.8 42.3L82.1 42.4L84.3 39.4L82.8 37.6ZM80.0 26.1L78.1 24.7L77.9 24.9L77.9 25.0L79.3 26.6L79.7 26.6ZM72.9 32.7L71.5 31.2L69.3 33.2L71.0 35.1Z" fill="#ced946"/><path d="M24.2 28.1L17.7 33.1L18.0 35.1L24.2 39.5L30.5 33.3ZM22.8 54.0L19.7 46.9L18.9 46.7L11.8 51.9L12.1 53.9L18.1 57.6ZM42.5 47.2L44.3 47.4L49.2 42.2L44.4 37.7L42.2 37.6L38.7 40.4ZM64.8 65.9L66.5 63.4L65.5 58.6L60.1 56.4L56.6 58.9L56.2 61.6L61.0 66.4ZM100.8 67.0L95.2 71.8L95.4 74.2L99.7 78.6L104.6 74.0L105.4 71.6ZM99.7 78.6L100.0 80.5L100.6 80.7L104.2 75.3L104.6 74.0ZM64.7 19.9L64.6 18.1L61.6 15.5L57.6 18.1L57.5 19.5L60.2 22.9L61.0 22.9ZM57.9 41.5L52.4 38.4L49.5 42.1L54.1 46.1L57.9 41.9ZM73.7 59.0L68.3 55.3L65.5 58.6L66.5 63.4L73.7 62.6ZM95.0 49.0L95.0 48.8L98.0 44.0L96.6 42.9L93.0 46.5L93.0 47.2ZM74.1 27.8L72.9 26.6L72.9 26.6L71.2 28.2L72.5 29.8L73.0 29.7ZM74.5 27.9L74.1 27.8L73.0 29.7L74.5 30.9L75.9 29.7L75.9 29.7ZM74.5 31.2L74.5 30.9L73.0 29.7L72.5 29.8L71.5 31.1L71.5 31.2L72.9 32.7L73.1 32.7Z" fill="#b3d95e"/><path d="M18.0 35.1L13.2 41.1L18.9 46.7L19.7 46.9L24.6 42.7L24.2 39.5ZM46.4 28.7L45.7 30.2L49.4 33.9L49.9 33.9L53.4 29.8L49.7 26.5L48.4 26.3Z" fill="#a6d96a"/><path d="M13.2 41.1L10.3 41.4L7.1 47.7L11.8 51.9L18.9 46.7Z" fill="#7fc661"/><path d="M37.3 27.7L41.8 31.0L45.7 30.2L46.4 28.7L41.4 23.4ZM5.6 73.4L5.5 72.1L0.2 65.4L0.0 65.4L0.0 78.4ZM37.1 52.3L42.5 47.2L38.7 40.4L36.1 39.9L30.6 45.8L30.7 46.5L36.3 52.4ZM49.5 42.1L49.2 42.2L44.3 47.4L49.6 52.8L50.3 52.8L54.3 48.9L54.1 46.1ZM12.3 90.3L5.8 85.1L4.9 85.1L0.0 92.3L0.0 92.5L5.2 96.7L11.7 93.1ZM44.4 85.9L38.8 92.2L43.7 98.9L50.9 92.9L50.8 92.4ZM100.9 66.1L100.8 67.0L105.4 71.6L106.1 69.7L105.5 63.1L105.2 62.8ZM53.6 6.2L53.6 6.3L57.2 10.3L59.3 9.1L55.0 4.8ZM49.7 26.5L53.4 29.8L53.7 29.8L56.4 26.7L53.3 22.5ZM67.5 23.0L66.9 21.7L64.7 19.9L61.0 22.9L64.3 26.7L66.4 26.7L66.5 26.5ZM64.3 26.7L61.2 29.9L61.3 30.7L65.2 33.6L66.7 32.5L67.4 29.9L66.4 26.7ZM58.0 49.7L60.4 54.4L65.0 51.2L64.9 49.7L61.3 47.3ZM60.4 54.4L60.1 56.4L65.5 58.6L68.3 55.3L68.4 54.1L65.0 51.2ZM82.1 42.4L84.2 46.0L85.9 46.2L89.5 42.4L84.8 39.4L84.3 39.4ZM68.4 54.1L68.3 55.3L73.7 59.0L76.4 55.2L76.4 54.4L73.0 50.7L72.7 50.7ZM81.2 62.3L81.1 58.4L76.4 55.2L73.7 59.0L73.7 62.6L76.2 64.9ZM77.8 28.3L76.2 26.6L74.5 27.9L75.9 29.7ZM79.2 29.9L79.4 29.9L81.3 28.4L81.2 27.6L79.7 26.6L79.3 26.6L78.0 28.3ZM73.1 32.7L72.9 32.7L71.0 35.1L71.3 36.5L74.3 37.2L74.7 34.0ZM81.2 27.6L81.3 28.4L82.8 29.5L83.6 28.8L81.6 27.3Z" fill="#c1d952"/><path d="M31.9 33.3L30.5 33.3L24.2 39.5L24.6 42.7L30.6 45.8L36.1 39.9ZM76.2 67.1L76.2 64.9L73.7 62.6L66.5 63.4L64.8 65.9L70.0 73.7ZM53.6 6.3L50.4 10.5L52.8 14.5L53.9 14.6L57.1 11.4L57.2 10.3ZM96.4 41.1L96.6 42.9L98.0 44.0L99.0 42.3L97.7 40.2Z" fill="#aad966"/><path d="M18.1 57.6L12.1 53.9L6.5 60.1L12.5 64.8L17.8 61.1ZM5.8 85.1L12.3 90.3L18.0 85.9L18.0 85.1L12.4 78.2ZM73.0 23.1L74.4 24.6L74.8 24.6L76.2 23.1L74.5 21.7Z" fill="#e9d92e"/><path d="M30.0 59.2L24.7 54.4L22.8 54.0L18.1 57.6L17.8 61.1L23.7 65.9L24.1 65.9L30.0 59.6ZM50.3 52.8L56.6 58.9L60.1 56.4L60.4 54.4L58.0 49.7L54.3 48.9ZM50.3 64.7L44.2 59.8L43.5 59.9L38.0 65.4L42.0 71.9L43.7 72.1L50.2 66.2ZM29.7 72.8L37.4 78.4L42.0 71.9L38.0 65.4L36.7 65.3ZM24.9 78.8L18.0 85.1L18.0 85.9L24.1 91.6L24.5 91.6L31.1 85.3L31.1 85.2ZM64.8 65.9L61.0 66.4L57.2 73.8L63.1 77.8L70.0 73.9L70.0 73.7ZM82.8 72.9L83.4 72.9L88.7 66.8L88.5 64.6L81.2 62.3L76.2 64.9L76.2 67.1ZM62.6 92.0L67.6 86.8L63.0 81.1L56.3 85.5L56.3 87.0ZM89.1 63.7L88.5 64.6L88.7 66.8L95.2 71.8L100.8 67.0L100.9 66.1L96.1 60.8ZM49.5 19.0L49.5 18.2L46.6 16.2L40.9 18.7L42.0 22.5L46.5 22.6ZM69.7 19.6L70.1 18.0L67.7 16.0L64.6 18.1L64.7 19.9L66.9 21.7ZM52.3 37.5L49.9 33.9L49.4 33.9L44.4 37.7L49.2 42.2L49.5 42.1L52.4 38.4ZM61.3 30.7L57.8 33.6L57.8 34.4L60.3 38.0L65.2 34.1L65.2 33.6ZM60.3 38.6L60.3 38.0L57.8 34.4L52.3 37.5L52.4 38.4L57.9 41.5ZM57.9 41.9L54.1 46.1L54.3 48.9L58.0 49.7L61.3 47.3L61.4 45.6ZM68.2 46.5L69.1 46.6L72.3 42.7L68.2 39.1L68.0 39.1L65.5 41.3L65.4 42.9ZM73.8 42.6L76.5 45.6L80.8 42.3L78.1 39.2L75.6 38.9ZM79.7 26.6L81.2 27.6L81.6 27.3L80.0 26.1ZM79.2 29.9L78.0 28.3L77.8 28.3L75.9 29.7L75.9 29.7L77.4 31.5L77.6 31.5ZM82.4 33.0L82.3 33.0L81.1 34.5L82.7 36.3L84.2 34.6Z" fill="#cad94a"/><path d="M5.6 105.3L5.2 96.7L0.0 92.5L0.0 109.7ZM70.0 73.9L74.8 78.8L75.0 78.8L82.8 72.9L76.2 67.1L70.0 73.7ZM87.2 78.8L87.9 79.0L95.4 74.2L95.2 71.8L88.7 66.8L83.4 72.9ZM81.8 84.2L87.2 78.8L83.4 72.9L82.8 72.9L75.0 78.8ZM100.0 80.5L96.4 85.2L96.7 85.9L99.0 83.1L100.6 80.7Z" fill="#e0d936"/><path d="M17.1 98.7L11.7 93.1L5.2 96.7L5.6 105.3L17.1 106.2L17.5 105.8ZM96.4 85.2L100.0 80.5L99.7 78.6L95.4 74.2L87.9 79.0L92.6 85.0ZM69.7 19.6L71.6 21.4L72.7 20.2L70.3 18.1L70.1 18.0ZM69.2 23.1L71.6 21.5L71.6 21.4L69.7 19.6L66.9 21.7L67.5 23.0ZM72.9 23.1L71.6 21.5L69.2 23.1L71.2 24.6Z" fill="#f2d926"/><path d="M56.2 61.6L50.3 64.7L50.2 66.2L55.5 74.0L57.2 73.8L61.0 66.4ZM44.4 84.9L37.5 79.8L31.1 85.2L31.1 85.3L37.0 92.2L38.8 92.2L44.4 85.9ZM82.1 100.0L77.1 103.2L82.9 100.9ZM57.5 19.5L53.2 22.0L53.3 22.5L56.4 26.7L57.5 26.4L60.2 22.9ZM68.2 39.1L72.3 42.7L73.8 42.6L75.6 38.9L75.0 37.8L74.3 37.2L71.3 36.5ZM73.0 50.7L76.4 54.4L81.5 51.2L81.4 49.4L76.6 46.6ZM85.9 46.2L89.0 49.7L89.1 49.7L93.0 47.2L93.0 46.5L89.6 42.3L89.5 42.4ZM89.0 49.7L84.5 53.8L84.7 54.7L88.0 57.2L91.9 54.2L89.1 49.7ZM77.7 34.7L75.0 37.8L75.6 38.9L78.1 39.2L79.6 37.5L79.4 35.8ZM86.9 36.8L89.2 35.7L86.4 32.8L85.6 32.8L84.7 34.5Z" fill="#d7d93e"/><path d="M24.5 91.6L24.1 91.6L17.1 98.7L17.5 105.8L25.8 103.9L30.1 98.7Z" fill="#ffd91a"/><path d="M38.8 92.2L37.0 92.2L30.6 98.6L37.4 103.7L39.2 103.6L43.6 99.2L43.7 98.9ZM56.4 99.3L63.5 104.9L63.9 104.9L69.3 99.5L62.5 92.7L56.3 98.5ZM82.1 100.0L82.2 97.8L75.0 92.3L70.3 99.3L75.4 103.9L77.1 103.2ZM60.2 108.7L65.7 107.2L63.9 104.9L63.5 104.9ZM93.0 46.5L96.6 42.9L96.4 41.1L92.3 38.9L89.6 42.3ZM69.5 26.5L71.2 25.3L71.2 24.6L69.2 23.1L67.5 23.0L66.5 26.5ZM76.2 26.6L76.2 26.0L74.8 24.6L74.4 24.6L72.9 26.6L74.1 27.8L74.5 27.9ZM84.5 31.3L82.9 29.7L81.2 31.5L82.3 33.0L82.4 33.0L84.5 31.4ZM0.0 122.4L0.0 147.5L10.8 154.0L18.3 149.3L18.8 145.6L15.5 142.3L15.0 139.1L16.6 134.4L17.4 130.7L19.7 129.3L20.0 126.7Z" fill="#dbd93a"/><path d="M32.0 112.0L25.8 103.9L17.5 105.8L17.1 106.2L17.8 110.8L18.5 111.2L23.3 112.5L31.1 112.9L32.1 112.8ZM70.2 86.9L75.0 91.9L81.9 86.7L81.8 84.2L75.0 78.8L74.8 78.8Z" fill="#edd92a"/><path d="M63.1 77.8L63.0 81.1L67.6 86.8L70.2 86.9L74.8 78.8L70.0 73.9Z" fill="#e4d932"/><path d="M88.0 57.2L89.1 63.7L96.1 60.8L96.4 59.7L93.4 54.4L91.9 54.2Z" fill="#93d066"/><path d="M71.6 21.4L71.6 21.5L72.9 23.1L73.0 23.1L74.5 21.7L72.7 20.2ZM17.1 106.2L5.6 105.3L0.0 109.7L0.0 122.4L20.0 126.7L20.0 126.6L19.4 122.1L19.2 121.4L16.4 117.6L16.9 113.0L16.0 109.7L17.8 110.8Z" fill="#f6d922"/><path d="M72.9 26.6L72.9 26.6L74.4 24.6L73.0 23.1L72.9 23.1L71.2 24.6L71.2 25.3Z" fill="#fbd91e"/><circle cx="77.5" cy="24.5" r="8" fill="url(#gba)" stroke="none" clip-path="url(#pc)"/></g>
<g transform="translate(566.6 447.3)"><path d="M0 22L25.3 22L31 15.5L39.6 6.4L46.8 3.8L49.4 0.3L53.3 3.1L59.8 9.7L70.3 18.1L78.1 24.7L85.9 30.5L95 35.7L99 42.3L95 48.8L96.3 54L101.6 59.2L105.5 63.1L106.1 69.7L104.2 75.3L99 83.1L92.4 91L91.1 95.5L83.3 100.7L70.3 106L57.2 109.5L44.2 111.8L31.1 112.9L23.3 112.5L18.5 111.2L16 109.7L16.9 113L16.4 117.6L19.2 121.4L20.2 125.1L19.7 129.3L17.4 130.7L16.6 134.4L15 139.1L15.5 142.3L18.8 145.6L18.3 149.3L10.8 154L0 147.5Z" fill="#eb8359"/><path d="M4.7 22.0L0.0 22.0L0.0 26.4Z" fill="#ca4a3f"/><path d="M12.1 28.9L12.2 28.9L16.4 22.0L5.2 22.0ZM24.1 65.9L29.3 72.8L29.7 72.8L36.7 65.3L30.0 59.6ZM96.4 85.2L100.0 80.5L99.7 78.6L95.4 74.2L87.9 79.0L92.6 85.0ZM96.4 85.2L92.6 85.0L87.4 90.4L87.9 93.6L91.1 95.5L91.1 95.5L92.4 91.0L96.7 85.9ZM49.7 26.5L53.4 29.8L53.7 29.8L56.4 26.7L53.3 22.5ZM93.0 46.5L96.6 42.9L96.4 41.1L92.3 38.9L89.6 42.3ZM69.7 19.6L71.6 21.4L72.7 20.2L70.3 18.1L70.1 18.0ZM69.2 23.1L71.6 21.5L71.6 21.4L69.7 19.6L66.9 21.7L67.5 23.0Z" fill="#da654b"/><path d="M5.3 34.7L12.1 28.9L5.2 22.0L4.7 22.0L0.0 26.4L0.0 28.9ZM69.7 19.6L70.1 18.0L67.7 16.0L64.6 18.1L64.7 19.9L66.9 21.7Z" fill="#bb3032"/><path d="M5.2 35.6L5.3 34.7L0.0 28.9L0.0 39.3ZM42.1 9.4L44.3 9.6L48.4 2.8L48.2 1.9L46.8 3.8L40.1 6.2ZM37.1 52.3L42.5 47.2L38.7 40.4L36.1 39.9L30.6 45.8L30.7 46.5L36.3 52.4ZM70.0 73.9L74.8 78.8L75.0 78.8L82.8 72.9L76.2 67.1L70.0 73.7Z" fill="#d45a46"/><path d="M42.1 9.4L40.1 6.2L39.6 6.4L33.7 12.7L37.4 14.7ZM28.4 18.5L25.3 22.0L20.3 22.0L24.2 26.0L30.1 21.7ZM44.7 9.8L44.3 9.6L42.1 9.4L37.4 14.7L37.4 15.1L40.9 18.7L46.6 16.2ZM37.3 27.7L41.8 31.0L45.7 30.2L46.4 28.7L41.4 23.4ZM5.6 73.4L5.5 72.1L0.2 65.4L0.0 65.4L0.0 78.4ZM56.2 61.6L56.6 58.9L50.3 52.8L49.6 52.8L44.2 59.8L50.3 64.7ZM82.8 72.9L83.4 72.9L88.7 66.8L88.5 64.6L81.2 62.3L76.2 64.9L76.2 67.1ZM87.2 78.8L87.9 79.0L95.4 74.2L95.2 71.8L88.7 66.8L83.4 72.9ZM70.2 86.9L75.0 91.9L81.9 86.7L81.8 84.2L75.0 78.8L74.8 78.8ZM46.5 22.6L42.0 22.5L41.4 23.4L46.4 28.7L48.4 26.3ZM61.0 22.9L60.2 22.9L57.5 26.4L61.2 29.9L64.3 26.7ZM85.9 46.2L89.0 49.7L89.1 49.7L93.0 47.2L93.0 46.5L89.6 42.3L89.5 42.4ZM77.7 34.7L78.8 33.0L77.6 31.5L77.4 31.5L76.1 32.7L76.0 33.2ZM82.8 29.5L82.9 29.7L84.5 31.3L85.6 30.2L83.6 28.8ZM81.1 34.5L80.8 34.5L79.4 35.8L79.6 37.5L82.8 37.6L82.7 36.3ZM86.9 36.8L89.2 35.7L86.4 32.8L85.6 32.8L84.7 34.5Z" fill="#ec855a"/><path d="M30.1 21.7L32.3 22.1L37.4 15.1L37.4 14.7L33.7 12.7L31.0 15.5L28.4 18.5ZM6.5 60.1L4.4 60.2L0.2 65.4L5.5 72.1L12.5 65.8L12.5 64.8ZM49.5 42.1L49.2 42.2L44.3 47.4L49.6 52.8L50.3 52.8L54.3 48.9L54.1 46.1ZM49.5 19.0L49.5 18.2L46.6 16.2L40.9 18.7L42.0 22.5L46.5 22.6ZM57.5 19.5L53.2 22.0L53.3 22.5L56.4 26.7L57.5 26.4L60.2 22.9ZM61.4 45.6L61.3 47.3L64.9 49.7L68.2 46.5L65.4 42.9ZM77.4 31.5L75.9 29.7L74.5 30.9L74.5 31.2L76.1 32.7ZM84.5 31.3L82.9 29.7L81.2 31.5L82.3 33.0L82.4 33.0L84.5 31.4Z" fill="#dd6a4d"/><path d="M12.2 28.9L17.7 33.1L24.2 28.1L24.2 26.0L20.3 22.0L16.4 22.0ZM0.0 122.4L0.0 147.5L10.8 154.0L18.3 149.3L18.8 145.6L15.5 142.3L15.0 139.1L16.6 134.4L17.4 130.7L19.7 129.3L20.0 126.7Z" fill="#b2202b"/><path d="M12.2 28.9L12.1 28.9L5.3 34.7L5.2 35.6L10.3 41.4L13.2 41.1L18.0 35.1L17.7 33.1ZM18.0 35.1L13.2 41.1L18.9 46.7L19.7 46.9L24.6 42.7L24.2 39.5ZM13.2 41.1L10.3 41.4L7.1 47.7L11.8 51.9L18.9 46.7ZM50.3 64.7L44.2 59.8L43.5 59.9L38.0 65.4L42.0 71.9L43.7 72.1L50.2 66.2ZM25.8 103.9L32.0 112.0L37.4 103.7L30.6 98.6L30.1 98.7ZM63.1 77.8L63.0 81.1L67.6 86.8L70.2 86.9L74.8 78.8L70.0 73.9ZM89.1 63.7L88.5 64.6L88.7 66.8L95.2 71.8L100.8 67.0L100.9 66.1L96.1 60.8Z" fill="#f6ae3e"/><path d="M5.4 48.1L7.1 47.7L10.3 41.4L5.2 35.6L0.0 39.3L0.0 42.3ZM0.0 42.3L0.0 52.9L0.3 53.0L5.4 48.1ZM30.6 45.8L24.6 42.7L19.7 46.9L22.8 54.0L24.7 54.4L30.7 46.5ZM36.7 65.3L38.0 65.4L43.5 59.9L37.1 52.3L36.3 52.4L30.0 59.2L30.0 59.6ZM29.7 72.8L37.4 78.4L42.0 71.9L38.0 65.4L36.7 65.3ZM56.3 87.0L56.3 85.5L50.6 79.3L44.4 84.9L44.4 85.9L50.8 92.4ZM56.4 99.3L63.5 104.9L63.9 104.9L69.3 99.5L62.5 92.7L56.3 98.5ZM69.5 26.5L71.1 28.2L71.2 28.2L72.9 26.6L71.2 25.3ZM73.1 32.7L72.9 32.7L71.0 35.1L71.3 36.5L74.3 37.2L74.7 34.0ZM82.3 33.0L81.2 31.5L80.7 31.4L79.4 32.9L80.8 34.5L81.1 34.5Z" fill="#e67a55"/><path d="M42.0 22.5L40.9 18.7L37.4 15.1L32.3 22.1L36.5 27.8L37.3 27.7L41.4 23.4ZM12.3 77.7L12.4 78.2L18.0 85.1L24.9 78.8L25.0 77.6L17.2 72.6ZM5.6 105.3L5.2 96.7L0.0 92.5L0.0 109.7ZM55.5 74.0L50.2 66.2L43.7 72.1L50.8 78.2ZM32.0 112.0L25.8 103.9L17.5 105.8L17.1 106.2L17.8 110.8L18.5 111.2L23.3 112.5L31.1 112.9L32.1 112.8ZM62.6 92.0L67.6 86.8L63.0 81.1L56.3 85.5L56.3 87.0ZM52.8 14.5L50.4 10.5L44.7 9.8L46.6 16.2L49.5 18.2ZM42.2 37.6L44.4 37.7L49.4 33.9L45.7 30.2L41.8 31.0Z" fill="#e06f50"/><path d="M30.1 21.7L24.2 26.0L24.2 28.1L30.5 33.3L31.9 33.3L36.5 27.8L32.3 22.1ZM24.1 91.6L18.0 85.9L12.3 90.3L11.7 93.1L17.1 98.7ZM17.1 106.2L5.6 105.3L0.0 109.7L0.0 122.4L20.0 126.7L20.0 126.6L19.4 122.1L19.2 121.4L16.4 117.6L16.9 113.0L16.0 109.7L17.8 110.8Z" fill="#d05544"/><path d="M24.2 28.1L17.7 33.1L18.0 35.1L24.2 39.5L30.5 33.3ZM31.9 33.3L30.5 33.3L24.2 39.5L24.6 42.7L30.6 45.8L36.1 39.9ZM30.0 59.2L24.7 54.4L22.8 54.0L18.1 57.6L17.8 61.1L23.7 65.9L24.1 65.9L30.0 59.6ZM12.3 90.3L5.8 85.1L4.9 85.1L0.0 92.3L0.0 92.5L5.2 96.7L11.7 93.1ZM64.8 65.9L66.5 63.4L65.5 58.6L60.1 56.4L56.6 58.9L56.2 61.6L61.0 66.4ZM60.2 108.7L65.7 107.2L63.9 104.9L63.5 104.9ZM100.0 80.5L96.4 85.2L96.7 85.9L99.0 83.1L100.6 80.7ZM48.4 2.8L53.6 6.2L55.0 4.8L53.3 3.1L49.7 0.5L48.8 1.1L48.2 1.9ZM49.5 19.0L46.5 22.6L48.4 26.3L49.7 26.5L53.3 22.5L53.2 22.0ZM64.7 19.9L64.6 18.1L61.6 15.5L57.6 18.1L57.5 19.5L60.2 22.9L61.0 22.9ZM73.7 59.0L68.3 55.3L65.5 58.6L66.5 63.4L73.7 62.6ZM92.2 38.2L92.3 38.9L96.4 41.1L97.7 40.2L95.0 35.7L94.5 35.4ZM71.6 21.4L71.6 21.5L72.9 23.1L73.0 23.1L74.5 21.7L72.7 20.2ZM73.0 23.1L74.4 24.6L74.8 24.6L76.2 23.1L74.5 21.7ZM79.3 26.6L77.9 25.0L76.2 26.0L76.2 26.6L77.8 28.3L78.0 28.3ZM77.8 28.3L76.2 26.6L74.5 27.9L75.9 29.7ZM77.7 34.7L75.0 37.8L75.6 38.9L78.1 39.2L79.6 37.5L79.4 35.8ZM86.4 32.8L89.2 35.7L89.3 35.7L90.0 33.4L88.1 31.8L87.6 31.4Z" fill="#f19255"/><path d="M11.8 51.9L7.1 47.7L5.4 48.1L0.3 53.0L4.4 60.2L6.5 60.1L12.1 53.9ZM18.1 57.6L12.1 53.9L6.5 60.1L12.5 64.8L17.8 61.1ZM69.3 99.5L70.3 99.3L75.0 92.3L75.0 91.9L70.2 86.9L67.6 86.8L62.6 92.0L62.5 92.7Z" fill="#cd5041"/><path d="M0.2 65.4L4.4 60.2L0.3 53.0L0.0 52.9L0.0 65.4ZM42.2 37.6L41.8 31.0L37.3 27.7L36.5 27.8L31.9 33.3L36.1 39.9L38.7 40.4ZM12.5 65.8L5.5 72.1L5.6 73.4L12.3 77.7L17.2 72.6L17.2 72.5ZM57.8 34.4L57.8 33.6L53.7 29.8L53.4 29.8L49.9 33.9L52.3 37.5ZM57.9 41.9L54.1 46.1L54.3 48.9L58.0 49.7L61.3 47.3L61.4 45.6ZM86.9 36.8L84.8 39.4L89.5 42.4L89.6 42.3L92.3 38.9L92.2 38.2L89.3 35.7L89.2 35.7ZM76.2 26.6L76.2 26.0L74.8 24.6L74.4 24.6L72.9 26.6L74.1 27.8L74.5 27.9ZM72.5 29.8L71.2 28.2L71.1 28.2L69.6 29.7L71.5 31.1ZM74.5 31.2L74.5 30.9L73.0 29.7L72.5 29.8L71.5 31.1L71.5 31.2L72.9 32.7L73.1 32.7Z" fill="#f29a4f"/><path d="M22.8 54.0L19.7 46.9L18.9 46.7L11.8 51.9L12.1 53.9L18.1 57.6Z" fill="#c7453c"/><path d="M42.5 47.2L44.3 47.4L49.2 42.2L44.4 37.7L42.2 37.6L38.7 40.4ZM81.9 86.7L87.4 90.4L92.6 85.0L87.9 79.0L87.2 78.8L81.8 84.2ZM65.7 107.2L70.3 106.0L75.4 103.9L70.3 99.3L69.3 99.5L63.9 104.9ZM57.2 10.3L57.1 11.4L61.6 14.8L63.1 12.3L59.8 9.7L59.3 9.1ZM68.2 39.1L72.3 42.7L73.8 42.6L75.6 38.9L75.0 37.8L74.3 37.2L71.3 36.5ZM82.1 42.4L84.2 46.0L85.9 46.2L89.5 42.4L84.8 39.4L84.3 39.4ZM73.0 50.7L76.4 54.4L81.5 51.2L81.4 49.4L76.6 46.6ZM68.4 54.1L68.3 55.3L73.7 59.0L76.4 55.2L76.4 54.4L73.0 50.7L72.7 50.7ZM74.5 27.9L74.1 27.8L73.0 29.7L74.5 30.9L75.9 29.7L75.9 29.7ZM72.9 32.7L71.5 31.2L69.3 33.2L71.0 35.1ZM81.2 31.5L82.9 29.7L82.8 29.5L81.3 28.4L79.4 29.9L80.7 31.4Z" fill="#f08e59"/><path d="M36.3 52.4L30.7 46.5L24.7 54.4L30.0 59.2ZM24.9 78.8L18.0 85.1L18.0 85.9L24.1 91.6L24.5 91.6L31.1 85.3L31.1 85.2ZM44.4 84.9L37.5 79.8L31.1 85.2L31.1 85.3L37.0 92.2L38.8 92.2L44.4 85.9ZM43.7 98.9L43.6 99.2L50.8 104.8L51.0 104.8L56.4 99.3L56.3 98.5L50.9 92.9ZM53.6 6.2L48.4 2.8L44.3 9.6L44.7 9.8L50.4 10.5L53.6 6.3ZM52.3 37.5L49.9 33.9L49.4 33.9L44.4 37.7L49.2 42.2L49.5 42.1L52.4 38.4ZM96.4 41.1L96.6 42.9L98.0 44.0L99.0 42.3L97.7 40.2ZM72.9 26.6L72.9 26.6L74.4 24.6L73.0 23.1L72.9 23.1L71.2 24.6L71.2 25.3ZM77.4 24.1L76.2 23.1L74.8 24.6L76.2 26.0L77.9 25.0L77.9 24.9ZM79.2 29.9L78.0 28.3L77.8 28.3L75.9 29.7L75.9 29.7L77.4 31.5L77.6 31.5Z" fill="#e97f57"/><path d="M12.5 64.8L12.5 65.8L17.2 72.5L23.7 65.9L17.8 61.1ZM50.3 52.8L56.6 58.9L60.1 56.4L60.4 54.4L58.0 49.7L54.3 48.9ZM61.6 15.5L61.6 14.8L57.1 11.4L53.9 14.6L57.6 18.1ZM57.5 19.5L57.6 18.1L53.9 14.6L52.8 14.5L49.5 18.2L49.5 19.0L53.2 22.0ZM72.9 23.1L71.6 21.5L69.2 23.1L71.2 24.6Z" fill="#f5aa42"/><path d="M5.6 73.4L0.0 78.4L0.0 79.6L4.9 85.1L5.8 85.1L12.4 78.2L12.3 77.7ZM43.5 59.9L44.2 59.8L49.6 52.8L44.3 47.4L42.5 47.2L37.1 52.3ZM25.0 77.6L24.9 78.8L31.1 85.2L37.5 79.8L37.4 78.4L29.7 72.8L29.3 72.8ZM43.7 72.1L42.0 71.9L37.4 78.4L37.5 79.8L44.4 84.9L50.6 79.3L50.8 78.2ZM75.0 91.9L75.0 92.3L82.2 97.8L87.9 93.6L87.4 90.4L81.9 86.7ZM53.6 6.2L53.6 6.3L57.2 10.3L59.3 9.1L55.0 4.8ZM73.8 42.6L76.5 45.6L80.8 42.3L78.1 39.2L75.6 38.9ZM92.2 38.2L94.5 35.4L90.3 33.0L90.0 33.4L89.3 35.7ZM79.7 26.6L81.2 27.6L81.6 27.3L80.0 26.1ZM85.6 32.8L84.5 31.4L82.4 33.0L84.2 34.6L84.7 34.5ZM82.4 33.0L82.3 33.0L81.1 34.5L82.7 36.3L84.2 34.6Z" fill="#e37552"/><path d="M4.9 85.1L0.0 79.6L0.0 92.3ZM56.2 61.6L50.3 64.7L50.2 66.2L55.5 74.0L57.2 73.8L61.0 66.4ZM51.0 104.8L54.0 110.1L57.2 109.5L60.2 108.7L63.5 104.9L56.4 99.3ZM82.1 100.0L77.1 103.2L82.9 100.9ZM61.6 14.8L61.6 15.5L64.6 18.1L67.7 16.0L63.1 12.3ZM64.3 26.7L61.2 29.9L61.3 30.7L65.2 33.6L66.7 32.5L67.4 29.9L66.4 26.7ZM61.3 30.7L57.8 33.6L57.8 34.4L60.3 38.0L65.2 34.1L65.2 33.6ZM60.3 38.6L60.3 38.0L57.8 34.4L52.3 37.5L52.4 38.4L57.9 41.5ZM69.3 33.2L66.7 32.5L65.2 33.6L65.2 34.1L68.0 39.1L68.2 39.1L71.3 36.5L71.0 35.1ZM64.9 49.7L65.0 51.2L68.4 54.1L72.7 50.7L69.1 46.6L68.2 46.5ZM88.0 57.2L89.1 63.7L96.1 60.8L96.4 59.7L93.4 54.4L91.9 54.2ZM74.1 27.8L72.9 26.6L72.9 26.6L71.2 28.2L72.5 29.8L73.0 29.7ZM71.5 31.1L69.6 29.7L67.4 29.9L66.7 32.5L69.3 33.2L71.5 31.2Z" fill="#ef8a5c"/><path d="M23.7 65.9L17.2 72.5L17.2 72.6L25.0 77.6L29.3 72.8L24.1 65.9ZM5.8 85.1L12.3 90.3L18.0 85.9L18.0 85.1L12.4 78.2ZM50.8 104.8L43.4 110.5L43.3 111.5L43.7 111.8L44.2 111.8L54.0 110.1L51.0 104.8ZM87.9 93.6L82.2 97.8L82.1 100.0L82.9 100.9L83.3 100.7L91.1 95.5ZM67.5 23.0L66.9 21.7L64.7 19.9L61.0 22.9L64.3 26.7L66.4 26.7L66.5 26.5Z" fill="#d76048"/><path d="M17.1 98.7L11.7 93.1L5.2 96.7L5.6 105.3L17.1 106.2L17.5 105.8ZM76.2 67.1L76.2 64.9L73.7 62.6L66.5 63.4L64.8 65.9L70.0 73.7ZM57.2 73.8L55.5 74.0L50.8 78.2L50.6 79.3L56.3 85.5L63.0 81.1L63.1 77.8ZM38.8 92.2L37.0 92.2L30.6 98.6L37.4 103.7L39.2 103.6L43.6 99.2L43.7 98.9ZM53.6 6.3L50.4 10.5L52.8 14.5L53.9 14.6L57.1 11.4L57.2 10.3ZM68.0 39.1L65.2 34.1L60.3 38.0L60.3 38.6L65.5 41.3ZM76.5 45.6L76.6 46.6L81.4 49.4L84.2 46.0L82.1 42.4L80.8 42.3ZM85.9 46.2L84.2 46.0L81.4 49.4L81.5 51.2L84.5 53.8L89.0 49.7ZM80.0 26.1L78.1 24.7L77.9 24.9L77.9 25.0L79.3 26.6L79.7 26.6ZM84.2 34.6L82.7 36.3L82.8 37.6L84.3 39.4L84.8 39.4L86.9 36.8L84.7 34.5Z" fill="#f5a645"/><path d="M30.6 98.6L37.0 92.2L31.1 85.3L24.5 91.6L30.1 98.7ZM43.6 99.2L39.2 103.6L43.4 110.5L50.8 104.8ZM39.2 103.6L37.4 103.7L32.0 112.0L32.1 112.8L42.5 111.9L43.3 111.5L43.4 110.5ZM81.8 84.2L87.2 78.8L83.4 72.9L82.8 72.9L75.0 78.8ZM82.1 100.0L82.2 97.8L75.0 92.3L70.3 99.3L75.4 103.9L77.1 103.2ZM79.6 37.5L78.1 39.2L80.8 42.3L82.1 42.4L84.3 39.4L82.8 37.6ZM69.5 26.5L71.2 25.3L71.2 24.6L69.2 23.1L67.5 23.0L66.5 26.5ZM66.4 26.7L67.4 29.9L69.6 29.7L71.1 28.2L69.5 26.5L66.5 26.5ZM81.2 27.6L81.3 28.4L82.8 29.5L83.6 28.8L81.6 27.3ZM79.4 29.9L79.2 29.9L77.6 31.5L78.8 33.0L79.4 32.9L80.7 31.4ZM74.7 34.0L74.3 37.2L75.0 37.8L77.7 34.7L77.7 34.7L76.0 33.2Z" fill="#f4a248"/><path d="M24.5 91.6L24.1 91.6L17.1 98.7L17.5 105.8L25.8 103.9L30.1 98.7ZM44.4 85.9L38.8 92.2L43.7 98.9L50.9 92.9L50.8 92.4ZM100.8 67.0L95.2 71.8L95.4 74.2L99.7 78.6L104.6 74.0L105.4 71.6ZM65.5 41.3L60.3 38.6L57.9 41.5L57.9 41.9L61.4 45.6L65.4 42.9ZM69.1 46.6L72.7 50.7L73.0 50.7L76.6 46.6L76.5 45.6L73.8 42.6L72.3 42.7ZM95.0 49.0L95.0 48.8L98.0 44.0L96.6 42.9L93.0 46.5L93.0 47.2ZM79.2 29.9L79.4 29.9L81.3 28.4L81.2 27.6L79.7 26.6L79.3 26.6L78.0 28.3ZM76.1 32.7L74.5 31.2L73.1 32.7L74.7 34.0L76.0 33.2Z" fill="#f19652"/><path d="M64.8 65.9L61.0 66.4L57.2 73.8L63.1 77.8L70.0 73.9L70.0 73.7ZM79.4 32.9L78.8 33.0L77.7 34.7L77.7 34.7L79.4 35.8L80.8 34.5Z" fill="#f7b13b"/><path d="M50.9 92.9L56.3 98.5L62.5 92.7L62.6 92.0L56.3 87.0L50.8 92.4ZM99.7 78.6L100.0 80.5L100.6 80.7L104.2 75.3L104.6 74.0ZM46.4 28.7L45.7 30.2L49.4 33.9L49.9 33.9L53.4 29.8L49.7 26.5L48.4 26.3ZM56.4 26.7L53.7 29.8L57.8 33.6L61.3 30.7L61.2 29.9L57.5 26.4ZM57.9 41.5L52.4 38.4L49.5 42.1L54.1 46.1L57.9 41.9ZM60.4 54.4L60.1 56.4L65.5 58.6L68.3 55.3L68.4 54.1L65.0 51.2ZM91.9 54.2L93.4 54.4L95.7 51.7L95.0 49.0L93.0 47.2L89.1 49.7ZM96.4 59.7L99.6 57.3L96.3 54.0L95.7 51.7L93.4 54.4Z" fill="#f39e4c"/><path d="M100.9 66.1L105.2 62.8L101.6 59.2L99.6 57.3L96.4 59.7L96.1 60.8ZM58.0 49.7L60.4 54.4L65.0 51.2L64.9 49.7L61.3 47.3ZM81.2 62.3L81.1 58.4L76.4 55.2L73.7 59.0L73.7 62.6L76.2 64.9Z" fill="#f8b538"/><path d="M100.9 66.1L100.8 67.0L105.4 71.6L106.1 69.7L105.5 63.1L105.2 62.8ZM86.4 32.8L87.6 31.4L85.9 30.5L85.6 30.2L84.5 31.3L84.5 31.4L85.6 32.8Z" fill="#f9b934"/><path d="M68.2 46.5L69.1 46.6L72.3 42.7L68.2 39.1L68.0 39.1L65.5 41.3L65.4 42.9Z" fill="#fbc52a"/><path d="M81.5 51.2L76.4 54.4L76.4 55.2L81.1 58.4L84.7 54.7L84.5 53.8Z" fill="#fbd91e"/><path d="M89.0 49.7L84.5 53.8L84.7 54.7L88.0 57.2L91.9 54.2L89.1 49.7Z" fill="#e0d936"/><path d="M84.7 54.7L81.1 58.4L81.2 62.3L88.5 64.6L89.1 63.7L88.0 57.2Z" fill="#ffd91a"/><circle cx="77.5" cy="24.5" r="8" fill="url(#gba)" stroke="none" clip-path="url(#pc)"/></g>
</g>
<text x="693.5" y="397.9" font-size="10.2" fill="#1a1a1a" id="lt">Participación (%)</text>
<rect x="693.4" y="404" width="12.8" height="62.6" fill="url(#lg)"/>
<text x="711.2" y="414.5" font-size="8.8" textLength="9.2" lengthAdjust="spacingAndGlyphs" fill="#262626">90</text><text x="711.2" y="428" font-size="8.8" textLength="9.2" lengthAdjust="spacingAndGlyphs" fill="#262626">80</text><text x="711.2" y="441.5" font-size="8.8" textLength="9.2" lengthAdjust="spacingAndGlyphs" fill="#262626">70</text><text x="711.2" y="455" font-size="8.8" textLength="9.2" lengthAdjust="spacingAndGlyphs" fill="#262626">60</text><text x="711.2" y="468.5" font-size="8.8" textLength="9.2" lengthAdjust="spacingAndGlyphs" fill="#262626">50</text>
<text x="587.6" y="621.9" font-size="8.2" fill="#1a1a1a" stroke="#1a1a1a" stroke-width=".15" id="src">Fuente: CICaD + CEPEL</text>
</svg>
</body></html>
